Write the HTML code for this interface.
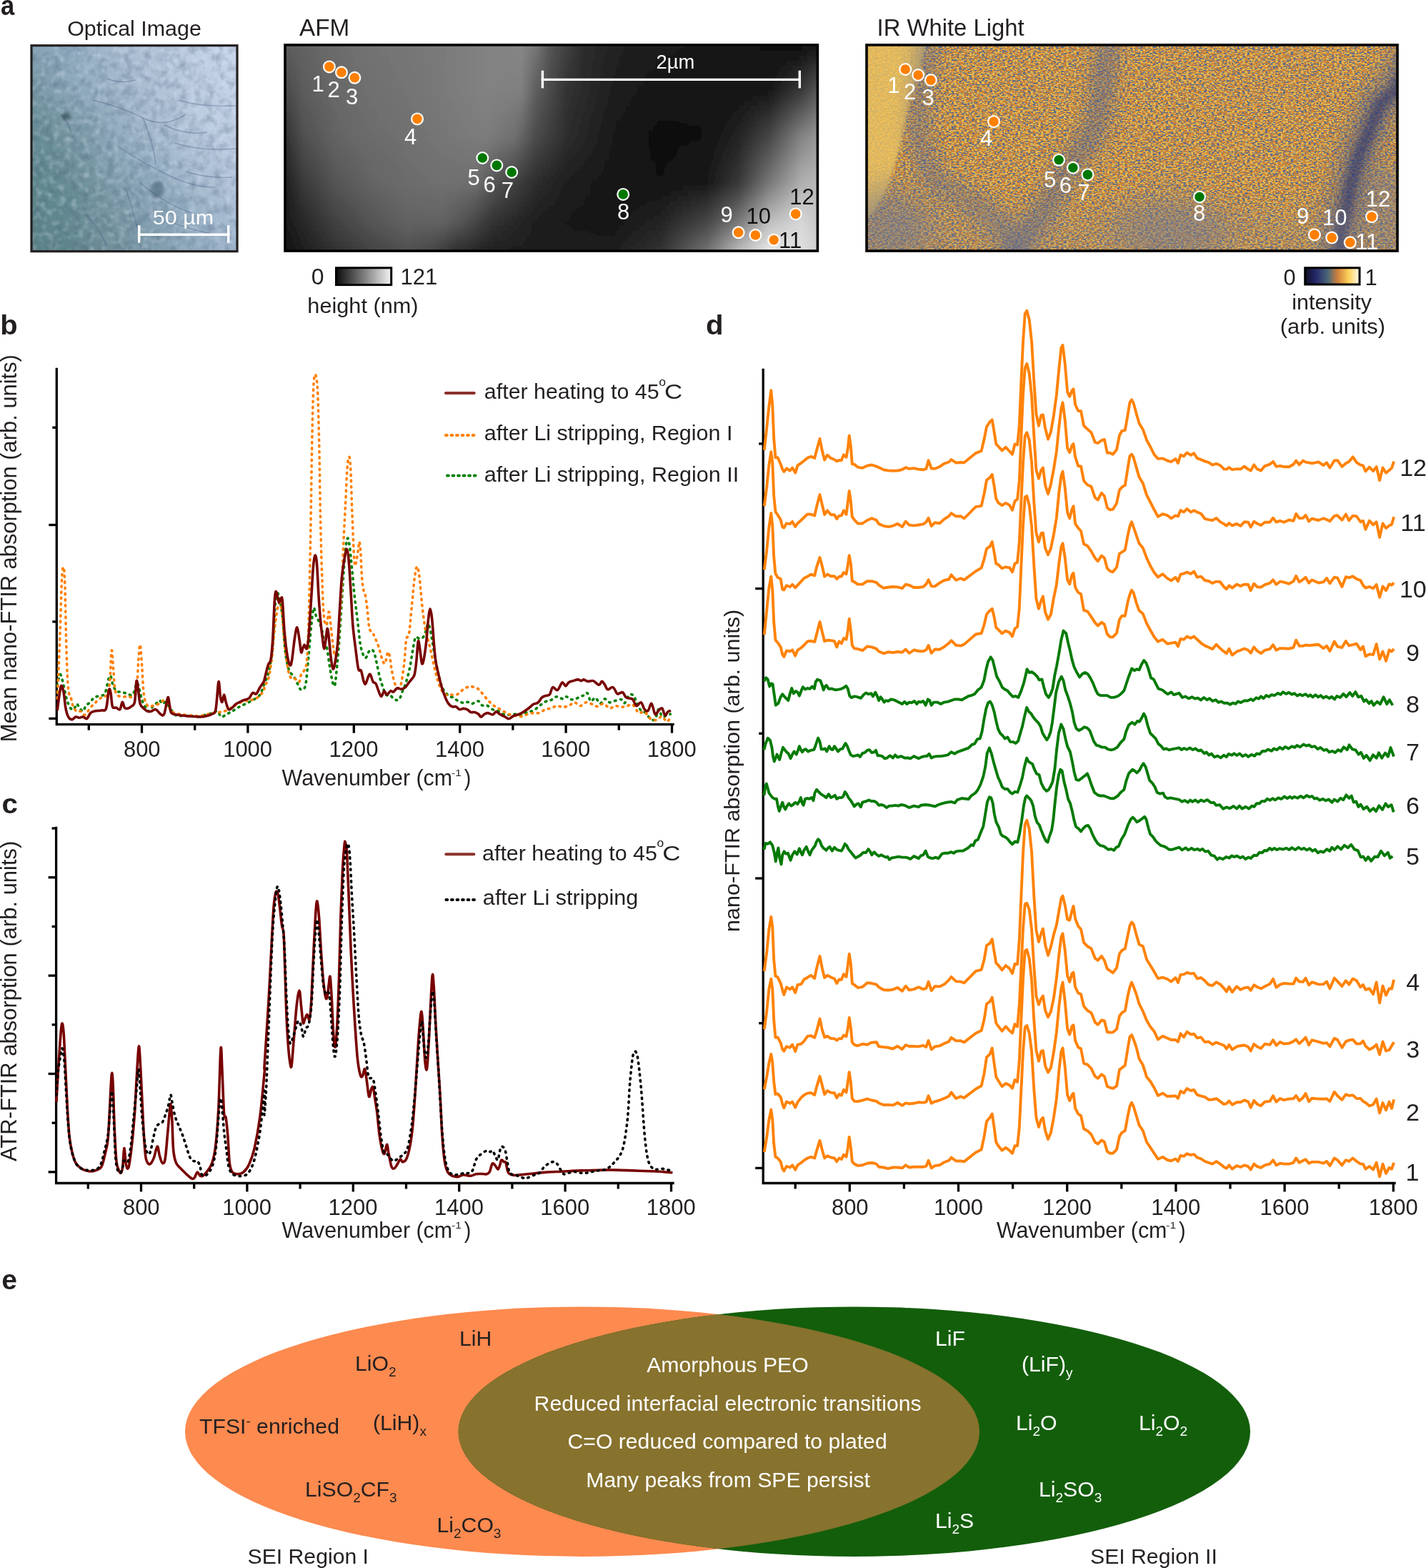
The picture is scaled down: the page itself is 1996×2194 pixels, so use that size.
<!DOCTYPE html>
<html><head><meta charset="utf-8"><title>Figure</title>
<style>html,body{margin:0;padding:0;background:#fff;} svg{display:block;} text{font-family:'Liberation Sans', Arial, Helvetica, sans-serif;}</style>
</head><body>
<svg xmlns="http://www.w3.org/2000/svg" width="1996" height="2194" viewBox="0 0 1996 2194">
<rect width="1996" height="2194" fill="#fff"/>
<text x="1.10" y="20.50" font-size="38" fill="#231f20" font-weight="bold" textLength="19.26" lengthAdjust="spacingAndGlyphs">a</text>
<text x="94.18" y="49.60" font-size="30" fill="#231f20" textLength="187.72" lengthAdjust="spacingAndGlyphs">Optical Image</text>
<text x="419.00" y="50.10" font-size="33" fill="#231f20" textLength="70.18" lengthAdjust="spacingAndGlyphs">AFM</text>
<text x="1227.62" y="50.00" font-size="33" fill="#231f20" textLength="205.93" lengthAdjust="spacingAndGlyphs">IR White Light</text>
<defs>
<linearGradient id="optg" x1="0" y1="1" x2="1" y2="0">
 <stop offset="0" stop-color="#5a8487"/>
 <stop offset="0.45" stop-color="#7f9fb0"/>
 <stop offset="0.75" stop-color="#a9bfd3"/>
 <stop offset="1" stop-color="#c9d6e8"/>
</linearGradient>
<filter id="blur20" x="-50%" y="-50%" width="200%" height="200%"><feGaussianBlur stdDeviation="20"/></filter>
<filter id="blur30" x="-50%" y="-50%" width="200%" height="200%"><feGaussianBlur stdDeviation="30"/></filter>
<filter id="blur12" x="-50%" y="-50%" width="200%" height="200%"><feGaussianBlur stdDeviation="12"/></filter>
<filter id="blur6" x="-50%" y="-50%" width="200%" height="200%"><feGaussianBlur stdDeviation="6"/></filter>
<filter id="blur3" x="-50%" y="-50%" width="200%" height="200%"><feGaussianBlur stdDeviation="2"/></filter>
<filter id="noisef" x="0" y="0" width="100%" height="100%" color-interpolation-filters="sRGB"><feTurbulence type="fractalNoise" baseFrequency="0.28 0.55" numOctaves="1" seed="3" result="t"/>
<feColorMatrix in="t" type="matrix" values="0 0 0 0 0.31  0 0 0 0 0.42  0 0 0 0 0.59  0 0 0 -22 10.7"/></filter>
<filter id="noisey" x="0" y="0" width="100%" height="100%" color-interpolation-filters="sRGB"><feTurbulence type="fractalNoise" baseFrequency="0.28 0.55" numOctaves="1" seed="11" result="t"/>
<feColorMatrix in="t" type="matrix" values="0 0 0 0 0.96  0 0 0 0 0.80  0 0 0 0 0.33  0 0 0 22 -11.3"/></filter>
<filter id="optnoise" x="0" y="0" width="100%" height="100%" color-interpolation-filters="sRGB"><feTurbulence type="fractalNoise" baseFrequency="0.08" numOctaves="3" seed="7" result="t"/>
<feColorMatrix in="t" type="matrix" values="0 0 0 0 0.25  0 0 0 0 0.35  0 0 0 0 0.45  0 0 0 2.2 -0.9"/></filter>
<filter id="optlight" x="0" y="0" width="100%" height="100%" color-interpolation-filters="sRGB"><feTurbulence type="fractalNoise" baseFrequency="0.12" numOctaves="2" seed="21" result="t"/>
<feColorMatrix in="t" type="matrix" values="0 0 0 0 0.86  0 0 0 0 0.9  0 0 0 0 0.96  0 0 0 3 -1.45"/><feGaussianBlur stdDeviation="0.8"/></filter>
<clipPath id="optclip"><rect x="44" y="64" width="288" height="288"/></clipPath>
<pattern id="irnoise" width="300" height="150" patternUnits="userSpaceOnUse"><rect width="300" height="150" filter="url(#noisef)"/></pattern>
<pattern id="irnoisey" width="300" height="150" patternUnits="userSpaceOnUse"><rect width="300" height="150" filter="url(#noisey)"/></pattern>
<clipPath id="afmclip"><rect x="400" y="64" width="744" height="287"/></clipPath>
<clipPath id="irclip"><rect x="1214" y="64" width="742" height="287"/></clipPath>
</defs>
<g clip-path="url(#optclip)">
<defs><linearGradient id="opt0" gradientUnits="userSpaceOnUse" x1="44" x2="332" y1="0" y2="0"><stop offset="0.0000" stop-color="#84a0b2"/><stop offset="0.1944" stop-color="#96afc4"/><stop offset="0.4028" stop-color="#a6bace"/><stop offset="0.6111" stop-color="#b5c5d9"/><stop offset="0.8194" stop-color="#c2d0e4"/><stop offset="1.0000" stop-color="#c8d5e9"/></linearGradient><linearGradient id="opt1" gradientUnits="userSpaceOnUse" x1="44" x2="332" y1="0" y2="0"><stop offset="0.0000" stop-color="#839fb1"/><stop offset="0.1944" stop-color="#95aec3"/><stop offset="0.4028" stop-color="#a6bace"/><stop offset="0.6111" stop-color="#b5c5d9"/><stop offset="0.8194" stop-color="#c2d0e4"/><stop offset="1.0000" stop-color="#c8d5e9"/></linearGradient><linearGradient id="opt2" gradientUnits="userSpaceOnUse" x1="44" x2="332" y1="0" y2="0"><stop offset="0.0000" stop-color="#819eaf"/><stop offset="0.1944" stop-color="#94aec2"/><stop offset="0.4028" stop-color="#a5b9cd"/><stop offset="0.6111" stop-color="#b4c4d8"/><stop offset="0.8194" stop-color="#c1cfe3"/><stop offset="1.0000" stop-color="#c8d5e9"/></linearGradient><linearGradient id="opt3" gradientUnits="userSpaceOnUse" x1="44" x2="332" y1="0" y2="0"><stop offset="0.0000" stop-color="#7f9cac"/><stop offset="0.1944" stop-color="#92acc0"/><stop offset="0.4028" stop-color="#a4b8cc"/><stop offset="0.6111" stop-color="#b3c4d8"/><stop offset="0.8194" stop-color="#c1cfe3"/><stop offset="1.0000" stop-color="#c7d4e8"/></linearGradient><linearGradient id="opt4" gradientUnits="userSpaceOnUse" x1="44" x2="332" y1="0" y2="0"><stop offset="0.0000" stop-color="#7d9baa"/><stop offset="0.1944" stop-color="#91acbf"/><stop offset="0.4028" stop-color="#a3b8cc"/><stop offset="0.6111" stop-color="#b2c3d7"/><stop offset="0.8194" stop-color="#c0cee2"/><stop offset="1.0000" stop-color="#c7d4e8"/></linearGradient><linearGradient id="opt5" gradientUnits="userSpaceOnUse" x1="44" x2="332" y1="0" y2="0"><stop offset="0.0000" stop-color="#7b9aa8"/><stop offset="0.1944" stop-color="#90aabe"/><stop offset="0.4028" stop-color="#a2b7cb"/><stop offset="0.6111" stop-color="#b2c2d6"/><stop offset="0.8194" stop-color="#c0cee2"/><stop offset="1.0000" stop-color="#c7d4e8"/></linearGradient><linearGradient id="opt6" gradientUnits="userSpaceOnUse" x1="44" x2="332" y1="0" y2="0"><stop offset="0.0000" stop-color="#7998a5"/><stop offset="0.1944" stop-color="#8eaabc"/><stop offset="0.4028" stop-color="#a1b6ca"/><stop offset="0.6111" stop-color="#b1c2d6"/><stop offset="0.8194" stop-color="#c0cee2"/><stop offset="1.0000" stop-color="#c6d3e7"/></linearGradient><linearGradient id="opt7" gradientUnits="userSpaceOnUse" x1="44" x2="332" y1="0" y2="0"><stop offset="0.0000" stop-color="#7797a3"/><stop offset="0.1944" stop-color="#8da8bb"/><stop offset="0.4028" stop-color="#a0b5c9"/><stop offset="0.6111" stop-color="#b0c1d5"/><stop offset="0.8194" stop-color="#bfcde1"/><stop offset="1.0000" stop-color="#c6d3e7"/></linearGradient><linearGradient id="opt8" gradientUnits="userSpaceOnUse" x1="44" x2="332" y1="0" y2="0"><stop offset="0.0000" stop-color="#7595a1"/><stop offset="0.1944" stop-color="#8ba7b9"/><stop offset="0.4028" stop-color="#9fb4c8"/><stop offset="0.6111" stop-color="#afc1d5"/><stop offset="0.8194" stop-color="#bfcde1"/><stop offset="1.0000" stop-color="#c6d3e7"/></linearGradient><linearGradient id="opt9" gradientUnits="userSpaceOnUse" x1="44" x2="332" y1="0" y2="0"><stop offset="0.0000" stop-color="#73949f"/><stop offset="0.1944" stop-color="#88a5b6"/><stop offset="0.4028" stop-color="#9db3c7"/><stop offset="0.6111" stop-color="#aec0d4"/><stop offset="0.8194" stop-color="#becce0"/><stop offset="1.0000" stop-color="#c5d2e6"/></linearGradient><linearGradient id="opt10" gradientUnits="userSpaceOnUse" x1="44" x2="332" y1="0" y2="0"><stop offset="0.0000" stop-color="#71939d"/><stop offset="0.1944" stop-color="#86a3b3"/><stop offset="0.4028" stop-color="#9bb2c5"/><stop offset="0.6111" stop-color="#adbfd3"/><stop offset="0.8194" stop-color="#bdcce0"/><stop offset="1.0000" stop-color="#c4d2e6"/></linearGradient><linearGradient id="opt11" gradientUnits="userSpaceOnUse" x1="44" x2="332" y1="0" y2="0"><stop offset="0.0000" stop-color="#6f919b"/><stop offset="0.1944" stop-color="#84a1b1"/><stop offset="0.4028" stop-color="#99b0c3"/><stop offset="0.6111" stop-color="#abbed2"/><stop offset="0.8194" stop-color="#bccbdf"/><stop offset="1.0000" stop-color="#c4d1e5"/></linearGradient><linearGradient id="opt12" gradientUnits="userSpaceOnUse" x1="44" x2="332" y1="0" y2="0"><stop offset="0.0000" stop-color="#6c909a"/><stop offset="0.1944" stop-color="#819fae"/><stop offset="0.4028" stop-color="#98afc2"/><stop offset="0.6111" stop-color="#aabdd1"/><stop offset="0.8194" stop-color="#bbcbdf"/><stop offset="1.0000" stop-color="#c3d1e5"/></linearGradient><linearGradient id="opt13" gradientUnits="userSpaceOnUse" x1="44" x2="332" y1="0" y2="0"><stop offset="0.0000" stop-color="#6a8f98"/><stop offset="0.1944" stop-color="#7f9dab"/><stop offset="0.4028" stop-color="#96aec0"/><stop offset="0.6111" stop-color="#a9bcd0"/><stop offset="0.8194" stop-color="#bbcade"/><stop offset="1.0000" stop-color="#c2d0e4"/></linearGradient><linearGradient id="opt14" gradientUnits="userSpaceOnUse" x1="44" x2="332" y1="0" y2="0"><stop offset="0.0000" stop-color="#688d96"/><stop offset="0.1944" stop-color="#7c9ba9"/><stop offset="0.4028" stop-color="#94acbf"/><stop offset="0.6111" stop-color="#a7bbcf"/><stop offset="0.8194" stop-color="#bacade"/><stop offset="1.0000" stop-color="#c2d0e4"/></linearGradient><linearGradient id="opt15" gradientUnits="userSpaceOnUse" x1="44" x2="332" y1="0" y2="0"><stop offset="0.0000" stop-color="#668c94"/><stop offset="0.1944" stop-color="#7a99a6"/><stop offset="0.4028" stop-color="#92abbd"/><stop offset="0.6111" stop-color="#a6bace"/><stop offset="0.8194" stop-color="#b9c9dd"/><stop offset="1.0000" stop-color="#c1cfe3"/></linearGradient><linearGradient id="opt16" gradientUnits="userSpaceOnUse" x1="44" x2="332" y1="0" y2="0"><stop offset="0.0000" stop-color="#658b93"/><stop offset="0.1944" stop-color="#7898a4"/><stop offset="0.4028" stop-color="#90aabb"/><stop offset="0.6111" stop-color="#a4b9cd"/><stop offset="0.8194" stop-color="#b7c8dc"/><stop offset="1.0000" stop-color="#c0cee2"/></linearGradient><linearGradient id="opt17" gradientUnits="userSpaceOnUse" x1="44" x2="332" y1="0" y2="0"><stop offset="0.0000" stop-color="#648b92"/><stop offset="0.1944" stop-color="#7696a2"/><stop offset="0.4028" stop-color="#8ea8ba"/><stop offset="0.6111" stop-color="#a2b7cb"/><stop offset="0.8194" stop-color="#b5c6da"/><stop offset="1.0000" stop-color="#bfcde2"/></linearGradient><linearGradient id="opt18" gradientUnits="userSpaceOnUse" x1="44" x2="332" y1="0" y2="0"><stop offset="0.0000" stop-color="#638a91"/><stop offset="0.1944" stop-color="#7495a0"/><stop offset="0.4028" stop-color="#8ca7b8"/><stop offset="0.6111" stop-color="#a0b6ca"/><stop offset="0.8194" stop-color="#b3c5d9"/><stop offset="1.0000" stop-color="#becde1"/></linearGradient><linearGradient id="opt19" gradientUnits="userSpaceOnUse" x1="44" x2="332" y1="0" y2="0"><stop offset="0.0000" stop-color="#628990"/><stop offset="0.1944" stop-color="#71939e"/><stop offset="0.4028" stop-color="#8aa6b6"/><stop offset="0.6111" stop-color="#9eb5c9"/><stop offset="0.8194" stop-color="#b2c4d8"/><stop offset="1.0000" stop-color="#bdcce1"/></linearGradient><linearGradient id="opt20" gradientUnits="userSpaceOnUse" x1="44" x2="332" y1="0" y2="0"><stop offset="0.0000" stop-color="#61898f"/><stop offset="0.1944" stop-color="#6f929c"/><stop offset="0.4028" stop-color="#88a4b4"/><stop offset="0.6111" stop-color="#9cb3c7"/><stop offset="0.8194" stop-color="#b0c2d6"/><stop offset="1.0000" stop-color="#bccbe0"/></linearGradient><linearGradient id="opt21" gradientUnits="userSpaceOnUse" x1="44" x2="332" y1="0" y2="0"><stop offset="0.0000" stop-color="#60888e"/><stop offset="0.1944" stop-color="#6d909a"/><stop offset="0.4028" stop-color="#86a3b3"/><stop offset="0.6111" stop-color="#9ab2c6"/><stop offset="0.8194" stop-color="#aec1d5"/><stop offset="1.0000" stop-color="#bbcae0"/></linearGradient><linearGradient id="opt22" gradientUnits="userSpaceOnUse" x1="44" x2="332" y1="0" y2="0"><stop offset="0.0000" stop-color="#5f878d"/><stop offset="0.1944" stop-color="#6b8f98"/><stop offset="0.4028" stop-color="#84a2b1"/><stop offset="0.6111" stop-color="#98b1c5"/><stop offset="0.8194" stop-color="#acc0d4"/><stop offset="1.0000" stop-color="#bac9df"/></linearGradient><linearGradient id="opt23" gradientUnits="userSpaceOnUse" x1="44" x2="332" y1="0" y2="0"><stop offset="0.0000" stop-color="#5f878c"/><stop offset="0.1944" stop-color="#6a8e97"/><stop offset="0.4028" stop-color="#82a0af"/><stop offset="0.6111" stop-color="#96afc3"/><stop offset="0.8194" stop-color="#aabed2"/><stop offset="1.0000" stop-color="#b9c8de"/></linearGradient><linearGradient id="opt24" gradientUnits="userSpaceOnUse" x1="44" x2="332" y1="0" y2="0"><stop offset="0.0000" stop-color="#5e868b"/><stop offset="0.1944" stop-color="#698d96"/><stop offset="0.4028" stop-color="#819fad"/><stop offset="0.6111" stop-color="#94adc1"/><stop offset="0.8194" stop-color="#a8bdd1"/><stop offset="1.0000" stop-color="#b7c7dd"/></linearGradient><linearGradient id="opt25" gradientUnits="userSpaceOnUse" x1="44" x2="332" y1="0" y2="0"><stop offset="0.0000" stop-color="#5e868b"/><stop offset="0.1944" stop-color="#688d95"/><stop offset="0.4028" stop-color="#7f9dab"/><stop offset="0.6111" stop-color="#92acbf"/><stop offset="0.8194" stop-color="#a6bbcf"/><stop offset="1.0000" stop-color="#b5c6dc"/></linearGradient><linearGradient id="opt26" gradientUnits="userSpaceOnUse" x1="44" x2="332" y1="0" y2="0"><stop offset="0.0000" stop-color="#5e868b"/><stop offset="0.1944" stop-color="#678c94"/><stop offset="0.4028" stop-color="#7e9ca9"/><stop offset="0.6111" stop-color="#90aabd"/><stop offset="0.8194" stop-color="#a4b9cd"/><stop offset="1.0000" stop-color="#b3c4da"/></linearGradient><linearGradient id="opt27" gradientUnits="userSpaceOnUse" x1="44" x2="332" y1="0" y2="0"><stop offset="0.0000" stop-color="#5d858a"/><stop offset="0.1944" stop-color="#668c93"/><stop offset="0.4028" stop-color="#7c9aa8"/><stop offset="0.6111" stop-color="#8ea8bb"/><stop offset="0.8194" stop-color="#a2b8cc"/><stop offset="1.0000" stop-color="#b1c3d9"/></linearGradient><linearGradient id="opt28" gradientUnits="userSpaceOnUse" x1="44" x2="332" y1="0" y2="0"><stop offset="0.0000" stop-color="#5d858a"/><stop offset="0.1944" stop-color="#668b93"/><stop offset="0.4028" stop-color="#7b99a6"/><stop offset="0.6111" stop-color="#8ca6b9"/><stop offset="0.8194" stop-color="#a0b6ca"/><stop offset="1.0000" stop-color="#afc2d8"/></linearGradient><linearGradient id="opt29" gradientUnits="userSpaceOnUse" x1="44" x2="332" y1="0" y2="0"><stop offset="0.0000" stop-color="#5c8489"/><stop offset="0.1944" stop-color="#658b92"/><stop offset="0.4028" stop-color="#7997a4"/><stop offset="0.6111" stop-color="#8aa5b7"/><stop offset="0.8194" stop-color="#9eb5c9"/><stop offset="1.0000" stop-color="#adc0d6"/></linearGradient><linearGradient id="opt30" gradientUnits="userSpaceOnUse" x1="44" x2="332" y1="0" y2="0"><stop offset="0.0000" stop-color="#5c8489"/><stop offset="0.1944" stop-color="#648a91"/><stop offset="0.4028" stop-color="#7896a2"/><stop offset="0.6111" stop-color="#88a3b5"/><stop offset="0.8194" stop-color="#9cb3c7"/><stop offset="1.0000" stop-color="#abbfd5"/></linearGradient><linearGradient id="opt31" gradientUnits="userSpaceOnUse" x1="44" x2="332" y1="0" y2="0"><stop offset="0.0000" stop-color="#5c8389"/><stop offset="0.1944" stop-color="#648990"/><stop offset="0.4028" stop-color="#7795a1"/><stop offset="0.6111" stop-color="#86a2b3"/><stop offset="0.8194" stop-color="#9ab2c6"/><stop offset="1.0000" stop-color="#a9bed4"/></linearGradient><linearGradient id="opt32" gradientUnits="userSpaceOnUse" x1="44" x2="332" y1="0" y2="0"><stop offset="0.0000" stop-color="#5b8388"/><stop offset="0.1944" stop-color="#638990"/><stop offset="0.4028" stop-color="#7694a0"/><stop offset="0.6111" stop-color="#85a1b2"/><stop offset="0.8194" stop-color="#99b1c5"/><stop offset="1.0000" stop-color="#a8bdd3"/></linearGradient><linearGradient id="opt33" gradientUnits="userSpaceOnUse" x1="44" x2="332" y1="0" y2="0"><stop offset="0.0000" stop-color="#5b8288"/><stop offset="0.1944" stop-color="#63888f"/><stop offset="0.4028" stop-color="#75949f"/><stop offset="0.6111" stop-color="#83a0b0"/><stop offset="0.8194" stop-color="#97afc3"/><stop offset="1.0000" stop-color="#a6bbd2"/></linearGradient><linearGradient id="opt34" gradientUnits="userSpaceOnUse" x1="44" x2="332" y1="0" y2="0"><stop offset="0.0000" stop-color="#5b8287"/><stop offset="0.1944" stop-color="#62888f"/><stop offset="0.4028" stop-color="#74939e"/><stop offset="0.6111" stop-color="#829faf"/><stop offset="0.8194" stop-color="#96aec2"/><stop offset="1.0000" stop-color="#a5bad1"/></linearGradient><linearGradient id="opt35" gradientUnits="userSpaceOnUse" x1="44" x2="332" y1="0" y2="0"><stop offset="0.0000" stop-color="#5a8187"/><stop offset="0.1944" stop-color="#62878e"/><stop offset="0.4028" stop-color="#73929d"/><stop offset="0.6111" stop-color="#809ead"/><stop offset="0.8194" stop-color="#94adc1"/><stop offset="1.0000" stop-color="#a3b9d0"/></linearGradient><linearGradient id="opt36" gradientUnits="userSpaceOnUse" x1="44" x2="332" y1="0" y2="0"><stop offset="0.0000" stop-color="#5a8086"/><stop offset="0.1944" stop-color="#61868d"/><stop offset="0.4028" stop-color="#72919c"/><stop offset="0.6111" stop-color="#7f9dac"/><stop offset="0.8194" stop-color="#93acc0"/><stop offset="1.0000" stop-color="#a2b8cf"/></linearGradient><linearGradient id="opt37" gradientUnits="userSpaceOnUse" x1="44" x2="332" y1="0" y2="0"><stop offset="0.0000" stop-color="#5a8086"/><stop offset="0.1944" stop-color="#61868d"/><stop offset="0.4028" stop-color="#72919b"/><stop offset="0.6111" stop-color="#7e9cab"/><stop offset="0.8194" stop-color="#92abbf"/><stop offset="1.0000" stop-color="#a1b7ce"/></linearGradient><linearGradient id="opt38" gradientUnits="userSpaceOnUse" x1="44" x2="332" y1="0" y2="0"><stop offset="0.0000" stop-color="#5a8086"/><stop offset="0.1944" stop-color="#61868d"/><stop offset="0.4028" stop-color="#72919b"/><stop offset="0.6111" stop-color="#7e9cab"/><stop offset="0.8194" stop-color="#92abbf"/><stop offset="1.0000" stop-color="#a1b7ce"/></linearGradient><filter id="optf" x="-5%" y="-5%" width="110%" height="110%"><feGaussianBlur stdDeviation="1.7 5"/></filter></defs><g filter="url(#optf)"><rect x="24" y="56.0" width="328" height="8.6" fill="url(#opt0)"/><rect x="24" y="64.0" width="328" height="8.6" fill="url(#opt1)"/><rect x="24" y="72.0" width="328" height="8.6" fill="url(#opt2)"/><rect x="24" y="80.0" width="328" height="8.6" fill="url(#opt3)"/><rect x="24" y="88.0" width="328" height="8.6" fill="url(#opt4)"/><rect x="24" y="96.0" width="328" height="8.6" fill="url(#opt5)"/><rect x="24" y="104.0" width="328" height="8.6" fill="url(#opt6)"/><rect x="24" y="112.0" width="328" height="8.6" fill="url(#opt7)"/><rect x="24" y="120.0" width="328" height="8.6" fill="url(#opt8)"/><rect x="24" y="128.0" width="328" height="8.6" fill="url(#opt9)"/><rect x="24" y="136.0" width="328" height="8.6" fill="url(#opt10)"/><rect x="24" y="144.0" width="328" height="8.6" fill="url(#opt11)"/><rect x="24" y="152.0" width="328" height="8.6" fill="url(#opt12)"/><rect x="24" y="160.0" width="328" height="8.6" fill="url(#opt13)"/><rect x="24" y="168.0" width="328" height="8.6" fill="url(#opt14)"/><rect x="24" y="176.0" width="328" height="8.6" fill="url(#opt15)"/><rect x="24" y="184.0" width="328" height="8.6" fill="url(#opt16)"/><rect x="24" y="192.0" width="328" height="8.6" fill="url(#opt17)"/><rect x="24" y="200.0" width="328" height="8.6" fill="url(#opt18)"/><rect x="24" y="208.0" width="328" height="8.6" fill="url(#opt19)"/><rect x="24" y="216.0" width="328" height="8.6" fill="url(#opt20)"/><rect x="24" y="224.0" width="328" height="8.6" fill="url(#opt21)"/><rect x="24" y="232.0" width="328" height="8.6" fill="url(#opt22)"/><rect x="24" y="240.0" width="328" height="8.6" fill="url(#opt23)"/><rect x="24" y="248.0" width="328" height="8.6" fill="url(#opt24)"/><rect x="24" y="256.0" width="328" height="8.6" fill="url(#opt25)"/><rect x="24" y="264.0" width="328" height="8.6" fill="url(#opt26)"/><rect x="24" y="272.0" width="328" height="8.6" fill="url(#opt27)"/><rect x="24" y="280.0" width="328" height="8.6" fill="url(#opt28)"/><rect x="24" y="288.0" width="328" height="8.6" fill="url(#opt29)"/><rect x="24" y="296.0" width="328" height="8.6" fill="url(#opt30)"/><rect x="24" y="304.0" width="328" height="8.6" fill="url(#opt31)"/><rect x="24" y="312.0" width="328" height="8.6" fill="url(#opt32)"/><rect x="24" y="320.0" width="328" height="8.6" fill="url(#opt33)"/><rect x="24" y="328.0" width="328" height="8.6" fill="url(#opt34)"/><rect x="24" y="336.0" width="328" height="8.6" fill="url(#opt35)"/><rect x="24" y="344.0" width="328" height="8.6" fill="url(#opt36)"/><rect x="24" y="352.0" width="328" height="8.6" fill="url(#opt37)"/><rect x="24" y="360.0" width="328" height="8.6" fill="url(#opt38)"/></g>
<rect x="44" y="64" width="288" height="288" filter="url(#optnoise)" opacity="0.3"/>
<rect x="44" y="64" width="288" height="288" filter="url(#optlight)" opacity="0.35"/>
<path d="M130 140 Q170 150 200 165 T260 160" fill="none" stroke="#4c5c88" stroke-width="1.4" opacity="0.4"/>
<path d="M200 165 Q215 200 218 230" fill="none" stroke="#4c5c88" stroke-width="1.4" opacity="0.4"/>
<path d="M165 205 Q200 228 235 245 T300 262" fill="none" stroke="#4c5c88" stroke-width="1.4" opacity="0.4"/>
<path d="M195 255 Q230 285 268 298" fill="none" stroke="#4c5c88" stroke-width="1.4" opacity="0.4"/>
<path d="M215 300 Q250 318 300 328" fill="none" stroke="#4c5c88" stroke-width="1.4" opacity="0.4"/>
<path d="M250 140 Q280 150 330 148" fill="none" stroke="#4c5c88" stroke-width="1.4" opacity="0.4"/>
<path d="M245 200 Q280 212 330 208" fill="none" stroke="#4c5c88" stroke-width="1.4" opacity="0.4"/>
<path d="M175 262 Q190 300 198 350" fill="none" stroke="#4c5c88" stroke-width="1.4" opacity="0.4"/>
<path d="M85 160 Q95 170 100 185" fill="none" stroke="#4c5c88" stroke-width="1.4" opacity="0.4"/>
<path d="M230 175 Q260 190 290 185" fill="none" stroke="#4c5c88" stroke-width="1.4" opacity="0.4"/>
<path d="M150 110 Q170 118 190 112" fill="none" stroke="#4c5c88" stroke-width="1.4" opacity="0.4"/>
<path d="M260 240 Q290 250 325 248" fill="none" stroke="#4c5c88" stroke-width="1.4" opacity="0.4"/>
<path d="M120 300 Q140 320 150 345" fill="none" stroke="#4c5c88" stroke-width="1.4" opacity="0.4"/>
<ellipse cx="220" cy="265" rx="10" ry="12" fill="#3e5a6a" opacity="0.5" filter="url(#blur3)"/>
<ellipse cx="92" cy="163" rx="7" ry="5" fill="#2e4a50" opacity="0.6" filter="url(#blur3)"/>
</g>
<rect x="44" y="63.7" width="288" height="288" fill="none" stroke="#231f20" stroke-width="3.2"/>
<g stroke="#fff" stroke-width="3.4" fill="none"><line x1="193" y1="328.3" x2="321.4" y2="328.3"/><line x1="194.7" y1="315.2" x2="194.7" y2="339.7"/><line x1="319.7" y1="315.2" x2="319.7" y2="339.7"/></g>
<text x="213.71" y="314.40" font-size="28.5" fill="#fff" textLength="85.50" lengthAdjust="spacingAndGlyphs">50 µm</text>
<g clip-path="url(#afmclip)">
<defs><linearGradient id="afm0" gradientUnits="userSpaceOnUse" x1="400" x2="1144" y1="0" y2="0"><stop offset="0.0000" stop-color="#5c5c5c"/><stop offset="0.0336" stop-color="#626262"/><stop offset="0.0941" stop-color="#6c6c6c"/><stop offset="0.1613" stop-color="#737373"/><stop offset="0.2285" stop-color="#767676"/><stop offset="0.2755" stop-color="#797979"/><stop offset="0.2957" stop-color="#7a7a7a"/><stop offset="0.3226" stop-color="#7d7d7d"/><stop offset="0.3360" stop-color="#7e7e7e"/><stop offset="0.3562" stop-color="#808080"/><stop offset="0.3763" stop-color="#828282"/><stop offset="0.3898" stop-color="#838383"/><stop offset="0.4032" stop-color="#838383"/><stop offset="0.4301" stop-color="#848484"/><stop offset="0.4435" stop-color="#858585"/><stop offset="0.4704" stop-color="#767676"/><stop offset="0.4973" stop-color="#555555"/><stop offset="0.5296" stop-color="#404040"/><stop offset="0.5578" stop-color="#2d2d2d"/><stop offset="0.6169" stop-color="#232323"/><stop offset="0.6452" stop-color="#1e1e1e"/><stop offset="0.7043" stop-color="#1c1c1c"/><stop offset="0.7661" stop-color="#191919"/><stop offset="0.7930" stop-color="#171717"/><stop offset="0.8508" stop-color="#141414"/><stop offset="0.8804" stop-color="#121212"/><stop offset="0.9099" stop-color="#111111"/><stop offset="0.9691" stop-color="#0f0f0f"/><stop offset="1.0000" stop-color="#141414"/></linearGradient><linearGradient id="afm1" gradientUnits="userSpaceOnUse" x1="400" x2="1144" y1="0" y2="0"><stop offset="0.0000" stop-color="#5b5b5b"/><stop offset="0.0336" stop-color="#626262"/><stop offset="0.0941" stop-color="#6c6c6c"/><stop offset="0.1613" stop-color="#737373"/><stop offset="0.2285" stop-color="#767676"/><stop offset="0.2755" stop-color="#797979"/><stop offset="0.2957" stop-color="#7a7a7a"/><stop offset="0.3226" stop-color="#7d7d7d"/><stop offset="0.3360" stop-color="#7e7e7e"/><stop offset="0.3562" stop-color="#808080"/><stop offset="0.3763" stop-color="#828282"/><stop offset="0.3898" stop-color="#838383"/><stop offset="0.4032" stop-color="#838383"/><stop offset="0.4301" stop-color="#848484"/><stop offset="0.4435" stop-color="#858585"/><stop offset="0.4704" stop-color="#757575"/><stop offset="0.4973" stop-color="#545454"/><stop offset="0.5296" stop-color="#3f3f3f"/><stop offset="0.5578" stop-color="#2d2d2d"/><stop offset="0.6169" stop-color="#232323"/><stop offset="0.6452" stop-color="#1e1e1e"/><stop offset="0.7043" stop-color="#1b1b1b"/><stop offset="0.7661" stop-color="#191919"/><stop offset="0.7930" stop-color="#171717"/><stop offset="0.8508" stop-color="#141414"/><stop offset="0.8804" stop-color="#121212"/><stop offset="0.9099" stop-color="#111111"/><stop offset="0.9691" stop-color="#111111"/><stop offset="1.0000" stop-color="#181818"/></linearGradient><linearGradient id="afm2" gradientUnits="userSpaceOnUse" x1="400" x2="1144" y1="0" y2="0"><stop offset="0.0000" stop-color="#595959"/><stop offset="0.0336" stop-color="#616161"/><stop offset="0.0941" stop-color="#6b6b6b"/><stop offset="0.1613" stop-color="#727272"/><stop offset="0.2285" stop-color="#767676"/><stop offset="0.2755" stop-color="#797979"/><stop offset="0.2957" stop-color="#7a7a7a"/><stop offset="0.3226" stop-color="#7d7d7d"/><stop offset="0.3360" stop-color="#7e7e7e"/><stop offset="0.3562" stop-color="#808080"/><stop offset="0.3763" stop-color="#828282"/><stop offset="0.3898" stop-color="#828282"/><stop offset="0.4032" stop-color="#838383"/><stop offset="0.4301" stop-color="#848484"/><stop offset="0.4435" stop-color="#848484"/><stop offset="0.4704" stop-color="#727272"/><stop offset="0.4973" stop-color="#535353"/><stop offset="0.5296" stop-color="#3d3d3d"/><stop offset="0.5578" stop-color="#2d2d2d"/><stop offset="0.6169" stop-color="#222222"/><stop offset="0.6452" stop-color="#1e1e1e"/><stop offset="0.7043" stop-color="#1b1b1b"/><stop offset="0.7661" stop-color="#181818"/><stop offset="0.7930" stop-color="#161616"/><stop offset="0.8508" stop-color="#131313"/><stop offset="0.8804" stop-color="#121212"/><stop offset="0.9099" stop-color="#121212"/><stop offset="0.9691" stop-color="#161616"/><stop offset="1.0000" stop-color="#1f1f1f"/></linearGradient><linearGradient id="afm3" gradientUnits="userSpaceOnUse" x1="400" x2="1144" y1="0" y2="0"><stop offset="0.0000" stop-color="#575757"/><stop offset="0.0336" stop-color="#606060"/><stop offset="0.0941" stop-color="#6b6b6b"/><stop offset="0.1613" stop-color="#727272"/><stop offset="0.2285" stop-color="#757575"/><stop offset="0.2755" stop-color="#797979"/><stop offset="0.2957" stop-color="#7a7a7a"/><stop offset="0.3226" stop-color="#7d7d7d"/><stop offset="0.3360" stop-color="#7e7e7e"/><stop offset="0.3562" stop-color="#808080"/><stop offset="0.3763" stop-color="#828282"/><stop offset="0.3898" stop-color="#828282"/><stop offset="0.4032" stop-color="#838383"/><stop offset="0.4301" stop-color="#838383"/><stop offset="0.4435" stop-color="#848484"/><stop offset="0.4704" stop-color="#6f6f6f"/><stop offset="0.4973" stop-color="#525252"/><stop offset="0.5296" stop-color="#3c3c3c"/><stop offset="0.5578" stop-color="#2d2d2d"/><stop offset="0.6169" stop-color="#212121"/><stop offset="0.6452" stop-color="#1d1d1d"/><stop offset="0.7043" stop-color="#1a1a1a"/><stop offset="0.7661" stop-color="#171717"/><stop offset="0.7930" stop-color="#161616"/><stop offset="0.8508" stop-color="#131313"/><stop offset="0.8804" stop-color="#131313"/><stop offset="0.9099" stop-color="#121212"/><stop offset="0.9691" stop-color="#1a1a1a"/><stop offset="1.0000" stop-color="#272727"/></linearGradient><linearGradient id="afm4" gradientUnits="userSpaceOnUse" x1="400" x2="1144" y1="0" y2="0"><stop offset="0.0000" stop-color="#555555"/><stop offset="0.0336" stop-color="#606060"/><stop offset="0.0941" stop-color="#6b6b6b"/><stop offset="0.1613" stop-color="#727272"/><stop offset="0.2285" stop-color="#757575"/><stop offset="0.2755" stop-color="#797979"/><stop offset="0.2957" stop-color="#7a7a7a"/><stop offset="0.3226" stop-color="#7d7d7d"/><stop offset="0.3360" stop-color="#7e7e7e"/><stop offset="0.3562" stop-color="#808080"/><stop offset="0.3763" stop-color="#828282"/><stop offset="0.3898" stop-color="#828282"/><stop offset="0.4032" stop-color="#828282"/><stop offset="0.4301" stop-color="#838383"/><stop offset="0.4435" stop-color="#838383"/><stop offset="0.4704" stop-color="#6d6d6d"/><stop offset="0.4973" stop-color="#515151"/><stop offset="0.5296" stop-color="#3a3a3a"/><stop offset="0.5578" stop-color="#2c2c2c"/><stop offset="0.6169" stop-color="#212121"/><stop offset="0.6452" stop-color="#1d1d1d"/><stop offset="0.7043" stop-color="#191919"/><stop offset="0.7661" stop-color="#171717"/><stop offset="0.7930" stop-color="#151515"/><stop offset="0.8508" stop-color="#131313"/><stop offset="0.8804" stop-color="#131313"/><stop offset="0.9099" stop-color="#131313"/><stop offset="0.9691" stop-color="#1f1f1f"/><stop offset="1.0000" stop-color="#2e2e2e"/></linearGradient><linearGradient id="afm5" gradientUnits="userSpaceOnUse" x1="400" x2="1144" y1="0" y2="0"><stop offset="0.0000" stop-color="#535353"/><stop offset="0.0336" stop-color="#5f5f5f"/><stop offset="0.0941" stop-color="#6a6a6a"/><stop offset="0.1613" stop-color="#717171"/><stop offset="0.2285" stop-color="#757575"/><stop offset="0.2755" stop-color="#787878"/><stop offset="0.2957" stop-color="#7a7a7a"/><stop offset="0.3226" stop-color="#7d7d7d"/><stop offset="0.3360" stop-color="#7e7e7e"/><stop offset="0.3562" stop-color="#808080"/><stop offset="0.3763" stop-color="#828282"/><stop offset="0.3898" stop-color="#828282"/><stop offset="0.4032" stop-color="#828282"/><stop offset="0.4301" stop-color="#828282"/><stop offset="0.4435" stop-color="#828282"/><stop offset="0.4704" stop-color="#6a6a6a"/><stop offset="0.4973" stop-color="#505050"/><stop offset="0.5296" stop-color="#393939"/><stop offset="0.5578" stop-color="#2c2c2c"/><stop offset="0.6169" stop-color="#202020"/><stop offset="0.6452" stop-color="#1d1d1d"/><stop offset="0.7043" stop-color="#191919"/><stop offset="0.7661" stop-color="#161616"/><stop offset="0.7930" stop-color="#151515"/><stop offset="0.8508" stop-color="#131313"/><stop offset="0.8804" stop-color="#131313"/><stop offset="0.9099" stop-color="#141414"/><stop offset="0.9691" stop-color="#242424"/><stop offset="1.0000" stop-color="#363636"/></linearGradient><linearGradient id="afm6" gradientUnits="userSpaceOnUse" x1="400" x2="1144" y1="0" y2="0"><stop offset="0.0000" stop-color="#515151"/><stop offset="0.0336" stop-color="#5e5e5e"/><stop offset="0.0941" stop-color="#6a6a6a"/><stop offset="0.1613" stop-color="#717171"/><stop offset="0.2285" stop-color="#757575"/><stop offset="0.2755" stop-color="#787878"/><stop offset="0.2957" stop-color="#7a7a7a"/><stop offset="0.3226" stop-color="#7d7d7d"/><stop offset="0.3360" stop-color="#7e7e7e"/><stop offset="0.3562" stop-color="#808080"/><stop offset="0.3763" stop-color="#828282"/><stop offset="0.3898" stop-color="#828282"/><stop offset="0.4032" stop-color="#828282"/><stop offset="0.4301" stop-color="#828282"/><stop offset="0.4435" stop-color="#828282"/><stop offset="0.4704" stop-color="#676767"/><stop offset="0.4973" stop-color="#4e4e4e"/><stop offset="0.5296" stop-color="#373737"/><stop offset="0.5578" stop-color="#2c2c2c"/><stop offset="0.6169" stop-color="#202020"/><stop offset="0.6452" stop-color="#1c1c1c"/><stop offset="0.7043" stop-color="#181818"/><stop offset="0.7661" stop-color="#151515"/><stop offset="0.7930" stop-color="#141414"/><stop offset="0.8508" stop-color="#131313"/><stop offset="0.8804" stop-color="#131313"/><stop offset="0.9099" stop-color="#141414"/><stop offset="0.9691" stop-color="#282828"/><stop offset="1.0000" stop-color="#3d3d3d"/></linearGradient><linearGradient id="afm7" gradientUnits="userSpaceOnUse" x1="400" x2="1144" y1="0" y2="0"><stop offset="0.0000" stop-color="#4f4f4f"/><stop offset="0.0336" stop-color="#5e5e5e"/><stop offset="0.0941" stop-color="#6a6a6a"/><stop offset="0.1613" stop-color="#717171"/><stop offset="0.2285" stop-color="#757575"/><stop offset="0.2755" stop-color="#787878"/><stop offset="0.2957" stop-color="#7a7a7a"/><stop offset="0.3226" stop-color="#7d7d7d"/><stop offset="0.3360" stop-color="#7e7e7e"/><stop offset="0.3562" stop-color="#808080"/><stop offset="0.3763" stop-color="#828282"/><stop offset="0.3898" stop-color="#828282"/><stop offset="0.4032" stop-color="#828282"/><stop offset="0.4301" stop-color="#818181"/><stop offset="0.4435" stop-color="#818181"/><stop offset="0.4704" stop-color="#656565"/><stop offset="0.4973" stop-color="#4d4d4d"/><stop offset="0.5296" stop-color="#353535"/><stop offset="0.5578" stop-color="#2c2c2c"/><stop offset="0.6169" stop-color="#1f1f1f"/><stop offset="0.6452" stop-color="#1c1c1c"/><stop offset="0.7043" stop-color="#171717"/><stop offset="0.7661" stop-color="#151515"/><stop offset="0.7930" stop-color="#131313"/><stop offset="0.8508" stop-color="#121212"/><stop offset="0.8804" stop-color="#131313"/><stop offset="0.9099" stop-color="#151515"/><stop offset="0.9691" stop-color="#2d2d2d"/><stop offset="1.0000" stop-color="#444444"/></linearGradient><linearGradient id="afm8" gradientUnits="userSpaceOnUse" x1="400" x2="1144" y1="0" y2="0"><stop offset="0.0000" stop-color="#4d4d4d"/><stop offset="0.0336" stop-color="#5d5d5d"/><stop offset="0.0941" stop-color="#696969"/><stop offset="0.1613" stop-color="#707070"/><stop offset="0.2285" stop-color="#747474"/><stop offset="0.2755" stop-color="#787878"/><stop offset="0.2957" stop-color="#7a7a7a"/><stop offset="0.3226" stop-color="#7d7d7d"/><stop offset="0.3360" stop-color="#7e7e7e"/><stop offset="0.3562" stop-color="#808080"/><stop offset="0.3763" stop-color="#828282"/><stop offset="0.3898" stop-color="#828282"/><stop offset="0.4032" stop-color="#818181"/><stop offset="0.4301" stop-color="#818181"/><stop offset="0.4435" stop-color="#818181"/><stop offset="0.4704" stop-color="#626262"/><stop offset="0.4973" stop-color="#4c4c4c"/><stop offset="0.5296" stop-color="#343434"/><stop offset="0.5578" stop-color="#2c2c2c"/><stop offset="0.6169" stop-color="#1f1f1f"/><stop offset="0.6452" stop-color="#1c1c1c"/><stop offset="0.7043" stop-color="#171717"/><stop offset="0.7661" stop-color="#141414"/><stop offset="0.7930" stop-color="#131313"/><stop offset="0.8508" stop-color="#121212"/><stop offset="0.8804" stop-color="#141414"/><stop offset="0.9099" stop-color="#151515"/><stop offset="0.9691" stop-color="#313131"/><stop offset="1.0000" stop-color="#4c4c4c"/></linearGradient><linearGradient id="afm9" gradientUnits="userSpaceOnUse" x1="400" x2="1144" y1="0" y2="0"><stop offset="0.0000" stop-color="#4b4b4b"/><stop offset="0.0336" stop-color="#5c5c5c"/><stop offset="0.0941" stop-color="#696969"/><stop offset="0.1613" stop-color="#707070"/><stop offset="0.2285" stop-color="#747474"/><stop offset="0.2755" stop-color="#787878"/><stop offset="0.2957" stop-color="#7a7a7a"/><stop offset="0.3226" stop-color="#7d7d7d"/><stop offset="0.3360" stop-color="#7e7e7e"/><stop offset="0.3562" stop-color="#808080"/><stop offset="0.3763" stop-color="#828282"/><stop offset="0.3898" stop-color="#828282"/><stop offset="0.4032" stop-color="#818181"/><stop offset="0.4301" stop-color="#808080"/><stop offset="0.4435" stop-color="#808080"/><stop offset="0.4704" stop-color="#606060"/><stop offset="0.4973" stop-color="#4b4b4b"/><stop offset="0.5296" stop-color="#323232"/><stop offset="0.5578" stop-color="#2c2c2c"/><stop offset="0.6169" stop-color="#1e1e1e"/><stop offset="0.6452" stop-color="#1b1b1b"/><stop offset="0.7043" stop-color="#161616"/><stop offset="0.7661" stop-color="#131313"/><stop offset="0.7930" stop-color="#121212"/><stop offset="0.8508" stop-color="#121212"/><stop offset="0.8804" stop-color="#141414"/><stop offset="0.9099" stop-color="#161616"/><stop offset="0.9691" stop-color="#363636"/><stop offset="1.0000" stop-color="#535353"/></linearGradient><linearGradient id="afm10" gradientUnits="userSpaceOnUse" x1="400" x2="1144" y1="0" y2="0"><stop offset="0.0000" stop-color="#494949"/><stop offset="0.0336" stop-color="#5b5b5b"/><stop offset="0.0941" stop-color="#696969"/><stop offset="0.1613" stop-color="#707070"/><stop offset="0.2285" stop-color="#747474"/><stop offset="0.2755" stop-color="#787878"/><stop offset="0.2957" stop-color="#7a7a7a"/><stop offset="0.3226" stop-color="#7c7c7c"/><stop offset="0.3360" stop-color="#7e7e7e"/><stop offset="0.3562" stop-color="#808080"/><stop offset="0.3763" stop-color="#828282"/><stop offset="0.3898" stop-color="#818181"/><stop offset="0.4032" stop-color="#808080"/><stop offset="0.4301" stop-color="#7f7f7f"/><stop offset="0.4435" stop-color="#7e7e7e"/><stop offset="0.4704" stop-color="#5d5d5d"/><stop offset="0.4973" stop-color="#494949"/><stop offset="0.5296" stop-color="#323232"/><stop offset="0.5578" stop-color="#2b2b2b"/><stop offset="0.6169" stop-color="#1e1e1e"/><stop offset="0.6452" stop-color="#1b1b1b"/><stop offset="0.7043" stop-color="#151515"/><stop offset="0.7661" stop-color="#131313"/><stop offset="0.7930" stop-color="#121212"/><stop offset="0.8508" stop-color="#131313"/><stop offset="0.8804" stop-color="#171717"/><stop offset="0.9099" stop-color="#1a1a1a"/><stop offset="0.9691" stop-color="#3d3d3d"/><stop offset="1.0000" stop-color="#5a5a5a"/></linearGradient><linearGradient id="afm11" gradientUnits="userSpaceOnUse" x1="400" x2="1144" y1="0" y2="0"><stop offset="0.0000" stop-color="#464646"/><stop offset="0.0336" stop-color="#5a5a5a"/><stop offset="0.0941" stop-color="#686868"/><stop offset="0.1613" stop-color="#6f6f6f"/><stop offset="0.2285" stop-color="#737373"/><stop offset="0.2755" stop-color="#777777"/><stop offset="0.2957" stop-color="#797979"/><stop offset="0.3226" stop-color="#7c7c7c"/><stop offset="0.3360" stop-color="#7d7d7d"/><stop offset="0.3562" stop-color="#7f7f7f"/><stop offset="0.3763" stop-color="#818181"/><stop offset="0.3898" stop-color="#808080"/><stop offset="0.4032" stop-color="#7f7f7f"/><stop offset="0.4301" stop-color="#7d7d7d"/><stop offset="0.4435" stop-color="#7b7b7b"/><stop offset="0.4704" stop-color="#5b5b5b"/><stop offset="0.4973" stop-color="#484848"/><stop offset="0.5296" stop-color="#313131"/><stop offset="0.5578" stop-color="#2b2b2b"/><stop offset="0.6169" stop-color="#1d1d1d"/><stop offset="0.6452" stop-color="#1a1a1a"/><stop offset="0.7043" stop-color="#151515"/><stop offset="0.7661" stop-color="#131313"/><stop offset="0.7930" stop-color="#121212"/><stop offset="0.8508" stop-color="#151515"/><stop offset="0.8804" stop-color="#1a1a1a"/><stop offset="0.9099" stop-color="#1f1f1f"/><stop offset="0.9691" stop-color="#454545"/><stop offset="1.0000" stop-color="#616161"/></linearGradient><linearGradient id="afm12" gradientUnits="userSpaceOnUse" x1="400" x2="1144" y1="0" y2="0"><stop offset="0.0000" stop-color="#444444"/><stop offset="0.0336" stop-color="#585858"/><stop offset="0.0941" stop-color="#686868"/><stop offset="0.1613" stop-color="#6f6f6f"/><stop offset="0.2285" stop-color="#737373"/><stop offset="0.2755" stop-color="#777777"/><stop offset="0.2957" stop-color="#797979"/><stop offset="0.3226" stop-color="#7b7b7b"/><stop offset="0.3360" stop-color="#7d7d7d"/><stop offset="0.3562" stop-color="#7f7f7f"/><stop offset="0.3763" stop-color="#818181"/><stop offset="0.3898" stop-color="#7f7f7f"/><stop offset="0.4032" stop-color="#7e7e7e"/><stop offset="0.4301" stop-color="#7c7c7c"/><stop offset="0.4435" stop-color="#787878"/><stop offset="0.4704" stop-color="#595959"/><stop offset="0.4973" stop-color="#474747"/><stop offset="0.5296" stop-color="#313131"/><stop offset="0.5578" stop-color="#2a2a2a"/><stop offset="0.6169" stop-color="#1d1d1d"/><stop offset="0.6452" stop-color="#1a1a1a"/><stop offset="0.7043" stop-color="#141414"/><stop offset="0.7661" stop-color="#131313"/><stop offset="0.7930" stop-color="#121212"/><stop offset="0.8508" stop-color="#171717"/><stop offset="0.8804" stop-color="#1e1e1e"/><stop offset="0.9099" stop-color="#242424"/><stop offset="0.9691" stop-color="#4d4d4d"/><stop offset="1.0000" stop-color="#686868"/></linearGradient><linearGradient id="afm13" gradientUnits="userSpaceOnUse" x1="400" x2="1144" y1="0" y2="0"><stop offset="0.0000" stop-color="#414141"/><stop offset="0.0336" stop-color="#575757"/><stop offset="0.0941" stop-color="#676767"/><stop offset="0.1613" stop-color="#6e6e6e"/><stop offset="0.2285" stop-color="#727272"/><stop offset="0.2755" stop-color="#777777"/><stop offset="0.2957" stop-color="#787878"/><stop offset="0.3226" stop-color="#7b7b7b"/><stop offset="0.3360" stop-color="#7c7c7c"/><stop offset="0.3562" stop-color="#7e7e7e"/><stop offset="0.3763" stop-color="#808080"/><stop offset="0.3898" stop-color="#7e7e7e"/><stop offset="0.4032" stop-color="#7d7d7d"/><stop offset="0.4301" stop-color="#7a7a7a"/><stop offset="0.4435" stop-color="#757575"/><stop offset="0.4704" stop-color="#575757"/><stop offset="0.4973" stop-color="#454545"/><stop offset="0.5296" stop-color="#303030"/><stop offset="0.5578" stop-color="#2a2a2a"/><stop offset="0.6169" stop-color="#1c1c1c"/><stop offset="0.6452" stop-color="#191919"/><stop offset="0.7043" stop-color="#131313"/><stop offset="0.7661" stop-color="#121212"/><stop offset="0.7930" stop-color="#121212"/><stop offset="0.8508" stop-color="#191919"/><stop offset="0.8804" stop-color="#212121"/><stop offset="0.9099" stop-color="#292929"/><stop offset="0.9691" stop-color="#555555"/><stop offset="1.0000" stop-color="#6f6f6f"/></linearGradient><linearGradient id="afm14" gradientUnits="userSpaceOnUse" x1="400" x2="1144" y1="0" y2="0"><stop offset="0.0000" stop-color="#3e3e3e"/><stop offset="0.0336" stop-color="#565656"/><stop offset="0.0941" stop-color="#666666"/><stop offset="0.1613" stop-color="#6e6e6e"/><stop offset="0.2285" stop-color="#727272"/><stop offset="0.2755" stop-color="#767676"/><stop offset="0.2957" stop-color="#787878"/><stop offset="0.3226" stop-color="#7a7a7a"/><stop offset="0.3360" stop-color="#7c7c7c"/><stop offset="0.3562" stop-color="#7e7e7e"/><stop offset="0.3763" stop-color="#7f7f7f"/><stop offset="0.3898" stop-color="#7e7e7e"/><stop offset="0.4032" stop-color="#7c7c7c"/><stop offset="0.4301" stop-color="#787878"/><stop offset="0.4435" stop-color="#727272"/><stop offset="0.4704" stop-color="#555555"/><stop offset="0.4973" stop-color="#444444"/><stop offset="0.5296" stop-color="#2f2f2f"/><stop offset="0.5578" stop-color="#292929"/><stop offset="0.6169" stop-color="#1b1b1b"/><stop offset="0.6452" stop-color="#191919"/><stop offset="0.7043" stop-color="#121212"/><stop offset="0.7661" stop-color="#121212"/><stop offset="0.7930" stop-color="#121212"/><stop offset="0.8508" stop-color="#1b1b1b"/><stop offset="0.8804" stop-color="#242424"/><stop offset="0.9099" stop-color="#2e2e2e"/><stop offset="0.9691" stop-color="#5d5d5d"/><stop offset="1.0000" stop-color="#767676"/></linearGradient><linearGradient id="afm15" gradientUnits="userSpaceOnUse" x1="400" x2="1144" y1="0" y2="0"><stop offset="0.0000" stop-color="#3c3c3c"/><stop offset="0.0336" stop-color="#555555"/><stop offset="0.0941" stop-color="#666666"/><stop offset="0.1613" stop-color="#6e6e6e"/><stop offset="0.2285" stop-color="#727272"/><stop offset="0.2755" stop-color="#767676"/><stop offset="0.2957" stop-color="#787878"/><stop offset="0.3226" stop-color="#7a7a7a"/><stop offset="0.3360" stop-color="#7b7b7b"/><stop offset="0.3562" stop-color="#7d7d7d"/><stop offset="0.3763" stop-color="#7f7f7f"/><stop offset="0.3898" stop-color="#7d7d7d"/><stop offset="0.4032" stop-color="#7b7b7b"/><stop offset="0.4301" stop-color="#767676"/><stop offset="0.4435" stop-color="#6f6f6f"/><stop offset="0.4704" stop-color="#535353"/><stop offset="0.4973" stop-color="#424242"/><stop offset="0.5296" stop-color="#2f2f2f"/><stop offset="0.5578" stop-color="#282828"/><stop offset="0.6169" stop-color="#1b1b1b"/><stop offset="0.6452" stop-color="#181818"/><stop offset="0.7043" stop-color="#121212"/><stop offset="0.7661" stop-color="#121212"/><stop offset="0.7930" stop-color="#121212"/><stop offset="0.8508" stop-color="#1c1c1c"/><stop offset="0.8804" stop-color="#282828"/><stop offset="0.9099" stop-color="#333333"/><stop offset="0.9691" stop-color="#656565"/><stop offset="1.0000" stop-color="#7d7d7d"/></linearGradient><linearGradient id="afm16" gradientUnits="userSpaceOnUse" x1="400" x2="1144" y1="0" y2="0"><stop offset="0.0000" stop-color="#393939"/><stop offset="0.0336" stop-color="#535353"/><stop offset="0.0941" stop-color="#656565"/><stop offset="0.1613" stop-color="#6d6d6d"/><stop offset="0.2285" stop-color="#717171"/><stop offset="0.2755" stop-color="#757575"/><stop offset="0.2957" stop-color="#777777"/><stop offset="0.3226" stop-color="#7a7a7a"/><stop offset="0.3360" stop-color="#7b7b7b"/><stop offset="0.3562" stop-color="#7d7d7d"/><stop offset="0.3763" stop-color="#7e7e7e"/><stop offset="0.3898" stop-color="#7c7c7c"/><stop offset="0.4032" stop-color="#797979"/><stop offset="0.4301" stop-color="#757575"/><stop offset="0.4435" stop-color="#6c6c6c"/><stop offset="0.4704" stop-color="#515151"/><stop offset="0.4973" stop-color="#414141"/><stop offset="0.5296" stop-color="#2e2e2e"/><stop offset="0.5578" stop-color="#282828"/><stop offset="0.6169" stop-color="#1a1a1a"/><stop offset="0.6452" stop-color="#171717"/><stop offset="0.7043" stop-color="#111111"/><stop offset="0.7661" stop-color="#121212"/><stop offset="0.7930" stop-color="#121212"/><stop offset="0.8508" stop-color="#1e1e1e"/><stop offset="0.8804" stop-color="#2b2b2b"/><stop offset="0.9099" stop-color="#393939"/><stop offset="0.9691" stop-color="#6d6d6d"/><stop offset="1.0000" stop-color="#848484"/></linearGradient><linearGradient id="afm17" gradientUnits="userSpaceOnUse" x1="400" x2="1144" y1="0" y2="0"><stop offset="0.0000" stop-color="#363636"/><stop offset="0.0336" stop-color="#525252"/><stop offset="0.0941" stop-color="#656565"/><stop offset="0.1613" stop-color="#6d6d6d"/><stop offset="0.2285" stop-color="#717171"/><stop offset="0.2755" stop-color="#757575"/><stop offset="0.2957" stop-color="#777777"/><stop offset="0.3226" stop-color="#797979"/><stop offset="0.3360" stop-color="#7a7a7a"/><stop offset="0.3562" stop-color="#7c7c7c"/><stop offset="0.3763" stop-color="#7e7e7e"/><stop offset="0.3898" stop-color="#7b7b7b"/><stop offset="0.4032" stop-color="#787878"/><stop offset="0.4301" stop-color="#737373"/><stop offset="0.4435" stop-color="#696969"/><stop offset="0.4704" stop-color="#4e4e4e"/><stop offset="0.4973" stop-color="#404040"/><stop offset="0.5296" stop-color="#2e2e2e"/><stop offset="0.5578" stop-color="#272727"/><stop offset="0.6169" stop-color="#1a1a1a"/><stop offset="0.6452" stop-color="#171717"/><stop offset="0.7043" stop-color="#101010"/><stop offset="0.7661" stop-color="#111111"/><stop offset="0.7930" stop-color="#121212"/><stop offset="0.8508" stop-color="#202020"/><stop offset="0.8804" stop-color="#2f2f2f"/><stop offset="0.9099" stop-color="#3e3e3e"/><stop offset="0.9691" stop-color="#757575"/><stop offset="1.0000" stop-color="#8b8b8b"/></linearGradient><linearGradient id="afm18" gradientUnits="userSpaceOnUse" x1="400" x2="1144" y1="0" y2="0"><stop offset="0.0000" stop-color="#343434"/><stop offset="0.0336" stop-color="#515151"/><stop offset="0.0941" stop-color="#646464"/><stop offset="0.1613" stop-color="#6c6c6c"/><stop offset="0.2285" stop-color="#707070"/><stop offset="0.2755" stop-color="#747474"/><stop offset="0.2957" stop-color="#767676"/><stop offset="0.3226" stop-color="#797979"/><stop offset="0.3360" stop-color="#7a7a7a"/><stop offset="0.3562" stop-color="#7c7c7c"/><stop offset="0.3763" stop-color="#7d7d7d"/><stop offset="0.3898" stop-color="#7a7a7a"/><stop offset="0.4032" stop-color="#777777"/><stop offset="0.4301" stop-color="#717171"/><stop offset="0.4435" stop-color="#666666"/><stop offset="0.4704" stop-color="#4c4c4c"/><stop offset="0.4973" stop-color="#3e3e3e"/><stop offset="0.5296" stop-color="#2d2d2d"/><stop offset="0.5578" stop-color="#272727"/><stop offset="0.6169" stop-color="#191919"/><stop offset="0.6452" stop-color="#161616"/><stop offset="0.7043" stop-color="#0f0f0f"/><stop offset="0.7661" stop-color="#111111"/><stop offset="0.7930" stop-color="#121212"/><stop offset="0.8508" stop-color="#222222"/><stop offset="0.8804" stop-color="#323232"/><stop offset="0.9099" stop-color="#434343"/><stop offset="0.9691" stop-color="#7d7d7d"/><stop offset="1.0000" stop-color="#929292"/></linearGradient><linearGradient id="afm19" gradientUnits="userSpaceOnUse" x1="400" x2="1144" y1="0" y2="0"><stop offset="0.0000" stop-color="#313131"/><stop offset="0.0336" stop-color="#4f4f4f"/><stop offset="0.0941" stop-color="#636363"/><stop offset="0.1613" stop-color="#6c6c6c"/><stop offset="0.2285" stop-color="#707070"/><stop offset="0.2755" stop-color="#747474"/><stop offset="0.2957" stop-color="#767676"/><stop offset="0.3226" stop-color="#787878"/><stop offset="0.3360" stop-color="#797979"/><stop offset="0.3562" stop-color="#7b7b7b"/><stop offset="0.3763" stop-color="#7c7c7c"/><stop offset="0.3898" stop-color="#787878"/><stop offset="0.4032" stop-color="#757575"/><stop offset="0.4301" stop-color="#6e6e6e"/><stop offset="0.4435" stop-color="#626262"/><stop offset="0.4704" stop-color="#4a4a4a"/><stop offset="0.4973" stop-color="#3c3c3c"/><stop offset="0.5296" stop-color="#2c2c2c"/><stop offset="0.5578" stop-color="#262626"/><stop offset="0.6169" stop-color="#191919"/><stop offset="0.6452" stop-color="#161616"/><stop offset="0.7043" stop-color="#0f0f0f"/><stop offset="0.7661" stop-color="#111111"/><stop offset="0.7930" stop-color="#121212"/><stop offset="0.8508" stop-color="#242424"/><stop offset="0.8804" stop-color="#363636"/><stop offset="0.9099" stop-color="#484848"/><stop offset="0.9691" stop-color="#848484"/><stop offset="1.0000" stop-color="#979797"/></linearGradient><linearGradient id="afm20" gradientUnits="userSpaceOnUse" x1="400" x2="1144" y1="0" y2="0"><stop offset="0.0000" stop-color="#2f2f2f"/><stop offset="0.0336" stop-color="#4d4d4d"/><stop offset="0.0941" stop-color="#626262"/><stop offset="0.1613" stop-color="#6b6b6b"/><stop offset="0.2285" stop-color="#6f6f6f"/><stop offset="0.2755" stop-color="#737373"/><stop offset="0.2957" stop-color="#757575"/><stop offset="0.3226" stop-color="#777777"/><stop offset="0.3360" stop-color="#787878"/><stop offset="0.3562" stop-color="#797979"/><stop offset="0.3763" stop-color="#797979"/><stop offset="0.3898" stop-color="#757575"/><stop offset="0.4032" stop-color="#717171"/><stop offset="0.4301" stop-color="#696969"/><stop offset="0.4435" stop-color="#5e5e5e"/><stop offset="0.4704" stop-color="#474747"/><stop offset="0.4973" stop-color="#3a3a3a"/><stop offset="0.5296" stop-color="#2b2b2b"/><stop offset="0.5578" stop-color="#252525"/><stop offset="0.6169" stop-color="#191919"/><stop offset="0.6452" stop-color="#161616"/><stop offset="0.7043" stop-color="#0f0f0f"/><stop offset="0.7661" stop-color="#121212"/><stop offset="0.7930" stop-color="#131313"/><stop offset="0.8508" stop-color="#262626"/><stop offset="0.8804" stop-color="#3a3a3a"/><stop offset="0.9099" stop-color="#4d4d4d"/><stop offset="0.9691" stop-color="#898989"/><stop offset="1.0000" stop-color="#9b9b9b"/></linearGradient><linearGradient id="afm21" gradientUnits="userSpaceOnUse" x1="400" x2="1144" y1="0" y2="0"><stop offset="0.0000" stop-color="#2d2d2d"/><stop offset="0.0336" stop-color="#4a4a4a"/><stop offset="0.0941" stop-color="#606060"/><stop offset="0.1613" stop-color="#6a6a6a"/><stop offset="0.2285" stop-color="#6f6f6f"/><stop offset="0.2755" stop-color="#737373"/><stop offset="0.2957" stop-color="#747474"/><stop offset="0.3226" stop-color="#767676"/><stop offset="0.3360" stop-color="#777777"/><stop offset="0.3562" stop-color="#787878"/><stop offset="0.3763" stop-color="#767676"/><stop offset="0.3898" stop-color="#717171"/><stop offset="0.4032" stop-color="#6c6c6c"/><stop offset="0.4301" stop-color="#646464"/><stop offset="0.4435" stop-color="#595959"/><stop offset="0.4704" stop-color="#434343"/><stop offset="0.4973" stop-color="#373737"/><stop offset="0.5296" stop-color="#292929"/><stop offset="0.5578" stop-color="#242424"/><stop offset="0.6169" stop-color="#181818"/><stop offset="0.6452" stop-color="#151515"/><stop offset="0.7043" stop-color="#101010"/><stop offset="0.7661" stop-color="#131313"/><stop offset="0.7930" stop-color="#141414"/><stop offset="0.8508" stop-color="#282828"/><stop offset="0.8804" stop-color="#3d3d3d"/><stop offset="0.9099" stop-color="#535353"/><stop offset="0.9691" stop-color="#8d8d8d"/><stop offset="1.0000" stop-color="#9f9f9f"/></linearGradient><linearGradient id="afm22" gradientUnits="userSpaceOnUse" x1="400" x2="1144" y1="0" y2="0"><stop offset="0.0000" stop-color="#2b2b2b"/><stop offset="0.0336" stop-color="#484848"/><stop offset="0.0941" stop-color="#5f5f5f"/><stop offset="0.1613" stop-color="#696969"/><stop offset="0.2285" stop-color="#6f6f6f"/><stop offset="0.2755" stop-color="#727272"/><stop offset="0.2957" stop-color="#747474"/><stop offset="0.3226" stop-color="#757575"/><stop offset="0.3360" stop-color="#767676"/><stop offset="0.3562" stop-color="#767676"/><stop offset="0.3763" stop-color="#737373"/><stop offset="0.3898" stop-color="#6d6d6d"/><stop offset="0.4032" stop-color="#686868"/><stop offset="0.4301" stop-color="#5f5f5f"/><stop offset="0.4435" stop-color="#555555"/><stop offset="0.4704" stop-color="#404040"/><stop offset="0.4973" stop-color="#353535"/><stop offset="0.5296" stop-color="#282828"/><stop offset="0.5578" stop-color="#232323"/><stop offset="0.6169" stop-color="#181818"/><stop offset="0.6452" stop-color="#151515"/><stop offset="0.7043" stop-color="#101010"/><stop offset="0.7661" stop-color="#131313"/><stop offset="0.7930" stop-color="#151515"/><stop offset="0.8508" stop-color="#2a2a2a"/><stop offset="0.8804" stop-color="#414141"/><stop offset="0.9099" stop-color="#585858"/><stop offset="0.9691" stop-color="#929292"/><stop offset="1.0000" stop-color="#a3a3a3"/></linearGradient><linearGradient id="afm23" gradientUnits="userSpaceOnUse" x1="400" x2="1144" y1="0" y2="0"><stop offset="0.0000" stop-color="#2a2a2a"/><stop offset="0.0336" stop-color="#464646"/><stop offset="0.0941" stop-color="#5d5d5d"/><stop offset="0.1613" stop-color="#686868"/><stop offset="0.2285" stop-color="#6e6e6e"/><stop offset="0.2755" stop-color="#727272"/><stop offset="0.2957" stop-color="#737373"/><stop offset="0.3226" stop-color="#747474"/><stop offset="0.3360" stop-color="#747474"/><stop offset="0.3562" stop-color="#757575"/><stop offset="0.3763" stop-color="#707070"/><stop offset="0.3898" stop-color="#6a6a6a"/><stop offset="0.4032" stop-color="#636363"/><stop offset="0.4301" stop-color="#5a5a5a"/><stop offset="0.4435" stop-color="#505050"/><stop offset="0.4704" stop-color="#3d3d3d"/><stop offset="0.4973" stop-color="#323232"/><stop offset="0.5296" stop-color="#262626"/><stop offset="0.5578" stop-color="#212121"/><stop offset="0.6169" stop-color="#181818"/><stop offset="0.6452" stop-color="#151515"/><stop offset="0.7043" stop-color="#101010"/><stop offset="0.7661" stop-color="#141414"/><stop offset="0.7930" stop-color="#151515"/><stop offset="0.8508" stop-color="#2c2c2c"/><stop offset="0.8804" stop-color="#454545"/><stop offset="0.9099" stop-color="#5d5d5d"/><stop offset="0.9691" stop-color="#979797"/><stop offset="1.0000" stop-color="#a6a6a6"/></linearGradient><linearGradient id="afm24" gradientUnits="userSpaceOnUse" x1="400" x2="1144" y1="0" y2="0"><stop offset="0.0000" stop-color="#282828"/><stop offset="0.0336" stop-color="#434343"/><stop offset="0.0941" stop-color="#5b5b5b"/><stop offset="0.1613" stop-color="#676767"/><stop offset="0.2285" stop-color="#6e6e6e"/><stop offset="0.2755" stop-color="#717171"/><stop offset="0.2957" stop-color="#737373"/><stop offset="0.3226" stop-color="#737373"/><stop offset="0.3360" stop-color="#737373"/><stop offset="0.3562" stop-color="#747474"/><stop offset="0.3763" stop-color="#6c6c6c"/><stop offset="0.3898" stop-color="#666666"/><stop offset="0.4032" stop-color="#5f5f5f"/><stop offset="0.4301" stop-color="#555555"/><stop offset="0.4435" stop-color="#4c4c4c"/><stop offset="0.4704" stop-color="#3a3a3a"/><stop offset="0.4973" stop-color="#303030"/><stop offset="0.5296" stop-color="#242424"/><stop offset="0.5578" stop-color="#202020"/><stop offset="0.6169" stop-color="#171717"/><stop offset="0.6452" stop-color="#151515"/><stop offset="0.7043" stop-color="#111111"/><stop offset="0.7661" stop-color="#141414"/><stop offset="0.7930" stop-color="#161616"/><stop offset="0.8508" stop-color="#2f2f2f"/><stop offset="0.8804" stop-color="#494949"/><stop offset="0.9099" stop-color="#636363"/><stop offset="0.9691" stop-color="#9c9c9c"/><stop offset="1.0000" stop-color="#aaaaaa"/></linearGradient><linearGradient id="afm25" gradientUnits="userSpaceOnUse" x1="400" x2="1144" y1="0" y2="0"><stop offset="0.0000" stop-color="#262626"/><stop offset="0.0336" stop-color="#414141"/><stop offset="0.0941" stop-color="#5a5a5a"/><stop offset="0.1613" stop-color="#676767"/><stop offset="0.2285" stop-color="#6d6d6d"/><stop offset="0.2755" stop-color="#717171"/><stop offset="0.2957" stop-color="#727272"/><stop offset="0.3226" stop-color="#727272"/><stop offset="0.3360" stop-color="#727272"/><stop offset="0.3562" stop-color="#727272"/><stop offset="0.3763" stop-color="#696969"/><stop offset="0.3898" stop-color="#626262"/><stop offset="0.4032" stop-color="#5b5b5b"/><stop offset="0.4301" stop-color="#505050"/><stop offset="0.4435" stop-color="#474747"/><stop offset="0.4704" stop-color="#363636"/><stop offset="0.4973" stop-color="#2d2d2d"/><stop offset="0.5296" stop-color="#232323"/><stop offset="0.5578" stop-color="#1f1f1f"/><stop offset="0.6169" stop-color="#171717"/><stop offset="0.6452" stop-color="#151515"/><stop offset="0.7043" stop-color="#111111"/><stop offset="0.7661" stop-color="#151515"/><stop offset="0.7930" stop-color="#171717"/><stop offset="0.8508" stop-color="#313131"/><stop offset="0.8804" stop-color="#4c4c4c"/><stop offset="0.9099" stop-color="#686868"/><stop offset="0.9691" stop-color="#a1a1a1"/><stop offset="1.0000" stop-color="#aeaeae"/></linearGradient><linearGradient id="afm26" gradientUnits="userSpaceOnUse" x1="400" x2="1144" y1="0" y2="0"><stop offset="0.0000" stop-color="#242424"/><stop offset="0.0336" stop-color="#3f3f3f"/><stop offset="0.0941" stop-color="#585858"/><stop offset="0.1613" stop-color="#666666"/><stop offset="0.2285" stop-color="#6d6d6d"/><stop offset="0.2755" stop-color="#707070"/><stop offset="0.2957" stop-color="#717171"/><stop offset="0.3226" stop-color="#717171"/><stop offset="0.3360" stop-color="#717171"/><stop offset="0.3562" stop-color="#717171"/><stop offset="0.3763" stop-color="#666666"/><stop offset="0.3898" stop-color="#5e5e5e"/><stop offset="0.4032" stop-color="#565656"/><stop offset="0.4301" stop-color="#4b4b4b"/><stop offset="0.4435" stop-color="#434343"/><stop offset="0.4704" stop-color="#333333"/><stop offset="0.4973" stop-color="#2b2b2b"/><stop offset="0.5296" stop-color="#212121"/><stop offset="0.5578" stop-color="#1e1e1e"/><stop offset="0.6169" stop-color="#171717"/><stop offset="0.6452" stop-color="#151515"/><stop offset="0.7043" stop-color="#111111"/><stop offset="0.7661" stop-color="#161616"/><stop offset="0.7930" stop-color="#181818"/><stop offset="0.8508" stop-color="#333333"/><stop offset="0.8804" stop-color="#505050"/><stop offset="0.9099" stop-color="#6e6e6e"/><stop offset="0.9691" stop-color="#a6a6a6"/><stop offset="1.0000" stop-color="#b2b2b2"/></linearGradient><linearGradient id="afm27" gradientUnits="userSpaceOnUse" x1="400" x2="1144" y1="0" y2="0"><stop offset="0.0000" stop-color="#222222"/><stop offset="0.0336" stop-color="#3c3c3c"/><stop offset="0.0941" stop-color="#565656"/><stop offset="0.1613" stop-color="#656565"/><stop offset="0.2285" stop-color="#6c6c6c"/><stop offset="0.2755" stop-color="#6f6f6f"/><stop offset="0.2957" stop-color="#717171"/><stop offset="0.3226" stop-color="#707070"/><stop offset="0.3360" stop-color="#707070"/><stop offset="0.3562" stop-color="#6f6f6f"/><stop offset="0.3763" stop-color="#636363"/><stop offset="0.3898" stop-color="#5b5b5b"/><stop offset="0.4032" stop-color="#525252"/><stop offset="0.4301" stop-color="#464646"/><stop offset="0.4435" stop-color="#3e3e3e"/><stop offset="0.4704" stop-color="#303030"/><stop offset="0.4973" stop-color="#282828"/><stop offset="0.5296" stop-color="#202020"/><stop offset="0.5578" stop-color="#1d1d1d"/><stop offset="0.6169" stop-color="#161616"/><stop offset="0.6452" stop-color="#151515"/><stop offset="0.7043" stop-color="#121212"/><stop offset="0.7661" stop-color="#161616"/><stop offset="0.7930" stop-color="#181818"/><stop offset="0.8508" stop-color="#353535"/><stop offset="0.8804" stop-color="#545454"/><stop offset="0.9099" stop-color="#737373"/><stop offset="0.9691" stop-color="#aaaaaa"/><stop offset="1.0000" stop-color="#b6b6b6"/></linearGradient><linearGradient id="afm28" gradientUnits="userSpaceOnUse" x1="400" x2="1144" y1="0" y2="0"><stop offset="0.0000" stop-color="#202020"/><stop offset="0.0336" stop-color="#3a3a3a"/><stop offset="0.0941" stop-color="#555555"/><stop offset="0.1613" stop-color="#646464"/><stop offset="0.2285" stop-color="#6c6c6c"/><stop offset="0.2755" stop-color="#6f6f6f"/><stop offset="0.2957" stop-color="#707070"/><stop offset="0.3226" stop-color="#6f6f6f"/><stop offset="0.3360" stop-color="#6e6e6e"/><stop offset="0.3562" stop-color="#6e6e6e"/><stop offset="0.3763" stop-color="#606060"/><stop offset="0.3898" stop-color="#575757"/><stop offset="0.4032" stop-color="#4e4e4e"/><stop offset="0.4301" stop-color="#414141"/><stop offset="0.4435" stop-color="#3a3a3a"/><stop offset="0.4704" stop-color="#2d2d2d"/><stop offset="0.4973" stop-color="#262626"/><stop offset="0.5296" stop-color="#1e1e1e"/><stop offset="0.5578" stop-color="#1b1b1b"/><stop offset="0.6169" stop-color="#161616"/><stop offset="0.6452" stop-color="#151515"/><stop offset="0.7043" stop-color="#121212"/><stop offset="0.7661" stop-color="#171717"/><stop offset="0.7930" stop-color="#191919"/><stop offset="0.8508" stop-color="#383838"/><stop offset="0.8804" stop-color="#585858"/><stop offset="0.9099" stop-color="#797979"/><stop offset="0.9691" stop-color="#afafaf"/><stop offset="1.0000" stop-color="#b9b9b9"/></linearGradient><linearGradient id="afm29" gradientUnits="userSpaceOnUse" x1="400" x2="1144" y1="0" y2="0"><stop offset="0.0000" stop-color="#1f1f1f"/><stop offset="0.0336" stop-color="#383838"/><stop offset="0.0941" stop-color="#525252"/><stop offset="0.1613" stop-color="#626262"/><stop offset="0.2285" stop-color="#6b6b6b"/><stop offset="0.2755" stop-color="#6d6d6d"/><stop offset="0.2957" stop-color="#6e6e6e"/><stop offset="0.3226" stop-color="#6c6c6c"/><stop offset="0.3360" stop-color="#6b6b6b"/><stop offset="0.3562" stop-color="#696969"/><stop offset="0.3763" stop-color="#5b5b5b"/><stop offset="0.3898" stop-color="#525252"/><stop offset="0.4032" stop-color="#4a4a4a"/><stop offset="0.4301" stop-color="#3d3d3d"/><stop offset="0.4435" stop-color="#373737"/><stop offset="0.4704" stop-color="#2b2b2b"/><stop offset="0.4973" stop-color="#252525"/><stop offset="0.5296" stop-color="#1d1d1d"/><stop offset="0.5578" stop-color="#1b1b1b"/><stop offset="0.6169" stop-color="#161616"/><stop offset="0.6452" stop-color="#151515"/><stop offset="0.7043" stop-color="#141414"/><stop offset="0.7661" stop-color="#1c1c1c"/><stop offset="0.7930" stop-color="#1f1f1f"/><stop offset="0.8508" stop-color="#404040"/><stop offset="0.8804" stop-color="#616161"/><stop offset="0.9099" stop-color="#828282"/><stop offset="0.9691" stop-color="#b4b4b4"/><stop offset="1.0000" stop-color="#bbbbbb"/></linearGradient><linearGradient id="afm30" gradientUnits="userSpaceOnUse" x1="400" x2="1144" y1="0" y2="0"><stop offset="0.0000" stop-color="#1e1e1e"/><stop offset="0.0336" stop-color="#353535"/><stop offset="0.0941" stop-color="#505050"/><stop offset="0.1613" stop-color="#606060"/><stop offset="0.2285" stop-color="#696969"/><stop offset="0.2755" stop-color="#6b6b6b"/><stop offset="0.2957" stop-color="#6c6c6c"/><stop offset="0.3226" stop-color="#696969"/><stop offset="0.3360" stop-color="#676767"/><stop offset="0.3562" stop-color="#636363"/><stop offset="0.3763" stop-color="#565656"/><stop offset="0.3898" stop-color="#4d4d4d"/><stop offset="0.4032" stop-color="#464646"/><stop offset="0.4301" stop-color="#3a3a3a"/><stop offset="0.4435" stop-color="#353535"/><stop offset="0.4704" stop-color="#292929"/><stop offset="0.4973" stop-color="#232323"/><stop offset="0.5296" stop-color="#1d1d1d"/><stop offset="0.5578" stop-color="#1b1b1b"/><stop offset="0.6169" stop-color="#161616"/><stop offset="0.6452" stop-color="#161616"/><stop offset="0.7043" stop-color="#161616"/><stop offset="0.7661" stop-color="#212121"/><stop offset="0.7930" stop-color="#252525"/><stop offset="0.8508" stop-color="#484848"/><stop offset="0.8804" stop-color="#696969"/><stop offset="0.9099" stop-color="#8a8a8a"/><stop offset="0.9691" stop-color="#bababa"/><stop offset="1.0000" stop-color="#bdbdbd"/></linearGradient><linearGradient id="afm31" gradientUnits="userSpaceOnUse" x1="400" x2="1144" y1="0" y2="0"><stop offset="0.0000" stop-color="#1d1d1d"/><stop offset="0.0336" stop-color="#333333"/><stop offset="0.0941" stop-color="#4d4d4d"/><stop offset="0.1613" stop-color="#5e5e5e"/><stop offset="0.2285" stop-color="#686868"/><stop offset="0.2755" stop-color="#6a6a6a"/><stop offset="0.2957" stop-color="#6b6b6b"/><stop offset="0.3226" stop-color="#666666"/><stop offset="0.3360" stop-color="#636363"/><stop offset="0.3562" stop-color="#5e5e5e"/><stop offset="0.3763" stop-color="#515151"/><stop offset="0.3898" stop-color="#494949"/><stop offset="0.4032" stop-color="#424242"/><stop offset="0.4301" stop-color="#373737"/><stop offset="0.4435" stop-color="#323232"/><stop offset="0.4704" stop-color="#272727"/><stop offset="0.4973" stop-color="#222222"/><stop offset="0.5296" stop-color="#1c1c1c"/><stop offset="0.5578" stop-color="#1a1a1a"/><stop offset="0.6169" stop-color="#161616"/><stop offset="0.6452" stop-color="#171717"/><stop offset="0.7043" stop-color="#191919"/><stop offset="0.7661" stop-color="#252525"/><stop offset="0.7930" stop-color="#2b2b2b"/><stop offset="0.8508" stop-color="#505050"/><stop offset="0.8804" stop-color="#727272"/><stop offset="0.9099" stop-color="#939393"/><stop offset="0.9691" stop-color="#bfbfbf"/><stop offset="1.0000" stop-color="#bfbfbf"/></linearGradient><linearGradient id="afm32" gradientUnits="userSpaceOnUse" x1="400" x2="1144" y1="0" y2="0"><stop offset="0.0000" stop-color="#1c1c1c"/><stop offset="0.0336" stop-color="#313131"/><stop offset="0.0941" stop-color="#4b4b4b"/><stop offset="0.1613" stop-color="#5c5c5c"/><stop offset="0.2285" stop-color="#676767"/><stop offset="0.2755" stop-color="#686868"/><stop offset="0.2957" stop-color="#696969"/><stop offset="0.3226" stop-color="#636363"/><stop offset="0.3360" stop-color="#606060"/><stop offset="0.3562" stop-color="#595959"/><stop offset="0.3763" stop-color="#4c4c4c"/><stop offset="0.3898" stop-color="#444444"/><stop offset="0.4032" stop-color="#3e3e3e"/><stop offset="0.4301" stop-color="#343434"/><stop offset="0.4435" stop-color="#2f2f2f"/><stop offset="0.4704" stop-color="#252525"/><stop offset="0.4973" stop-color="#212121"/><stop offset="0.5296" stop-color="#1b1b1b"/><stop offset="0.5578" stop-color="#1a1a1a"/><stop offset="0.6169" stop-color="#161616"/><stop offset="0.6452" stop-color="#181818"/><stop offset="0.7043" stop-color="#1b1b1b"/><stop offset="0.7661" stop-color="#2a2a2a"/><stop offset="0.7930" stop-color="#303030"/><stop offset="0.8508" stop-color="#595959"/><stop offset="0.8804" stop-color="#7a7a7a"/><stop offset="0.9099" stop-color="#9c9c9c"/><stop offset="0.9691" stop-color="#c4c4c4"/><stop offset="1.0000" stop-color="#c1c1c1"/></linearGradient><linearGradient id="afm33" gradientUnits="userSpaceOnUse" x1="400" x2="1144" y1="0" y2="0"><stop offset="0.0000" stop-color="#1b1b1b"/><stop offset="0.0336" stop-color="#2e2e2e"/><stop offset="0.0941" stop-color="#484848"/><stop offset="0.1613" stop-color="#5a5a5a"/><stop offset="0.2285" stop-color="#666666"/><stop offset="0.2755" stop-color="#676767"/><stop offset="0.2957" stop-color="#676767"/><stop offset="0.3226" stop-color="#606060"/><stop offset="0.3360" stop-color="#5c5c5c"/><stop offset="0.3562" stop-color="#545454"/><stop offset="0.3763" stop-color="#484848"/><stop offset="0.3898" stop-color="#3f3f3f"/><stop offset="0.4032" stop-color="#3a3a3a"/><stop offset="0.4301" stop-color="#313131"/><stop offset="0.4435" stop-color="#2c2c2c"/><stop offset="0.4704" stop-color="#232323"/><stop offset="0.4973" stop-color="#1f1f1f"/><stop offset="0.5296" stop-color="#1b1b1b"/><stop offset="0.5578" stop-color="#191919"/><stop offset="0.6169" stop-color="#161616"/><stop offset="0.6452" stop-color="#181818"/><stop offset="0.7043" stop-color="#1d1d1d"/><stop offset="0.7661" stop-color="#2e2e2e"/><stop offset="0.7930" stop-color="#363636"/><stop offset="0.8508" stop-color="#616161"/><stop offset="0.8804" stop-color="#838383"/><stop offset="0.9099" stop-color="#a5a5a5"/><stop offset="0.9691" stop-color="#c9c9c9"/><stop offset="1.0000" stop-color="#c3c3c3"/></linearGradient><linearGradient id="afm34" gradientUnits="userSpaceOnUse" x1="400" x2="1144" y1="0" y2="0"><stop offset="0.0000" stop-color="#1b1b1b"/><stop offset="0.0336" stop-color="#2c2c2c"/><stop offset="0.0941" stop-color="#464646"/><stop offset="0.1613" stop-color="#585858"/><stop offset="0.2285" stop-color="#646464"/><stop offset="0.2755" stop-color="#656565"/><stop offset="0.2957" stop-color="#656565"/><stop offset="0.3226" stop-color="#5d5d5d"/><stop offset="0.3360" stop-color="#595959"/><stop offset="0.3562" stop-color="#4f4f4f"/><stop offset="0.3763" stop-color="#434343"/><stop offset="0.3898" stop-color="#3a3a3a"/><stop offset="0.4032" stop-color="#363636"/><stop offset="0.4301" stop-color="#2e2e2e"/><stop offset="0.4435" stop-color="#2a2a2a"/><stop offset="0.4704" stop-color="#212121"/><stop offset="0.4973" stop-color="#1e1e1e"/><stop offset="0.5296" stop-color="#1a1a1a"/><stop offset="0.5578" stop-color="#191919"/><stop offset="0.6169" stop-color="#161616"/><stop offset="0.6452" stop-color="#191919"/><stop offset="0.7043" stop-color="#1f1f1f"/><stop offset="0.7661" stop-color="#333333"/><stop offset="0.7930" stop-color="#3c3c3c"/><stop offset="0.8508" stop-color="#696969"/><stop offset="0.8804" stop-color="#8c8c8c"/><stop offset="0.9099" stop-color="#aeaeae"/><stop offset="0.9691" stop-color="#cecece"/><stop offset="1.0000" stop-color="#c5c5c5"/></linearGradient><linearGradient id="afm35" gradientUnits="userSpaceOnUse" x1="400" x2="1144" y1="0" y2="0"><stop offset="0.0000" stop-color="#1a1a1a"/><stop offset="0.0336" stop-color="#2a2a2a"/><stop offset="0.0941" stop-color="#434343"/><stop offset="0.1613" stop-color="#565656"/><stop offset="0.2285" stop-color="#636363"/><stop offset="0.2755" stop-color="#636363"/><stop offset="0.2957" stop-color="#636363"/><stop offset="0.3226" stop-color="#5a5a5a"/><stop offset="0.3360" stop-color="#555555"/><stop offset="0.3562" stop-color="#4a4a4a"/><stop offset="0.3763" stop-color="#3e3e3e"/><stop offset="0.3898" stop-color="#363636"/><stop offset="0.4032" stop-color="#323232"/><stop offset="0.4301" stop-color="#2a2a2a"/><stop offset="0.4435" stop-color="#272727"/><stop offset="0.4704" stop-color="#202020"/><stop offset="0.4973" stop-color="#1d1d1d"/><stop offset="0.5296" stop-color="#1a1a1a"/><stop offset="0.5578" stop-color="#181818"/><stop offset="0.6169" stop-color="#161616"/><stop offset="0.6452" stop-color="#1a1a1a"/><stop offset="0.7043" stop-color="#212121"/><stop offset="0.7661" stop-color="#383838"/><stop offset="0.7930" stop-color="#424242"/><stop offset="0.8508" stop-color="#727272"/><stop offset="0.8804" stop-color="#949494"/><stop offset="0.9099" stop-color="#b7b7b7"/><stop offset="0.9691" stop-color="#d3d3d3"/><stop offset="1.0000" stop-color="#c6c6c6"/></linearGradient><linearGradient id="afm36" gradientUnits="userSpaceOnUse" x1="400" x2="1144" y1="0" y2="0"><stop offset="0.0000" stop-color="#191919"/><stop offset="0.0336" stop-color="#282828"/><stop offset="0.0941" stop-color="#404040"/><stop offset="0.1613" stop-color="#545454"/><stop offset="0.2285" stop-color="#616161"/><stop offset="0.2755" stop-color="#616161"/><stop offset="0.2957" stop-color="#616161"/><stop offset="0.3226" stop-color="#565656"/><stop offset="0.3360" stop-color="#515151"/><stop offset="0.3562" stop-color="#454545"/><stop offset="0.3763" stop-color="#393939"/><stop offset="0.3898" stop-color="#313131"/><stop offset="0.4032" stop-color="#2e2e2e"/><stop offset="0.4301" stop-color="#282828"/><stop offset="0.4435" stop-color="#242424"/><stop offset="0.4704" stop-color="#1e1e1e"/><stop offset="0.4973" stop-color="#1c1c1c"/><stop offset="0.5296" stop-color="#191919"/><stop offset="0.5578" stop-color="#181818"/><stop offset="0.6169" stop-color="#161616"/><stop offset="0.6452" stop-color="#1b1b1b"/><stop offset="0.7043" stop-color="#242424"/><stop offset="0.7661" stop-color="#3d3d3d"/><stop offset="0.7930" stop-color="#484848"/><stop offset="0.8508" stop-color="#7a7a7a"/><stop offset="0.8804" stop-color="#9d9d9d"/><stop offset="0.9099" stop-color="#c0c0c0"/><stop offset="0.9691" stop-color="#d7d7d7"/><stop offset="1.0000" stop-color="#c8c8c8"/></linearGradient><linearGradient id="afm37" gradientUnits="userSpaceOnUse" x1="400" x2="1144" y1="0" y2="0"><stop offset="0.0000" stop-color="#181818"/><stop offset="0.0336" stop-color="#262626"/><stop offset="0.0941" stop-color="#3e3e3e"/><stop offset="0.1613" stop-color="#515151"/><stop offset="0.2285" stop-color="#5e5e5e"/><stop offset="0.2755" stop-color="#5c5c5c"/><stop offset="0.2957" stop-color="#5a5a5a"/><stop offset="0.3226" stop-color="#4f4f4f"/><stop offset="0.3360" stop-color="#4a4a4a"/><stop offset="0.3562" stop-color="#404040"/><stop offset="0.3763" stop-color="#353535"/><stop offset="0.3898" stop-color="#2e2e2e"/><stop offset="0.4032" stop-color="#2b2b2b"/><stop offset="0.4301" stop-color="#262626"/><stop offset="0.4435" stop-color="#232323"/><stop offset="0.4704" stop-color="#1e1e1e"/><stop offset="0.4973" stop-color="#1c1c1c"/><stop offset="0.5296" stop-color="#1a1a1a"/><stop offset="0.5578" stop-color="#191919"/><stop offset="0.6169" stop-color="#181818"/><stop offset="0.6452" stop-color="#1c1c1c"/><stop offset="0.7043" stop-color="#262626"/><stop offset="0.7661" stop-color="#434343"/><stop offset="0.7930" stop-color="#505050"/><stop offset="0.8508" stop-color="#868686"/><stop offset="0.8804" stop-color="#a7a7a7"/><stop offset="0.9099" stop-color="#c8c8c8"/><stop offset="0.9691" stop-color="#d9d9d9"/><stop offset="1.0000" stop-color="#cacaca"/></linearGradient><linearGradient id="afm38" gradientUnits="userSpaceOnUse" x1="400" x2="1144" y1="0" y2="0"><stop offset="0.0000" stop-color="#161616"/><stop offset="0.0336" stop-color="#242424"/><stop offset="0.0941" stop-color="#3b3b3b"/><stop offset="0.1613" stop-color="#4e4e4e"/><stop offset="0.2285" stop-color="#5b5b5b"/><stop offset="0.2755" stop-color="#585858"/><stop offset="0.2957" stop-color="#545454"/><stop offset="0.3226" stop-color="#484848"/><stop offset="0.3360" stop-color="#444444"/><stop offset="0.3562" stop-color="#3a3a3a"/><stop offset="0.3763" stop-color="#313131"/><stop offset="0.3898" stop-color="#2b2b2b"/><stop offset="0.4032" stop-color="#292929"/><stop offset="0.4301" stop-color="#242424"/><stop offset="0.4435" stop-color="#222222"/><stop offset="0.4704" stop-color="#1e1e1e"/><stop offset="0.4973" stop-color="#1c1c1c"/><stop offset="0.5296" stop-color="#1a1a1a"/><stop offset="0.5578" stop-color="#1a1a1a"/><stop offset="0.6169" stop-color="#191919"/><stop offset="0.6452" stop-color="#1e1e1e"/><stop offset="0.7043" stop-color="#292929"/><stop offset="0.7661" stop-color="#494949"/><stop offset="0.7930" stop-color="#575757"/><stop offset="0.8508" stop-color="#919191"/><stop offset="0.8804" stop-color="#b0b0b0"/><stop offset="0.9099" stop-color="#cfcfcf"/><stop offset="0.9691" stop-color="#dbdbdb"/><stop offset="1.0000" stop-color="#cccccc"/></linearGradient><linearGradient id="afm39" gradientUnits="userSpaceOnUse" x1="400" x2="1144" y1="0" y2="0"><stop offset="0.0000" stop-color="#151515"/><stop offset="0.0336" stop-color="#222222"/><stop offset="0.0941" stop-color="#393939"/><stop offset="0.1613" stop-color="#4b4b4b"/><stop offset="0.2285" stop-color="#585858"/><stop offset="0.2755" stop-color="#535353"/><stop offset="0.2957" stop-color="#4e4e4e"/><stop offset="0.3226" stop-color="#414141"/><stop offset="0.3360" stop-color="#3d3d3d"/><stop offset="0.3562" stop-color="#353535"/><stop offset="0.3763" stop-color="#2d2d2d"/><stop offset="0.3898" stop-color="#282828"/><stop offset="0.4032" stop-color="#262626"/><stop offset="0.4301" stop-color="#232323"/><stop offset="0.4435" stop-color="#212121"/><stop offset="0.4704" stop-color="#1d1d1d"/><stop offset="0.4973" stop-color="#1c1c1c"/><stop offset="0.5296" stop-color="#1b1b1b"/><stop offset="0.5578" stop-color="#1b1b1b"/><stop offset="0.6169" stop-color="#1a1a1a"/><stop offset="0.6452" stop-color="#202020"/><stop offset="0.7043" stop-color="#2b2b2b"/><stop offset="0.7661" stop-color="#505050"/><stop offset="0.7930" stop-color="#5f5f5f"/><stop offset="0.8508" stop-color="#9d9d9d"/><stop offset="0.8804" stop-color="#bababa"/><stop offset="0.9099" stop-color="#d7d7d7"/><stop offset="0.9691" stop-color="#dddddd"/><stop offset="1.0000" stop-color="#cecece"/></linearGradient><linearGradient id="afm40" gradientUnits="userSpaceOnUse" x1="400" x2="1144" y1="0" y2="0"><stop offset="0.0000" stop-color="#141414"/><stop offset="0.0336" stop-color="#212121"/><stop offset="0.0941" stop-color="#363636"/><stop offset="0.1613" stop-color="#484848"/><stop offset="0.2285" stop-color="#555555"/><stop offset="0.2755" stop-color="#4f4f4f"/><stop offset="0.2957" stop-color="#474747"/><stop offset="0.3226" stop-color="#3a3a3a"/><stop offset="0.3360" stop-color="#373737"/><stop offset="0.3562" stop-color="#303030"/><stop offset="0.3763" stop-color="#292929"/><stop offset="0.3898" stop-color="#252525"/><stop offset="0.4032" stop-color="#232323"/><stop offset="0.4301" stop-color="#212121"/><stop offset="0.4435" stop-color="#202020"/><stop offset="0.4704" stop-color="#1d1d1d"/><stop offset="0.4973" stop-color="#1c1c1c"/><stop offset="0.5296" stop-color="#1c1c1c"/><stop offset="0.5578" stop-color="#1c1c1c"/><stop offset="0.6169" stop-color="#1c1c1c"/><stop offset="0.6452" stop-color="#222222"/><stop offset="0.7043" stop-color="#2e2e2e"/><stop offset="0.7661" stop-color="#565656"/><stop offset="0.7930" stop-color="#676767"/><stop offset="0.8508" stop-color="#a8a8a8"/><stop offset="0.8804" stop-color="#c4c4c4"/><stop offset="0.9099" stop-color="#dfdfdf"/><stop offset="0.9691" stop-color="#dedede"/><stop offset="1.0000" stop-color="#cfcfcf"/></linearGradient><linearGradient id="afm41" gradientUnits="userSpaceOnUse" x1="400" x2="1144" y1="0" y2="0"><stop offset="0.0000" stop-color="#131313"/><stop offset="0.0336" stop-color="#1f1f1f"/><stop offset="0.0941" stop-color="#333333"/><stop offset="0.1613" stop-color="#454545"/><stop offset="0.2285" stop-color="#525252"/><stop offset="0.2755" stop-color="#4a4a4a"/><stop offset="0.2957" stop-color="#414141"/><stop offset="0.3226" stop-color="#333333"/><stop offset="0.3360" stop-color="#303030"/><stop offset="0.3562" stop-color="#2b2b2b"/><stop offset="0.3763" stop-color="#252525"/><stop offset="0.3898" stop-color="#222222"/><stop offset="0.4032" stop-color="#212121"/><stop offset="0.4301" stop-color="#1f1f1f"/><stop offset="0.4435" stop-color="#1f1f1f"/><stop offset="0.4704" stop-color="#1d1d1d"/><stop offset="0.4973" stop-color="#1c1c1c"/><stop offset="0.5296" stop-color="#1c1c1c"/><stop offset="0.5578" stop-color="#1d1d1d"/><stop offset="0.6169" stop-color="#1d1d1d"/><stop offset="0.6452" stop-color="#242424"/><stop offset="0.7043" stop-color="#313131"/><stop offset="0.7661" stop-color="#5c5c5c"/><stop offset="0.7930" stop-color="#6f6f6f"/><stop offset="0.8508" stop-color="#b3b3b3"/><stop offset="0.8804" stop-color="#cdcdcd"/><stop offset="0.9099" stop-color="#e7e7e7"/><stop offset="0.9691" stop-color="#e0e0e0"/><stop offset="1.0000" stop-color="#d1d1d1"/></linearGradient><linearGradient id="afm42" gradientUnits="userSpaceOnUse" x1="400" x2="1144" y1="0" y2="0"><stop offset="0.0000" stop-color="#121212"/><stop offset="0.0336" stop-color="#1e1e1e"/><stop offset="0.0941" stop-color="#323232"/><stop offset="0.1613" stop-color="#444444"/><stop offset="0.2285" stop-color="#505050"/><stop offset="0.2755" stop-color="#484848"/><stop offset="0.2957" stop-color="#3e3e3e"/><stop offset="0.3226" stop-color="#303030"/><stop offset="0.3360" stop-color="#2d2d2d"/><stop offset="0.3562" stop-color="#282828"/><stop offset="0.3763" stop-color="#232323"/><stop offset="0.3898" stop-color="#202020"/><stop offset="0.4032" stop-color="#202020"/><stop offset="0.4301" stop-color="#1e1e1e"/><stop offset="0.4435" stop-color="#1e1e1e"/><stop offset="0.4704" stop-color="#1d1d1d"/><stop offset="0.4973" stop-color="#1c1c1c"/><stop offset="0.5296" stop-color="#1d1d1d"/><stop offset="0.5578" stop-color="#1d1d1d"/><stop offset="0.6169" stop-color="#1e1e1e"/><stop offset="0.6452" stop-color="#242424"/><stop offset="0.7043" stop-color="#323232"/><stop offset="0.7661" stop-color="#5f5f5f"/><stop offset="0.7930" stop-color="#737373"/><stop offset="0.8508" stop-color="#b9b9b9"/><stop offset="0.8804" stop-color="#d2d2d2"/><stop offset="0.9099" stop-color="#ebebeb"/><stop offset="0.9691" stop-color="#e1e1e1"/><stop offset="1.0000" stop-color="#d2d2d2"/></linearGradient><linearGradient id="afm43" gradientUnits="userSpaceOnUse" x1="400" x2="1144" y1="0" y2="0"><stop offset="0.0000" stop-color="#121212"/><stop offset="0.0336" stop-color="#1e1e1e"/><stop offset="0.0941" stop-color="#323232"/><stop offset="0.1613" stop-color="#444444"/><stop offset="0.2285" stop-color="#505050"/><stop offset="0.2755" stop-color="#484848"/><stop offset="0.2957" stop-color="#3e3e3e"/><stop offset="0.3226" stop-color="#303030"/><stop offset="0.3360" stop-color="#2d2d2d"/><stop offset="0.3562" stop-color="#282828"/><stop offset="0.3763" stop-color="#232323"/><stop offset="0.3898" stop-color="#202020"/><stop offset="0.4032" stop-color="#202020"/><stop offset="0.4301" stop-color="#1e1e1e"/><stop offset="0.4435" stop-color="#1e1e1e"/><stop offset="0.4704" stop-color="#1d1d1d"/><stop offset="0.4973" stop-color="#1c1c1c"/><stop offset="0.5296" stop-color="#1d1d1d"/><stop offset="0.5578" stop-color="#1d1d1d"/><stop offset="0.6169" stop-color="#1e1e1e"/><stop offset="0.6452" stop-color="#242424"/><stop offset="0.7043" stop-color="#323232"/><stop offset="0.7661" stop-color="#5f5f5f"/><stop offset="0.7930" stop-color="#737373"/><stop offset="0.8508" stop-color="#b9b9b9"/><stop offset="0.8804" stop-color="#d2d2d2"/><stop offset="0.9099" stop-color="#ebebeb"/><stop offset="0.9691" stop-color="#e1e1e1"/><stop offset="1.0000" stop-color="#d2d2d2"/></linearGradient><filter id="afmf" x="-5%" y="-5%" width="110%" height="110%"><feGaussianBlur stdDeviation="1.3 4"/></filter></defs><g filter="url(#afmf)"><rect x="380" y="57.0" width="784" height="7.6" fill="url(#afm0)"/><rect x="380" y="64.0" width="784" height="7.6" fill="url(#afm1)"/><rect x="380" y="71.0" width="784" height="7.6" fill="url(#afm2)"/><rect x="380" y="78.0" width="784" height="7.6" fill="url(#afm3)"/><rect x="380" y="85.0" width="784" height="7.6" fill="url(#afm4)"/><rect x="380" y="92.0" width="784" height="7.6" fill="url(#afm5)"/><rect x="380" y="99.0" width="784" height="7.6" fill="url(#afm6)"/><rect x="380" y="106.0" width="784" height="7.6" fill="url(#afm7)"/><rect x="380" y="113.0" width="784" height="7.6" fill="url(#afm8)"/><rect x="380" y="120.0" width="784" height="7.6" fill="url(#afm9)"/><rect x="380" y="127.0" width="784" height="7.6" fill="url(#afm10)"/><rect x="380" y="134.0" width="784" height="7.6" fill="url(#afm11)"/><rect x="380" y="141.0" width="784" height="7.6" fill="url(#afm12)"/><rect x="380" y="148.0" width="784" height="7.6" fill="url(#afm13)"/><rect x="380" y="155.0" width="784" height="7.6" fill="url(#afm14)"/><rect x="380" y="162.0" width="784" height="7.6" fill="url(#afm15)"/><rect x="380" y="169.0" width="784" height="7.6" fill="url(#afm16)"/><rect x="380" y="176.0" width="784" height="7.6" fill="url(#afm17)"/><rect x="380" y="183.0" width="784" height="7.6" fill="url(#afm18)"/><rect x="380" y="190.0" width="784" height="7.6" fill="url(#afm19)"/><rect x="380" y="197.0" width="784" height="7.6" fill="url(#afm20)"/><rect x="380" y="204.0" width="784" height="7.6" fill="url(#afm21)"/><rect x="380" y="211.0" width="784" height="7.6" fill="url(#afm22)"/><rect x="380" y="218.0" width="784" height="7.6" fill="url(#afm23)"/><rect x="380" y="225.0" width="784" height="7.6" fill="url(#afm24)"/><rect x="380" y="232.0" width="784" height="7.6" fill="url(#afm25)"/><rect x="380" y="239.0" width="784" height="7.6" fill="url(#afm26)"/><rect x="380" y="246.0" width="784" height="7.6" fill="url(#afm27)"/><rect x="380" y="253.0" width="784" height="7.6" fill="url(#afm28)"/><rect x="380" y="260.0" width="784" height="7.6" fill="url(#afm29)"/><rect x="380" y="267.0" width="784" height="7.6" fill="url(#afm30)"/><rect x="380" y="274.0" width="784" height="7.6" fill="url(#afm31)"/><rect x="380" y="281.0" width="784" height="7.6" fill="url(#afm32)"/><rect x="380" y="288.0" width="784" height="7.6" fill="url(#afm33)"/><rect x="380" y="295.0" width="784" height="7.6" fill="url(#afm34)"/><rect x="380" y="302.0" width="784" height="7.6" fill="url(#afm35)"/><rect x="380" y="309.0" width="784" height="7.6" fill="url(#afm36)"/><rect x="380" y="316.0" width="784" height="7.6" fill="url(#afm37)"/><rect x="380" y="323.0" width="784" height="7.6" fill="url(#afm38)"/><rect x="380" y="330.0" width="784" height="7.6" fill="url(#afm39)"/><rect x="380" y="337.0" width="784" height="7.6" fill="url(#afm40)"/><rect x="380" y="344.0" width="784" height="7.6" fill="url(#afm41)"/><rect x="380" y="351.0" width="784" height="7.6" fill="url(#afm42)"/><rect x="380" y="358.0" width="784" height="7.6" fill="url(#afm43)"/></g>
</g>
<rect x="399.0" y="62.9" width="745.4" height="288.2" fill="none" stroke="#000" stroke-width="3.6"/>
<g stroke="#fff" stroke-width="3.4" fill="none"><line x1="757.7" y1="111.4" x2="1121" y2="111.4"/><line x1="759.4" y1="98.7" x2="759.4" y2="123.4"/><line x1="1119.3" y1="98.7" x2="1119.3" y2="123.4"/></g>
<text x="918.58" y="95.60" font-size="27" fill="#fff" textLength="53.81" lengthAdjust="spacingAndGlyphs">2µm</text>
<g clip-path="url(#irclip)">
<rect x="1214" y="64" width="742" height="287" fill="#cc8238"/>
<rect x="1214" y="64" width="742" height="287" fill="url(#irnoise)" opacity="0.9"/>
<rect x="1214" y="64" width="742" height="287" fill="url(#irnoisey)" opacity="0.75"/>
<polygon points="1200,50 1298,50 1288,101 1273,143 1265,184 1257,215 1248,245 1238,272 1222,298 1200,310" fill="#ecc462" opacity="0.8" filter="url(#blur3)"/>
<polyline points="1298,58 1290,120 1285,190 1300,245 1335,270 1376,292 1410,325 1428,360" stroke="#5a6890" stroke-width="30" opacity="0.45" fill="none" stroke-linecap="round" stroke-linejoin="round" filter="url(#blur12)"/>
<polyline points="1552,55 1545,110 1541,143 1531,184 1510,215 1490,246 1479,267 1459,298 1438,329 1417,360" stroke="#4f6090" stroke-width="30" opacity="0.5" fill="none" stroke-linecap="round" stroke-linejoin="round" filter="url(#blur12)"/>
<polyline points="1968,95 1955,125 1932,143 1916,184 1903,215 1891,257 1885,288 1876,329 1874,360" stroke="#4a5a8a" stroke-width="56" opacity="0.45" fill="none" stroke-linecap="round" stroke-linejoin="round" filter="url(#blur12)"/>
<polyline points="1968,100 1955,125 1932,145 1916,184 1903,215 1891,257 1885,288 1876,329 1874,360" stroke="#26306e" stroke-width="18" opacity="0.6" fill="none" stroke-linecap="round" stroke-linejoin="round" filter="url(#blur6)"/>
<ellipse cx="1245" cy="315" rx="60" ry="55" fill="#6c7590" opacity="0.5" filter="url(#blur20)"/>
<ellipse cx="1640" cy="320" rx="80" ry="45" fill="#6f7690" opacity="0.45" filter="url(#blur20)"/>
<ellipse cx="1940" cy="300" rx="30" ry="70" fill="#6f7690" opacity="0.45" filter="url(#blur12)"/>
<rect x="1214" y="300" width="700" height="60" fill="#7d7f8c" opacity="0.25" filter="url(#blur20)"/>
</g>
<rect x="1213.0" y="62.9" width="743.0" height="288.2" fill="none" stroke="#000" stroke-width="3.6"/>
<defs><linearGradient id="gray" x1="0" x2="1" y1="0" y2="0"><stop offset="0" stop-color="#0c0c0c"/><stop offset="0.5" stop-color="#7c7c7c"/><stop offset="1" stop-color="#f4f4f4"/></linearGradient>
<linearGradient id="ircb" x1="0" x2="1" y1="0" y2="0"><stop offset="0" stop-color="#0e0e22"/><stop offset="0.2" stop-color="#26286c"/><stop offset="0.42" stop-color="#4a6878"/><stop offset="0.6" stop-color="#d2803c"/><stop offset="0.8" stop-color="#fcd25a"/><stop offset="1" stop-color="#fff9ea"/></linearGradient></defs>
<rect x="470.5" y="374.8" width="77.2" height="23.8" fill="url(#gray)" stroke="#000" stroke-width="3"/>
<text x="435.66" y="398.40" font-size="31" fill="#231f20" textLength="17.82" lengthAdjust="spacingAndGlyphs">0</text>
<text x="560.55" y="398.40" font-size="31" fill="#231f20">121</text>
<text x="430.37" y="438.00" font-size="30.3" fill="#231f20" textLength="155.10" lengthAdjust="spacingAndGlyphs">height (nm)</text>
<rect x="1826.7" y="374.8" width="76.3" height="23.2" fill="url(#ircb)" stroke="#000" stroke-width="3"/>
<text x="1796.51" y="398.50" font-size="31" fill="#231f20" textLength="17.12" lengthAdjust="spacingAndGlyphs">0</text>
<text x="1910.55" y="398.60" font-size="31" fill="#231f20">1</text>
<text x="1808.37" y="433.10" font-size="30" fill="#231f20" textLength="111.48" lengthAdjust="spacingAndGlyphs">intensity</text>
<text x="1791.75" y="467.00" font-size="30" fill="#231f20" textLength="147.18" lengthAdjust="spacingAndGlyphs">(arb. units)</text>
<circle cx="460.9" cy="93.4" r="7.9" fill="#ff8000" stroke="#fff" stroke-width="2.2"/>
<circle cx="478" cy="101.3" r="7.9" fill="#ff8000" stroke="#fff" stroke-width="2.2"/>
<circle cx="496.4" cy="108.8" r="7.9" fill="#ff8000" stroke="#fff" stroke-width="2.2"/>
<circle cx="584" cy="166.4" r="7.9" fill="#ff8000" stroke="#fff" stroke-width="2.2"/>
<circle cx="675.3" cy="221" r="7.9" fill="#007800" stroke="#fff" stroke-width="2.2"/>
<circle cx="695.3" cy="231.4" r="7.9" fill="#007800" stroke="#fff" stroke-width="2.2"/>
<circle cx="716.2" cy="241" r="7.9" fill="#007800" stroke="#fff" stroke-width="2.2"/>
<circle cx="872.2" cy="271.9" r="7.9" fill="#007800" stroke="#fff" stroke-width="2.2"/>
<circle cx="1033.6" cy="325.3" r="7.9" fill="#ff8000" stroke="#fff" stroke-width="2.2"/>
<circle cx="1057.4" cy="329" r="7.9" fill="#ff8000" stroke="#fff" stroke-width="2.2"/>
<circle cx="1083.2" cy="335.7" r="7.9" fill="#ff8000" stroke="#fff" stroke-width="2.2"/>
<circle cx="1113.7" cy="299.4" r="7.9" fill="#ff8000" stroke="#fff" stroke-width="2.2"/>
<circle cx="1267.2" cy="97" r="7.9" fill="#ff8000" stroke="#fff" stroke-width="2.2"/>
<circle cx="1285.2" cy="105" r="7.9" fill="#ff8000" stroke="#fff" stroke-width="2.2"/>
<circle cx="1302.9" cy="112.1" r="7.9" fill="#ff8000" stroke="#fff" stroke-width="2.2"/>
<circle cx="1391" cy="170.1" r="7.9" fill="#ff8000" stroke="#fff" stroke-width="2.2"/>
<circle cx="1482.1" cy="223.8" r="7.9" fill="#007800" stroke="#fff" stroke-width="2.2"/>
<circle cx="1501.9" cy="234.7" r="7.9" fill="#007800" stroke="#fff" stroke-width="2.2"/>
<circle cx="1522.4" cy="244.4" r="7.9" fill="#007800" stroke="#fff" stroke-width="2.2"/>
<circle cx="1679" cy="275.5" r="7.9" fill="#007800" stroke="#fff" stroke-width="2.2"/>
<circle cx="1839.9" cy="328.4" r="7.9" fill="#ff8000" stroke="#fff" stroke-width="2.2"/>
<circle cx="1864.2" cy="332.6" r="7.9" fill="#ff8000" stroke="#fff" stroke-width="2.2"/>
<circle cx="1889.8" cy="339.3" r="7.9" fill="#ff8000" stroke="#fff" stroke-width="2.2"/>
<circle cx="1920" cy="303.2" r="7.9" fill="#ff8000" stroke="#fff" stroke-width="2.2"/>
<text x="436.45" y="128.00" font-size="31" fill="#fff">1</text>
<text x="458.60" y="136.30" font-size="31" fill="#fff">2</text>
<text x="484.05" y="146.00" font-size="31" fill="#fff">3</text>
<text x="565.90" y="201.80" font-size="31" fill="#fff">4</text>
<text x="654.60" y="259.40" font-size="31" fill="#fff">5</text>
<text x="676.55" y="268.60" font-size="31" fill="#fff">6</text>
<text x="701.65" y="277.30" font-size="31" fill="#fff">7</text>
<text x="864.00" y="306.50" font-size="31" fill="#fff">8</text>
<text x="1008.40" y="310.70" font-size="31" fill="#fff">9</text>
<text x="1044.60" y="312.80" font-size="31" fill="#111">10</text>
<text x="1090.10" y="347.00" font-size="31" fill="#111">11</text>
<text x="1105.25" y="285.70" font-size="31" fill="#111">12</text>
<text x="1242.15" y="129.80" font-size="31" fill="#fff">1</text>
<text x="1264.90" y="139.00" font-size="31" fill="#fff">2</text>
<text x="1290.55" y="147.40" font-size="31" fill="#fff">3</text>
<text x="1372.00" y="203.70" font-size="31" fill="#fff">4</text>
<text x="1460.90" y="262.00" font-size="31" fill="#fff">5</text>
<text x="1482.65" y="270.40" font-size="31" fill="#fff">6</text>
<text x="1508.35" y="280.10" font-size="31" fill="#fff">7</text>
<text x="1670.00" y="309.10" font-size="31" fill="#fff">8</text>
<text x="1814.90" y="313.30" font-size="31" fill="#fff">9</text>
<text x="1851.00" y="315.40" font-size="31" fill="#fff">10</text>
<text x="1897.30" y="349.00" font-size="31" fill="#fff">11</text>
<text x="1911.65" y="288.50" font-size="31" fill="#fff">12</text>
<text x="0.37" y="468.00" font-size="38" fill="#231f20" font-weight="bold" textLength="24.42" lengthAdjust="spacingAndGlyphs">b</text>
<path d="M79.3 516.4 V1013.7 H942.0" fill="none" stroke="#000" stroke-width="3.3" stroke-linecap="square"/>
<line x1="124.3" y1="1013.7" x2="124.3" y2="1021.7" stroke="#000" stroke-width="3.3"/>
<line x1="198.5" y1="1013.7" x2="198.5" y2="1025.7" stroke="#000" stroke-width="3.3"/>
<line x1="272.7" y1="1013.7" x2="272.7" y2="1021.7" stroke="#000" stroke-width="3.3"/>
<line x1="346.9" y1="1013.7" x2="346.9" y2="1025.7" stroke="#000" stroke-width="3.3"/>
<line x1="421.1" y1="1013.7" x2="421.1" y2="1021.7" stroke="#000" stroke-width="3.3"/>
<line x1="495.3" y1="1013.7" x2="495.3" y2="1025.7" stroke="#000" stroke-width="3.3"/>
<line x1="569.5" y1="1013.7" x2="569.5" y2="1021.7" stroke="#000" stroke-width="3.3"/>
<line x1="643.7" y1="1013.7" x2="643.7" y2="1025.7" stroke="#000" stroke-width="3.3"/>
<line x1="717.9" y1="1013.7" x2="717.9" y2="1021.7" stroke="#000" stroke-width="3.3"/>
<line x1="792.1" y1="1013.7" x2="792.1" y2="1025.7" stroke="#000" stroke-width="3.3"/>
<line x1="866.3" y1="1013.7" x2="866.3" y2="1021.7" stroke="#000" stroke-width="3.3"/>
<line x1="940.5" y1="1013.7" x2="940.5" y2="1025.7" stroke="#000" stroke-width="3.3"/>
<line x1="79.3" y1="1005.4" x2="68.3" y2="1005.4" stroke="#000" stroke-width="3.3"/>
<line x1="79.3" y1="869.9" x2="73.3" y2="869.9" stroke="#000" stroke-width="3.3"/>
<line x1="79.3" y1="734.5" x2="68.3" y2="734.5" stroke="#000" stroke-width="3.3"/>
<line x1="79.3" y1="598.2" x2="73.3" y2="598.2" stroke="#000" stroke-width="3.3"/>
<text x="172.90" y="1058.50" font-size="31" fill="#231f20">800</text>
<text x="312.15" y="1058.50" font-size="31" fill="#231f20">1000</text>
<text x="460.55" y="1058.50" font-size="31" fill="#231f20">1200</text>
<text x="608.95" y="1058.50" font-size="31" fill="#231f20">1400</text>
<text x="757.35" y="1058.50" font-size="31" fill="#231f20">1600</text>
<text x="905.75" y="1058.50" font-size="31" fill="#231f20">1800</text>
<text x="394.60" y="1099.30" font-size="30.5" fill="#231f20" textLength="238.52" lengthAdjust="spacingAndGlyphs">Wavenumber (cm</text>
<text x="631.98" y="1086.20" font-size="13" fill="#231f20" textLength="13.80" lengthAdjust="spacingAndGlyphs">-1</text>
<text x="649.81" y="1099.30" font-size="30.5" fill="#231f20" textLength="9.53" lengthAdjust="spacingAndGlyphs">)</text>
<text transform="translate(22.50 1035.80) rotate(-90)" x="-2.52" y="0" font-size="30.6" fill="#231f20" textLength="542.19" lengthAdjust="spacingAndGlyphs">Mean nano-FTIR absorption (arb. units)</text>
<path d="M80.2 959.2 C80.8 956.6 82.7 944.5 84.0 943.7 C85.3 942.8 86.4 948.4 87.9 954.0 C89.4 959.6 91.3 971.2 93.1 977.2 C94.8 983.2 96.5 987.5 98.2 990.1 C99.9 992.7 101.9 993.5 103.4 992.7 C104.9 991.8 106.0 985.4 107.2 984.9 C108.5 984.5 109.6 988.4 111.1 990.1 C112.6 991.8 114.8 995.7 116.3 995.3 C117.8 994.8 118.4 989.7 120.1 987.5 C121.9 985.4 124.9 984.1 126.6 982.4 C128.3 980.6 129.0 978.5 130.5 977.2 C132.0 975.9 133.7 975.3 135.6 974.6 C137.6 974.0 140.1 974.2 142.1 973.3 C144.0 972.5 145.5 973.6 147.2 969.5 C148.9 965.4 151.1 952.7 152.4 948.8 C153.7 945.0 154.1 945.0 155.0 946.3 C155.8 947.5 156.3 953.1 157.5 956.6 C158.8 960.0 160.6 965.0 162.7 966.9 C164.9 968.8 167.9 967.5 170.4 968.2 C173.0 968.8 175.6 970.1 178.2 970.8 C180.8 971.4 183.8 974.4 185.9 972.1 C188.1 969.7 189.8 958.7 191.1 956.6 C192.4 954.4 192.4 955.3 193.7 959.2 C194.9 963.0 197.1 974.6 198.8 979.8 C200.5 984.9 202.3 987.5 204.0 990.1 C205.7 992.7 207.4 995.7 209.1 995.3 C210.9 994.8 212.6 989.5 214.3 987.5 C216.0 985.6 217.9 984.9 219.5 983.7 C221.0 982.4 222.0 979.6 223.3 979.8 C224.6 980.0 225.7 984.5 227.2 984.9 C228.7 985.4 230.6 981.5 232.4 982.4 C234.1 983.2 235.4 987.1 237.5 990.1 C239.7 993.1 242.2 998.5 245.2 1000.4 C248.3 1002.4 252.1 1001.5 255.6 1001.7 C259.0 1001.9 262.4 1001.5 265.9 1001.7 C269.3 1001.9 272.8 1003.2 276.2 1003.0 C279.6 1002.8 283.1 1001.3 286.5 1000.4 C290.0 999.6 293.8 998.7 296.8 997.8 C299.8 997.0 302.4 994.4 304.6 995.3 C306.7 996.1 307.6 1002.4 309.7 1003.0 C311.9 1003.7 314.9 1000.4 317.5 999.1 C320.1 997.8 322.6 996.8 325.2 995.3 C327.8 993.8 329.9 991.8 333.0 990.1 C336.0 988.4 339.8 986.7 343.3 984.9 C346.7 983.2 350.1 981.9 353.6 979.8 C357.0 977.6 361.2 975.9 363.9 972.1 C366.6 968.2 368.1 961.3 370.0 956.6 C371.9 951.8 373.4 950.1 375.2 943.7 C376.9 937.2 379.0 927.3 380.3 917.9 C381.6 908.4 382.0 899.4 382.9 886.9 C383.8 874.5 384.5 852.5 385.5 843.1 C386.4 833.6 387.5 830.6 388.6 830.2 C389.6 829.7 390.7 834.5 391.9 840.5 C393.1 846.5 394.7 856.0 395.8 866.3 C396.9 876.6 397.5 892.9 398.4 902.4 C399.2 911.9 399.9 917.0 401.0 923.0 C402.0 929.1 403.5 935.1 404.8 938.5 C406.1 942.0 407.4 942.0 408.7 943.7 C410.0 945.4 411.3 946.7 412.6 948.8 C413.9 951.0 415.1 954.0 416.4 956.6 C417.7 959.2 419.0 963.0 420.3 964.3 C421.6 965.6 422.9 965.6 424.2 964.3 C425.5 963.0 426.7 964.3 428.0 956.6 C429.3 948.8 430.6 931.6 431.9 917.9 C433.2 904.1 434.6 885.2 435.8 874.0 C437.0 862.9 438.1 853.0 439.1 850.8 C440.2 848.7 441.1 858.1 442.2 861.1 C443.4 864.1 444.8 865.9 446.1 868.9 C447.4 871.9 448.7 874.5 450.0 879.2 C451.3 883.9 452.5 892.5 453.8 897.2 C455.1 902.0 456.4 901.5 457.7 907.6 C459.0 913.6 460.3 925.6 461.6 933.4 C462.9 941.1 464.3 949.7 465.4 954.0 C466.6 958.3 467.6 961.7 468.5 959.2 C469.5 956.6 470.1 948.4 471.1 938.5 C472.1 928.6 473.3 915.7 474.5 899.8 C475.7 883.9 477.0 862.4 478.3 843.1 C479.6 823.7 480.9 798.6 482.2 783.7 C483.5 768.9 484.9 757.5 486.1 754.1 C487.2 750.6 488.1 756.4 489.2 763.1 C490.2 769.8 491.3 782.0 492.5 794.1 C493.7 806.1 495.1 823.3 496.4 835.3 C497.7 847.4 499.0 855.5 500.3 866.3 C501.6 877.0 502.8 891.7 504.1 899.8 C505.4 908.0 506.7 911.9 508.0 915.3 C509.3 918.7 510.6 920.9 511.9 920.5 C513.2 920.0 514.5 914.7 515.7 912.7 C517.0 910.8 518.3 908.9 519.6 908.9 C520.9 908.9 522.2 909.5 523.5 912.7 C524.8 915.9 526.1 922.6 527.4 928.2 C528.6 933.8 529.9 941.1 531.2 946.3 C532.5 951.4 533.6 954.9 535.1 959.2 C536.6 963.5 538.5 969.9 540.2 972.1 C542.0 974.2 543.7 971.2 545.4 972.1 C547.1 972.9 548.8 975.9 550.6 977.2 C552.3 978.5 554.2 979.8 555.7 979.8 C557.2 979.8 558.3 979.4 559.6 977.2 C560.9 975.1 562.0 970.8 563.5 966.9 C565.0 963.0 566.9 959.6 568.6 954.0 C570.3 948.4 572.3 940.7 573.8 933.4 C575.3 926.0 576.4 917.0 577.7 910.1 C578.9 903.3 580.0 894.9 581.5 892.1 C583.0 889.3 585.0 893.4 586.7 893.4 C588.4 893.4 590.3 893.6 591.8 892.1 C593.3 890.6 594.5 887.6 595.7 884.3 C596.9 881.1 598.0 873.2 599.1 872.7 C600.1 872.3 601.0 876.8 602.2 881.8 C603.3 886.7 604.7 895.1 606.0 902.4 C607.3 909.7 608.6 918.7 609.9 925.6 C611.2 932.5 612.3 937.7 613.8 943.7 C615.3 949.7 617.2 957.4 618.9 961.7 C620.6 966.0 622.4 967.3 624.1 969.5 C625.8 971.6 627.5 973.6 629.2 974.6 C631.0 975.7 632.7 975.1 634.4 975.9 C636.1 976.8 637.8 978.7 639.6 979.8 C641.3 980.9 643.0 981.7 644.7 982.4 C646.4 983.0 648.2 983.7 649.9 983.7 C651.6 983.7 653.3 982.2 655.0 982.4 C656.8 982.6 658.5 984.9 660.2 984.9 C661.9 984.9 663.7 983.0 665.4 982.4 C667.0 981.7 668.3 980.4 669.9 981.2 C671.5 982.0 672.9 986.0 674.8 986.9 C676.7 987.9 678.9 986.0 681.4 986.9 C683.8 987.9 686.8 991.3 689.5 992.7 C692.3 994.0 695.0 993.9 697.7 995.1 C700.4 996.3 703.2 999.2 705.9 1000.0 C708.6 1000.8 711.3 1000.1 714.1 1000.0 C716.8 999.9 719.5 999.1 722.3 999.2 C725.0 999.3 727.7 1001.4 730.4 1000.8 C733.2 1000.3 735.9 997.0 738.6 995.9 C741.3 994.8 744.1 995.7 746.8 994.3 C749.5 992.9 752.2 989.8 755.0 987.7 C757.7 985.7 760.4 983.4 763.1 982.0 C765.9 980.7 768.6 980.8 771.3 979.6 C774.1 978.3 776.8 974.9 779.5 974.7 C782.2 974.4 785.5 977.9 787.7 977.9 C789.9 977.9 790.7 974.5 792.6 974.7 C794.5 974.8 797.0 978.2 799.1 978.7 C801.3 979.3 803.5 978.6 805.7 977.9 C807.9 977.2 810.3 975.5 812.2 974.7 C814.1 973.8 815.5 973.8 817.1 973.0 C818.8 972.2 820.4 968.4 822.0 969.8 C823.7 971.1 825.0 980.1 826.9 981.2 C828.9 982.3 831.3 975.7 833.5 976.3 C835.7 976.8 837.8 984.2 840.0 984.5 C842.2 984.7 844.4 978.2 846.6 977.9 C848.8 977.7 850.7 982.4 853.1 982.8 C855.6 983.2 858.6 981.1 861.3 980.4 C864.0 979.7 867.3 978.2 869.5 978.7 C871.7 979.3 872.5 984.7 874.4 983.7 C876.3 982.6 878.7 973.8 880.9 972.2 C883.1 970.6 885.8 972.1 887.5 973.8 C889.1 975.6 889.1 979.4 890.7 982.8 C892.4 986.2 895.1 991.8 897.3 994.3 C899.5 996.7 901.6 995.7 903.8 997.6 C906.0 999.5 908.2 1004.2 910.4 1005.7 C912.5 1007.2 915.0 1008.7 916.9 1006.6 C918.8 1004.4 920.2 993.3 921.8 992.7 C923.5 992.0 924.8 1001.1 926.7 1002.5 C928.6 1003.8 931.4 1001.4 933.3 1000.8 C935.2 1000.3 937.4 999.5 938.2 999.2" fill="none" stroke="#008000" stroke-width="3.6" stroke-linejoin="round" stroke-dasharray="1.6 6.6" stroke-linecap="round"/>
<path d="M80.2 977.2 C80.8 962.2 83.0 914.9 84.0 886.9 C85.1 859.0 85.7 825.0 86.6 809.5 C87.5 794.1 88.5 791.9 89.2 794.1 C89.9 796.2 90.3 802.7 91.0 822.4 C91.6 842.2 92.3 889.1 93.1 912.7 C93.8 936.4 94.6 953.6 95.6 964.3 C96.7 975.1 98.4 973.3 99.5 977.2 C100.6 981.1 100.8 984.5 102.1 987.5 C103.4 990.5 105.3 994.0 107.2 995.3 C109.2 996.6 111.8 994.4 113.7 995.3 C115.6 996.1 116.7 1001.3 118.9 1000.4 C121.0 999.6 124.0 993.1 126.6 990.1 C129.2 987.1 131.7 984.7 134.3 982.4 C136.9 980.0 139.5 977.6 142.1 975.9 C144.6 974.2 147.9 975.7 149.8 972.1 C151.7 968.4 152.6 964.3 153.7 954.0 C154.7 943.7 155.4 912.7 156.3 910.1 C157.1 907.6 158.0 929.1 158.8 938.5 C159.7 948.0 159.9 960.9 161.4 966.9 C162.9 972.9 165.1 973.3 167.9 974.6 C170.7 975.9 175.2 974.6 178.2 974.6 C181.2 974.6 183.8 976.4 185.9 974.6 C188.1 972.9 189.7 973.8 191.1 964.3 C192.5 954.9 193.3 928.2 194.2 917.9 C195.0 907.6 195.5 899.8 196.2 902.4 C197.0 905.0 198.0 921.8 198.8 933.4 C199.7 945.0 200.1 963.0 201.4 972.1 C202.7 981.1 204.4 984.9 206.6 987.5 C208.7 990.1 211.7 988.0 214.3 987.5 C216.9 987.1 219.5 986.2 222.0 984.9 C224.6 983.7 227.6 979.8 229.8 979.8 C231.9 979.8 233.2 982.4 234.9 984.9 C236.6 987.5 237.5 992.9 240.1 995.3 C242.7 997.6 247.0 998.3 250.4 999.1 C253.8 1000.0 256.4 1000.0 260.7 1000.4 C265.0 1000.9 271.9 1001.7 276.2 1001.7 C280.5 1001.7 283.1 1001.1 286.5 1000.4 C290.0 999.8 293.4 998.5 296.8 997.8 C300.3 997.2 303.7 997.2 307.2 996.6 C310.6 995.9 314.0 995.5 317.5 994.0 C320.9 992.5 324.4 989.5 327.8 987.5 C331.2 985.6 334.7 983.7 338.1 982.4 C341.5 981.1 345.0 980.6 348.4 979.8 C351.9 978.9 355.3 979.4 358.7 977.2 C362.2 975.1 367.2 969.9 369.1 966.9 C370.9 963.9 369.0 961.7 370.0 959.2 C371.0 956.6 373.4 957.4 375.2 951.4 C376.9 945.4 378.8 934.6 380.3 923.0 C381.8 911.4 382.9 893.4 384.2 881.8 C385.5 870.2 386.8 859.8 388.1 853.4 C389.3 846.9 390.9 842.6 391.9 843.1 C393.0 843.5 393.6 848.7 394.5 856.0 C395.4 863.3 396.2 877.5 397.1 886.9 C397.9 896.4 398.6 904.1 399.7 912.7 C400.7 921.3 402.2 932.5 403.5 938.5 C404.8 944.5 406.1 947.1 407.4 948.8 C408.7 950.6 410.0 948.4 411.3 948.8 C412.6 949.3 413.9 950.6 415.1 951.4 C416.4 952.3 417.9 955.3 419.0 954.0 C420.1 952.7 420.5 946.3 421.6 943.7 C422.7 941.1 424.2 941.5 425.5 938.5 C426.7 935.5 428.3 936.4 429.3 925.6 C430.4 914.9 431.0 902.0 431.9 874.0 C432.8 846.1 433.7 798.8 434.5 758.0 C435.3 717.1 435.9 663.4 436.6 629.0 C437.2 594.6 437.8 568.8 438.4 551.6 C439.0 534.4 439.4 529.7 440.2 525.8 C440.9 521.9 442.0 524.1 442.7 528.4 C443.5 532.7 444.1 534.8 444.8 551.6 C445.5 568.4 446.2 598.9 446.9 629.0 C447.5 659.1 447.9 699.9 448.7 732.2 C449.4 764.4 450.4 800.1 451.3 822.4 C452.1 844.8 452.8 857.7 453.8 866.3 C454.8 874.9 456.1 875.7 457.2 874.0 C458.3 872.3 459.3 856.0 460.3 856.0 C461.2 856.0 461.8 865.4 462.9 874.0 C463.9 882.6 465.7 900.3 466.7 907.6 C467.8 914.9 468.3 918.7 469.3 917.9 C470.3 917.0 471.6 911.9 472.7 902.4 C473.7 892.9 474.8 874.5 475.8 861.1 C476.7 847.8 477.5 839.6 478.3 822.4 C479.2 805.2 480.1 777.3 480.9 758.0 C481.8 738.6 482.6 723.6 483.5 706.4 C484.4 689.2 485.2 665.9 486.1 654.8 C486.9 643.6 487.9 639.3 488.7 639.3 C489.4 639.3 490.1 643.6 490.7 654.8 C491.4 665.9 491.8 687.0 492.5 706.4 C493.3 725.7 494.4 756.7 495.1 770.8 C495.8 785.0 496.3 789.3 496.9 791.5 C497.6 793.6 498.2 787.6 499.0 783.7 C499.7 779.9 500.9 772.6 501.6 768.3 C502.2 764.0 502.3 757.5 502.8 758.0 C503.4 758.4 504.0 762.3 504.7 770.8 C505.3 779.4 505.9 800.1 506.7 809.5 C507.5 819.0 508.4 823.3 509.3 827.6 C510.2 831.9 511.0 830.6 511.9 835.3 C512.7 840.1 513.6 848.7 514.5 856.0 C515.3 863.3 516.0 874.5 517.0 879.2 C518.1 883.9 519.6 882.2 520.9 884.3 C522.2 886.5 523.3 888.6 524.8 892.1 C526.3 895.5 528.2 899.8 529.9 905.0 C531.6 910.1 533.6 919.2 535.1 923.0 C536.6 926.9 537.7 929.9 539.0 928.2 C540.2 926.5 541.8 914.4 542.8 912.7 C543.9 911.0 544.5 914.0 545.4 917.9 C546.3 921.8 546.9 929.9 548.0 935.9 C549.1 942.0 550.6 949.7 551.9 954.0 C553.1 958.3 554.2 960.9 555.7 961.7 C557.2 962.6 559.2 965.2 560.9 959.2 C562.6 953.1 564.8 936.4 566.0 925.6 C567.3 914.9 567.5 901.1 568.6 894.7 C569.7 888.2 571.2 894.7 572.5 886.9 C573.8 879.2 575.1 861.1 576.4 848.2 C577.7 835.3 579.0 818.8 580.2 809.5 C581.4 800.3 582.5 793.6 583.6 792.8 C584.7 791.9 585.7 798.1 586.7 804.4 C587.6 810.6 588.4 821.6 589.3 830.2 C590.1 838.8 590.8 847.4 591.8 856.0 C592.9 864.6 594.4 874.9 595.7 881.8 C597.0 888.6 598.3 892.1 599.6 897.2 C600.9 902.4 602.2 907.1 603.4 912.7 C604.7 918.3 606.0 925.2 607.3 930.8 C608.6 936.4 609.9 941.5 611.2 946.3 C612.5 951.0 613.8 955.7 615.1 959.2 C616.3 962.6 617.4 964.7 618.9 966.9 C620.4 969.0 622.1 971.2 624.1 972.1 C626.0 972.9 628.2 972.1 630.5 972.1 C632.9 972.1 636.1 972.5 638.3 972.1 C640.4 971.6 641.7 970.8 643.4 969.5 C645.1 968.2 646.9 965.6 648.6 964.3 C650.3 963.0 652.0 962.4 653.7 961.7 C655.5 961.1 657.2 960.4 658.9 960.4 C660.6 960.4 662.5 961.3 664.1 961.7 C665.6 962.2 666.8 962.1 668.3 963.2 C669.8 964.3 671.0 965.7 673.2 968.1 C675.4 970.6 678.6 974.9 681.4 977.9 C684.1 980.9 686.8 983.9 689.5 986.1 C692.3 988.3 695.0 989.4 697.7 991.0 C700.4 992.7 703.2 994.4 705.9 995.9 C708.6 997.4 711.3 999.1 714.1 1000.0 C716.8 1001.0 719.5 1001.2 722.3 1001.6 C725.0 1002.1 727.7 1002.9 730.4 1002.5 C733.2 1002.1 735.9 1000.0 738.6 999.2 C741.3 998.4 744.1 997.8 746.8 997.6 C749.5 997.3 752.2 998.4 755.0 997.6 C757.7 996.7 760.4 993.7 763.1 992.7 C765.9 991.6 768.6 991.8 771.3 991.0 C774.1 990.2 776.8 988.0 779.5 987.7 C782.2 987.5 785.0 989.4 787.7 989.4 C790.4 989.4 793.1 988.8 795.9 987.7 C798.6 986.7 801.3 982.8 804.0 982.8 C806.8 982.8 809.5 987.7 812.2 987.7 C814.9 987.7 817.7 983.2 820.4 982.8 C823.1 982.4 825.9 984.3 828.6 985.3 C831.3 986.2 834.0 988.7 836.8 988.6 C839.5 988.4 842.2 984.1 844.9 984.5 C847.7 984.9 850.4 990.5 853.1 991.0 C855.8 991.6 858.6 988.0 861.3 987.7 C864.0 987.5 866.7 989.4 869.5 989.4 C872.2 989.4 874.9 988.3 877.7 987.7 C880.4 987.2 883.1 984.5 885.8 986.1 C888.6 987.7 891.3 995.9 894.0 997.6 C896.7 999.2 899.5 994.6 902.2 995.9 C904.9 997.3 907.6 1003.8 910.4 1005.7 C913.1 1007.6 915.8 1007.9 918.5 1007.4 C921.3 1006.8 924.3 1002.1 926.7 1002.5 C929.2 1002.9 931.4 1009.6 933.3 1009.8 C935.2 1010.1 937.4 1005.1 938.2 1004.1" fill="none" stroke="#ff8000" stroke-width="3.6" stroke-linejoin="round" stroke-dasharray="1.6 6.6" stroke-linecap="round"/>
<path d="M80.2 994.0 C81.0 988.4 83.8 964.5 85.3 960.4 C86.8 956.4 88.1 964.5 89.2 969.5 C90.3 974.4 90.7 984.5 91.8 990.1 C92.8 995.7 94.1 1000.2 95.6 1003.0 C97.1 1005.8 99.1 1006.9 100.8 1006.9 C102.5 1006.9 104.2 1003.4 106.0 1003.0 C107.7 1002.6 109.4 1004.3 111.1 1004.3 C112.8 1004.3 114.6 1002.8 116.3 1003.0 C118.0 1003.2 119.7 1006.4 121.4 1005.6 C123.2 1004.7 124.9 999.6 126.6 997.8 C128.3 996.1 129.2 995.9 131.7 995.3 C134.3 994.6 139.3 994.6 142.1 994.0 C144.9 993.3 146.8 996.1 148.5 991.4 C150.2 986.7 151.3 969.3 152.4 965.6 C153.5 961.9 154.1 965.6 155.0 969.5 C155.8 973.3 156.3 985.4 157.5 988.8 C158.8 992.3 161.0 989.5 162.7 990.1 C164.4 990.8 166.4 994.0 167.9 992.7 C169.3 991.4 170.1 982.8 171.2 982.4 C172.3 981.9 173.2 988.6 174.3 990.1 C175.5 991.6 176.7 991.6 178.2 991.4 C179.7 991.2 181.6 990.3 183.3 988.8 C185.1 987.3 187.2 988.4 188.5 982.4 C189.8 976.4 190.2 955.3 191.1 952.7 C191.9 950.1 192.8 961.5 193.7 966.9 C194.5 972.3 194.9 980.9 196.2 984.9 C197.5 989.0 199.7 989.7 201.4 991.4 C203.1 993.1 204.8 994.6 206.6 995.3 C208.3 995.9 209.8 995.7 211.7 995.3 C213.6 994.8 216.0 992.0 218.2 992.7 C220.3 993.3 222.7 998.1 224.6 999.1 C226.5 1000.2 228.1 1003.0 229.8 999.1 C231.5 995.3 233.6 977.9 234.9 975.9 C236.2 974.0 236.6 983.9 237.5 987.5 C238.4 991.2 237.9 995.7 240.1 997.8 C242.2 1000.0 247.0 999.8 250.4 1000.4 C253.8 1001.1 257.3 1001.4 260.7 1001.7 C264.2 1002.1 267.6 1002.3 271.0 1002.5 C274.5 1002.7 278.4 1003.1 281.4 1003.0 C284.4 1002.9 286.5 1002.4 289.1 1001.7 C291.7 1001.1 294.7 1000.6 296.8 999.1 C299.0 997.6 300.5 1000.2 302.0 992.7 C303.5 985.2 304.8 957.0 305.9 954.0 C306.9 951.0 307.6 969.9 308.4 974.6 C309.3 979.4 310.2 982.8 311.0 982.4 C311.9 981.9 312.7 972.1 313.6 972.1 C314.5 972.1 315.1 978.9 316.2 982.4 C317.3 985.8 318.5 991.4 320.1 992.7 C321.6 994.0 323.5 991.4 325.2 990.1 C326.9 988.8 328.7 986.2 330.4 984.9 C332.1 983.7 333.8 983.2 335.5 982.4 C337.3 981.5 338.5 980.6 340.7 979.8 C342.8 978.9 346.3 978.9 348.4 977.2 C350.6 975.5 351.9 970.5 353.6 969.5 C355.3 968.4 357.0 972.1 358.7 970.8 C360.5 969.5 362.2 964.5 363.9 961.7 C365.6 958.9 368.0 955.7 369.1 954.0 C370.1 952.3 369.0 955.3 370.0 951.4 C371.0 947.5 373.7 935.5 375.2 930.8 C376.7 926.0 378.0 928.6 379.0 923.0 C380.1 917.5 380.7 910.6 381.6 897.2 C382.5 883.9 383.5 854.7 384.2 843.1 C384.9 831.5 385.3 828.9 386.0 827.6 C386.7 826.3 387.8 832.8 388.6 835.3 C389.3 837.9 389.9 842.6 390.6 843.1 C391.4 843.5 392.4 838.3 393.2 837.9 C394.0 837.5 394.4 832.3 395.3 840.5 C396.1 848.7 397.2 874.0 398.4 886.9 C399.5 899.8 401.0 910.6 402.2 917.9 C403.5 925.2 405.0 929.9 406.1 930.8 C407.2 931.6 407.6 929.5 408.7 923.0 C409.8 916.6 411.4 899.6 412.6 892.1 C413.8 884.6 414.8 877.5 415.9 877.9 C417.0 878.3 418.1 888.9 419.0 894.7 C420.0 900.5 420.8 910.6 421.6 912.7 C422.4 914.9 422.9 909.3 423.7 907.6 C424.4 905.8 425.3 902.4 426.2 902.4 C427.2 902.4 428.4 909.3 429.3 907.6 C430.3 905.8 430.8 904.1 431.9 892.1 C433.0 880.0 434.7 851.7 435.8 835.3 C436.9 819.0 437.5 803.7 438.4 794.1 C439.2 784.4 440.1 778.2 440.9 777.3 C441.8 776.4 442.7 779.2 443.5 788.9 C444.4 798.6 445.2 822.0 446.1 835.3 C447.0 848.7 447.8 859.4 448.7 868.9 C449.5 878.3 450.4 885.6 451.3 892.1 C452.1 898.5 453.0 907.6 453.8 907.6 C454.7 907.6 455.7 896.8 456.4 892.1 C457.1 887.4 457.6 879.2 458.2 879.2 C458.9 879.2 459.5 885.6 460.3 892.1 C461.1 898.5 461.9 910.6 462.9 917.9 C463.8 925.2 464.9 934.6 466.0 935.9 C467.0 937.2 468.2 931.6 469.3 925.6 C470.4 919.6 471.6 912.7 472.7 899.8 C473.7 886.9 474.8 863.3 475.8 848.2 C476.7 833.2 477.3 820.7 478.3 809.5 C479.4 798.4 481.0 788.0 482.2 781.2 C483.4 774.3 484.6 767.8 485.6 768.3 C486.6 768.7 487.3 774.7 488.1 783.7 C489.0 792.8 489.8 807.4 490.7 822.4 C491.7 837.5 492.7 859.8 493.8 874.0 C495.0 888.2 496.4 897.2 497.7 907.6 C499.0 917.9 500.3 930.8 501.6 935.9 C502.8 941.1 504.1 935.5 505.4 938.5 C506.7 941.5 508.2 951.0 509.3 954.0 C510.4 957.0 510.8 957.9 511.9 956.6 C512.9 955.3 514.7 948.4 515.7 946.3 C516.8 944.1 517.2 942.4 518.3 943.7 C519.4 945.0 520.9 951.8 522.2 954.0 C523.5 956.1 524.8 954.4 526.1 956.6 C527.4 958.7 528.6 963.9 529.9 966.9 C531.2 969.9 532.5 974.6 533.8 974.6 C535.1 974.6 536.4 967.3 537.7 966.9 C539.0 966.5 540.0 972.1 541.5 972.1 C543.0 972.1 545.2 967.5 546.7 966.9 C548.2 966.2 549.1 968.8 550.6 968.2 C552.1 967.5 553.8 963.7 555.7 963.0 C557.7 962.4 560.2 964.5 562.2 964.3 C564.1 964.1 565.8 963.0 567.3 961.7 C568.8 960.4 569.7 958.5 571.2 956.6 C572.7 954.6 574.9 952.3 576.4 950.1 C577.9 948.0 579.2 947.8 580.2 943.7 C581.3 939.6 582.0 933.4 582.8 925.6 C583.7 917.9 584.5 899.8 585.4 897.2 C586.2 894.7 587.1 905.0 588.0 910.1 C588.8 915.3 589.7 926.0 590.5 928.2 C591.4 930.3 592.1 927.8 593.1 923.0 C594.1 918.3 595.4 909.3 596.5 899.8 C597.6 890.4 598.6 874.2 599.6 866.3 C600.5 858.3 601.3 852.1 602.2 852.1 C603.0 852.1 603.9 858.3 604.7 866.3 C605.6 874.2 606.5 889.9 607.3 899.8 C608.2 909.7 608.8 918.3 609.9 925.6 C611.0 932.9 612.5 938.1 613.8 943.7 C615.1 949.3 616.1 954.0 617.6 959.2 C619.1 964.3 621.1 970.3 622.8 974.6 C624.5 978.9 626.2 982.6 628.0 984.9 C629.7 987.3 631.4 988.2 633.1 988.8 C634.8 989.5 636.5 988.2 638.3 988.8 C640.0 989.5 641.7 992.3 643.4 992.7 C645.1 993.1 646.9 991.4 648.6 991.4 C650.3 991.4 652.0 991.8 653.7 992.7 C655.5 993.5 657.2 995.9 658.9 996.6 C660.6 997.2 662.2 996.1 664.1 996.6 C665.9 997.0 668.4 998.1 669.9 999.2 C671.4 1000.3 671.8 1003.3 673.2 1003.3 C674.5 1003.3 676.5 1000.1 678.1 999.2 C679.7 998.2 681.1 997.4 683.0 997.6 C684.9 997.7 687.6 1000.3 689.5 1000.0 C691.4 999.7 692.8 996.1 694.4 995.9 C696.1 995.8 697.4 998.1 699.4 999.2 C701.3 1000.3 703.7 1001.4 705.9 1002.5 C708.1 1003.6 710.3 1005.9 712.4 1005.7 C714.6 1005.6 716.5 1002.7 719.0 1001.6 C721.4 1000.6 724.4 1000.4 727.2 999.2 C729.9 998.0 732.9 995.9 735.3 994.3 C737.8 992.7 740.0 990.9 741.9 989.4 C743.8 987.9 744.9 986.4 746.8 985.3 C748.7 984.2 751.3 984.5 753.3 982.8 C755.4 981.2 756.9 977.1 759.1 975.5 C761.2 973.8 764.6 973.7 766.4 973.0 C768.2 972.3 768.5 973.3 769.7 971.4 C770.9 969.5 772.0 962.5 773.8 961.6 C775.6 960.6 778.1 966.8 780.3 965.7 C782.5 964.6 785.0 956.0 786.9 955.0 C788.8 954.1 790.3 959.9 791.8 959.9 C793.3 959.9 794.1 956.3 795.9 955.0 C797.6 953.8 800.2 953.3 802.4 952.6 C804.6 951.9 807.0 950.9 808.9 950.9 C810.9 950.9 812.5 952.6 813.9 952.6 C815.2 952.6 815.6 950.8 817.1 950.9 C818.6 951.1 820.7 953.1 822.9 953.4 C825.0 953.7 827.6 951.8 830.2 952.6 C832.8 953.4 836.3 958.2 838.4 958.3 C840.4 958.4 841.1 953.4 842.5 953.4 C843.8 953.4 845.2 956.4 846.6 958.3 C847.9 960.2 848.8 964.3 850.7 964.8 C852.6 965.4 855.8 960.6 858.0 961.6 C860.2 962.5 862.1 969.2 863.7 970.6 C865.4 971.9 866.5 970.0 867.8 969.8 C869.2 969.5 870.6 968.0 871.9 968.9 C873.3 969.9 874.5 974.1 876.0 975.5 C877.5 976.8 879.3 976.6 880.9 977.1 C882.6 977.7 884.2 977.0 885.8 978.7 C887.5 980.5 888.8 987.1 890.7 987.7 C892.6 988.4 895.4 982.0 897.3 982.8 C899.2 983.7 900.6 990.7 902.2 992.7 C903.8 994.6 905.5 995.7 907.1 994.3 C908.7 992.9 910.4 983.7 912.0 984.5 C913.6 985.3 915.3 997.6 916.9 999.2 C918.5 1000.8 920.2 995.7 921.8 994.3 C923.5 992.9 925.2 989.9 926.7 991.0 C928.2 992.1 929.5 1000.0 930.8 1000.8 C932.2 1001.6 933.5 997.0 934.9 995.9 C936.3 994.8 938.3 994.6 939.0 994.3" fill="none" stroke="#780000" stroke-width="3.6" stroke-linejoin="round"/>
<line x1="623.9" y1="550.1" x2="663.8" y2="550.1" stroke="#8b302c" stroke-width="4" stroke-linecap="round"/>
<line x1="623.9" y1="609" x2="663.5" y2="609" stroke="#ff8000" stroke-width="4" stroke-linecap="round" stroke-dasharray="1.8 5.75"/>
<line x1="626" y1="665.6" x2="665.6" y2="665.6" stroke="#008000" stroke-width="4" stroke-linecap="round" stroke-dasharray="1.8 5.75"/>
<text x="677.88" y="558.20" font-size="30" fill="#231f20" textLength="244.77" lengthAdjust="spacingAndGlyphs">after heating to 45</text>
<text x="922.23" y="540.00" font-size="16" fill="#231f20" textLength="9.73" lengthAdjust="spacingAndGlyphs">o</text>
<text x="929.96" y="558.20" font-size="30" fill="#231f20" textLength="25.20" lengthAdjust="spacingAndGlyphs">C</text>
<text x="677.88" y="616.40" font-size="30" fill="#231f20" textLength="347.62" lengthAdjust="spacingAndGlyphs">after Li stripping, Region I</text>
<text x="677.88" y="674.10" font-size="30" fill="#231f20" textLength="356.25" lengthAdjust="spacingAndGlyphs">after Li stripping, Region II</text>
<text x="2.41" y="1137.70" font-size="38" fill="#231f20" font-weight="bold" textLength="22.39" lengthAdjust="spacingAndGlyphs">c</text>
<path d="M78.6 1158.3 V1655.5 H942.0" fill="none" stroke="#000" stroke-width="3.3" stroke-linecap="square"/>
<line x1="123.3" y1="1655.5" x2="123.3" y2="1663.5" stroke="#000" stroke-width="3.3"/>
<line x1="197.5" y1="1655.5" x2="197.5" y2="1667.5" stroke="#000" stroke-width="3.3"/>
<line x1="271.7" y1="1655.5" x2="271.7" y2="1663.5" stroke="#000" stroke-width="3.3"/>
<line x1="345.9" y1="1655.5" x2="345.9" y2="1667.5" stroke="#000" stroke-width="3.3"/>
<line x1="420.1" y1="1655.5" x2="420.1" y2="1663.5" stroke="#000" stroke-width="3.3"/>
<line x1="494.3" y1="1655.5" x2="494.3" y2="1667.5" stroke="#000" stroke-width="3.3"/>
<line x1="568.5" y1="1655.5" x2="568.5" y2="1663.5" stroke="#000" stroke-width="3.3"/>
<line x1="642.7" y1="1655.5" x2="642.7" y2="1667.5" stroke="#000" stroke-width="3.3"/>
<line x1="716.9" y1="1655.5" x2="716.9" y2="1663.5" stroke="#000" stroke-width="3.3"/>
<line x1="791.1" y1="1655.5" x2="791.1" y2="1667.5" stroke="#000" stroke-width="3.3"/>
<line x1="865.3" y1="1655.5" x2="865.3" y2="1663.5" stroke="#000" stroke-width="3.3"/>
<line x1="939.5" y1="1655.5" x2="939.5" y2="1667.5" stroke="#000" stroke-width="3.3"/>
<line x1="78.6" y1="1159.0" x2="72.6" y2="1159.0" stroke="#000" stroke-width="3.3"/>
<line x1="78.6" y1="1227.7" x2="67.6" y2="1227.7" stroke="#000" stroke-width="3.3"/>
<line x1="78.6" y1="1296.4" x2="72.6" y2="1296.4" stroke="#000" stroke-width="3.3"/>
<line x1="78.6" y1="1365.1" x2="67.6" y2="1365.1" stroke="#000" stroke-width="3.3"/>
<line x1="78.6" y1="1433.8" x2="72.6" y2="1433.8" stroke="#000" stroke-width="3.3"/>
<line x1="78.6" y1="1502.5" x2="67.6" y2="1502.5" stroke="#000" stroke-width="3.3"/>
<line x1="78.6" y1="1571.2" x2="72.6" y2="1571.2" stroke="#000" stroke-width="3.3"/>
<line x1="78.6" y1="1639.9" x2="67.6" y2="1639.9" stroke="#000" stroke-width="3.3"/>
<text x="171.90" y="1699.60" font-size="31" fill="#231f20">800</text>
<text x="311.15" y="1699.60" font-size="31" fill="#231f20">1000</text>
<text x="459.55" y="1699.60" font-size="31" fill="#231f20">1200</text>
<text x="607.95" y="1699.60" font-size="31" fill="#231f20">1400</text>
<text x="756.35" y="1699.60" font-size="31" fill="#231f20">1600</text>
<text x="904.75" y="1699.60" font-size="31" fill="#231f20">1800</text>
<text x="394.60" y="1732.20" font-size="30.5" fill="#231f20" textLength="238.52" lengthAdjust="spacingAndGlyphs">Wavenumber (cm</text>
<text x="631.98" y="1719.10" font-size="13" fill="#231f20" textLength="13.80" lengthAdjust="spacingAndGlyphs">-1</text>
<text x="649.81" y="1732.20" font-size="30.5" fill="#231f20" textLength="9.53" lengthAdjust="spacingAndGlyphs">)</text>
<text transform="translate(23.40 1624.90) rotate(-90)" x="-0.10" y="0" font-size="31" fill="#231f20" textLength="448.34" lengthAdjust="spacingAndGlyphs">ATR-FTIR absorption (arb. units)</text>
<path d="M78.9 1542.1 C79.3 1534.8 80.6 1512.0 81.4 1498.2 C82.3 1484.5 83.2 1470.5 84.0 1459.5 C84.9 1448.6 85.7 1434.6 86.6 1432.5 C87.5 1430.3 88.3 1435.7 89.2 1446.6 C90.0 1457.6 90.9 1481.0 91.8 1498.2 C92.6 1515.4 93.5 1534.8 94.3 1549.8 C95.2 1564.9 95.9 1578.2 96.9 1588.5 C98.0 1598.8 99.3 1605.3 100.8 1611.7 C102.3 1618.2 103.8 1623.3 106.0 1627.2 C108.1 1631.1 110.7 1633.0 113.7 1634.9 C116.7 1636.9 120.6 1638.4 124.0 1638.8 C127.5 1639.2 131.3 1638.6 134.3 1637.5 C137.3 1636.5 139.9 1636.2 142.1 1632.4 C144.2 1628.5 145.7 1620.8 147.2 1614.3 C148.7 1607.9 150.0 1604.4 151.1 1593.7 C152.2 1582.9 152.8 1564.9 153.7 1549.8 C154.5 1534.8 155.5 1509.0 156.3 1503.4 C157.0 1497.8 157.4 1504.3 158.1 1516.3 C158.7 1528.3 159.4 1558.0 160.1 1575.6 C160.9 1593.2 161.8 1612.2 162.7 1622.1 C163.6 1631.9 164.2 1631.7 165.3 1634.9 C166.4 1638.2 168.1 1641.8 169.2 1641.4 C170.2 1641.0 171.0 1638.2 171.7 1632.4 C172.5 1626.6 173.1 1607.4 173.8 1606.6 C174.5 1605.7 175.4 1622.5 176.1 1627.2 C176.8 1631.9 177.4 1634.5 178.2 1634.9 C179.0 1635.4 179.7 1635.4 180.8 1629.8 C181.8 1624.2 183.3 1613.5 184.6 1601.4 C185.9 1589.4 187.4 1572.6 188.5 1557.6 C189.6 1542.5 190.1 1526.6 191.1 1511.1 C192.0 1495.7 193.3 1469.0 194.2 1464.7 C195.0 1460.4 195.5 1473.3 196.2 1485.3 C197.0 1497.4 198.0 1519.7 198.8 1536.9 C199.7 1554.1 200.5 1574.8 201.4 1588.5 C202.3 1602.3 202.9 1612.8 204.0 1619.5 C205.1 1626.1 206.6 1627.2 207.8 1628.5 C209.1 1629.8 210.4 1628.7 211.7 1627.2 C213.0 1625.7 214.2 1623.3 215.6 1619.5 C217.0 1615.6 218.9 1604.4 220.2 1604.0 C221.5 1603.6 222.2 1613.0 223.3 1616.9 C224.5 1620.8 225.9 1626.4 227.2 1627.2 C228.5 1628.1 229.9 1628.5 231.1 1622.1 C232.3 1615.6 233.5 1598.4 234.4 1588.5 C235.4 1578.6 236.0 1570.0 236.7 1562.7 C237.5 1555.4 238.1 1543.8 238.8 1544.7 C239.5 1545.5 240.2 1557.1 240.9 1567.9 C241.5 1578.6 241.7 1599.3 242.7 1609.2 C243.6 1619.0 244.8 1622.9 246.5 1627.2 C248.3 1631.5 250.6 1632.4 253.0 1634.9 C255.4 1637.5 258.1 1640.3 260.7 1642.7 C263.3 1645.1 266.5 1648.3 268.5 1649.1 C270.4 1650.0 271.0 1649.4 272.3 1647.8 C273.6 1646.3 274.9 1640.5 276.2 1640.1 C277.5 1639.7 278.8 1644.4 280.1 1645.3 C281.4 1646.1 282.4 1646.1 283.9 1645.3 C285.4 1644.4 287.0 1643.1 289.1 1640.1 C291.2 1637.1 294.7 1633.7 296.8 1627.2 C299.0 1620.8 300.5 1614.3 302.0 1601.4 C303.5 1588.5 304.7 1572.2 305.9 1549.8 C307.0 1527.5 308.1 1475.9 309.0 1467.3 C309.8 1458.7 310.3 1483.2 311.0 1498.2 C311.8 1513.3 312.7 1546.6 313.6 1557.6 C314.5 1568.5 315.3 1558.9 316.2 1564.0 C317.0 1569.2 317.9 1578.0 318.8 1588.5 C319.6 1599.1 320.3 1618.6 321.3 1627.2 C322.4 1635.8 323.3 1637.5 325.2 1640.1 C327.1 1642.7 330.4 1642.7 333.0 1642.7 C335.5 1642.7 338.1 1642.3 340.7 1640.1 C343.3 1638.0 345.8 1635.4 348.4 1629.8 C351.0 1624.2 353.6 1617.8 356.2 1606.6 C358.7 1595.4 361.5 1580.8 363.9 1562.7 C366.3 1544.7 369.3 1509.8 370.4 1498.2 C371.4 1486.6 369.4 1503.8 370.0 1493.1 C370.6 1482.3 372.6 1454.4 373.9 1433.7 C375.2 1413.1 376.7 1388.6 377.7 1369.3 C378.8 1349.9 379.5 1334.0 380.3 1317.7 C381.2 1301.3 382.0 1282.4 382.9 1271.2 C383.8 1260.1 384.6 1254.5 385.5 1250.6 C386.3 1246.7 387.2 1246.3 388.1 1248.0 C388.9 1249.7 389.6 1253.2 390.6 1260.9 C391.7 1268.7 393.4 1286.7 394.5 1294.5 C395.6 1302.2 396.4 1297.0 397.1 1307.4 C397.8 1317.7 398.2 1337.4 398.9 1356.4 C399.5 1375.3 400.2 1402.8 401.0 1420.8 C401.7 1438.9 402.7 1453.5 403.5 1464.7 C404.4 1475.9 405.3 1483.6 406.1 1487.9 C406.9 1492.2 407.3 1496.1 408.2 1490.5 C409.0 1484.9 410.1 1468.1 411.3 1454.4 C412.4 1440.6 413.9 1419.3 415.1 1408.0 C416.4 1396.6 417.9 1386.0 419.0 1386.0 C420.1 1386.0 420.7 1400.4 421.6 1408.0 C422.5 1415.5 423.3 1428.2 424.2 1431.2 C425.0 1434.2 425.8 1427.9 426.7 1426.0 C427.7 1424.1 428.8 1419.6 429.8 1419.6 C430.9 1419.6 432.2 1429.2 433.2 1426.0 C434.2 1422.8 434.9 1414.0 435.8 1400.2 C436.6 1386.5 437.4 1363.7 438.4 1343.5 C439.3 1323.3 440.8 1292.7 441.7 1279.0 C442.7 1265.2 443.2 1260.1 444.0 1260.9 C444.8 1261.8 445.7 1272.5 446.6 1284.1 C447.5 1295.7 448.5 1316.8 449.4 1330.6 C450.4 1344.3 451.1 1356.4 452.0 1366.7 C453.0 1377.0 454.2 1387.5 455.1 1392.5 C456.1 1397.4 456.8 1398.9 457.7 1396.3 C458.6 1393.8 459.6 1381.9 460.3 1377.0 C461.0 1372.1 461.4 1363.7 462.1 1366.7 C462.7 1369.7 463.4 1381.7 464.2 1395.1 C464.9 1408.4 465.9 1435.0 466.7 1446.6 C467.6 1458.3 468.5 1466.9 469.3 1464.7 C470.2 1462.6 471.0 1449.7 471.9 1433.7 C472.8 1417.8 473.6 1395.1 474.5 1369.3 C475.3 1343.5 476.2 1304.8 477.0 1279.0 C477.9 1253.2 478.8 1230.8 479.6 1214.5 C480.5 1198.2 481.6 1186.8 482.2 1181.0 C482.9 1175.2 482.9 1177.5 483.5 1179.7 C484.1 1181.8 484.8 1181.6 485.6 1193.9 C486.3 1206.1 487.2 1230.4 488.1 1253.2 C489.1 1276.0 490.3 1309.1 491.2 1330.6 C492.2 1352.1 492.9 1365.0 493.8 1382.2 C494.8 1399.4 495.8 1417.4 496.9 1433.7 C498.0 1450.1 499.1 1468.6 500.3 1480.2 C501.5 1491.8 503.0 1499.1 504.1 1503.4 C505.3 1507.7 506.2 1507.3 507.2 1506.0 C508.3 1504.7 509.6 1494.8 510.6 1495.7 C511.6 1496.5 512.2 1504.7 513.2 1511.1 C514.2 1517.6 515.4 1532.2 516.5 1534.3 C517.6 1536.5 518.7 1526.2 519.6 1524.0 C520.6 1521.9 521.3 1519.3 522.2 1521.4 C523.1 1523.6 523.8 1530.9 524.8 1536.9 C525.7 1542.9 526.8 1549.0 527.9 1557.6 C528.9 1566.2 530.0 1579.9 531.2 1588.5 C532.4 1597.1 533.9 1604.9 535.1 1609.2 C536.2 1613.5 537.1 1615.6 538.2 1614.3 C539.3 1613.0 540.5 1601.4 541.5 1601.4 C542.5 1601.4 543.0 1609.2 544.1 1614.3 C545.2 1619.5 546.7 1628.9 548.0 1632.4 C549.3 1635.8 550.6 1635.4 551.9 1634.9 C553.1 1634.5 554.3 1631.9 555.7 1629.8 C557.1 1627.6 559.1 1622.7 560.4 1622.1 C561.7 1621.4 562.1 1625.9 563.5 1625.9 C564.8 1625.9 566.9 1625.7 568.6 1622.1 C570.3 1618.4 572.3 1611.7 573.8 1604.0 C575.3 1596.3 576.4 1588.9 577.7 1575.6 C578.9 1562.3 580.2 1543.4 581.5 1524.0 C582.8 1504.7 584.2 1476.7 585.4 1459.5 C586.6 1442.3 587.9 1427.7 588.7 1420.8 C589.6 1414.0 589.9 1414.0 590.5 1418.3 C591.2 1422.6 591.9 1435.5 592.6 1446.6 C593.3 1457.8 594.1 1477.2 594.9 1485.3 C595.8 1493.5 596.7 1500.0 597.5 1495.7 C598.4 1491.4 599.2 1475.0 600.1 1459.5 C601.0 1444.1 602.1 1418.7 602.9 1402.8 C603.8 1386.9 604.5 1367.5 605.3 1364.1 C606.0 1360.7 606.5 1370.5 607.3 1382.2 C608.1 1393.8 608.9 1416.5 609.9 1433.7 C610.8 1450.9 611.9 1468.1 613.0 1485.3 C614.1 1502.5 615.4 1519.7 616.3 1536.9 C617.3 1554.1 617.9 1573.9 618.9 1588.5 C619.9 1603.1 621.0 1616.0 622.3 1624.6 C623.6 1633.2 624.9 1636.7 626.7 1640.1 C628.5 1643.5 630.7 1644.2 633.1 1645.3 C635.5 1646.3 638.3 1646.8 640.8 1646.6 C643.4 1646.3 645.6 1644.2 648.6 1644.0 C651.6 1643.8 655.9 1645.5 658.9 1645.3 C661.9 1645.1 664.0 1643.2 666.6 1642.7 C669.3 1642.2 672.4 1642.5 674.8 1642.5 C677.3 1642.5 679.6 1643.3 681.4 1642.8 C683.1 1642.3 684.1 1642.0 685.4 1639.5 C686.8 1637.1 687.8 1629.4 689.2 1628.1 C690.6 1626.7 692.3 1630.0 693.6 1631.4 C694.9 1632.7 695.9 1636.3 696.9 1636.3 C697.9 1636.3 698.5 1633.5 699.4 1631.4 C700.2 1629.2 700.9 1624.1 701.8 1623.2 C702.8 1622.2 704.1 1625.1 705.1 1625.6 C706.1 1626.2 707.0 1624.7 707.9 1626.4 C708.7 1628.2 709.2 1633.7 710.0 1636.3 C710.7 1638.9 710.9 1640.6 712.4 1642.0 C713.9 1643.3 716.0 1644.2 719.0 1644.4 C722.0 1644.7 725.8 1644.0 730.4 1643.6 C735.1 1643.2 741.3 1642.5 746.8 1642.0 C752.2 1641.4 757.7 1640.8 763.1 1640.4 C768.6 1639.9 774.1 1639.8 779.5 1639.5 C785.0 1639.3 790.4 1639.0 795.9 1638.7 C801.3 1638.4 806.8 1638.1 812.2 1637.9 C817.7 1637.7 823.1 1637.7 828.6 1637.6 C834.0 1637.4 839.5 1637.2 844.9 1637.1 C850.4 1637.0 855.8 1637.0 861.3 1637.1 C866.7 1637.2 872.2 1637.4 877.7 1637.6 C883.1 1637.8 888.6 1638.0 894.0 1638.2 C899.5 1638.4 904.9 1638.5 910.4 1638.7 C915.8 1638.9 921.5 1639.2 926.7 1639.5 C931.9 1639.9 939.0 1640.6 941.4 1640.8" fill="none" stroke="#780000" stroke-width="3.6" stroke-linejoin="round"/>
<path d="M78.9 1531.8 C79.3 1526.2 80.4 1507.7 81.4 1498.2 C82.5 1488.8 84.3 1480.2 85.3 1475.0 C86.3 1469.9 86.6 1465.6 87.4 1467.3 C88.2 1469.0 89.0 1473.7 90.0 1485.3 C90.9 1496.9 92.1 1521.9 93.1 1536.9 C94.0 1552.0 94.6 1564.0 95.6 1575.6 C96.7 1587.2 97.8 1598.0 99.5 1606.6 C101.2 1615.2 103.6 1622.5 106.0 1627.2 C108.3 1631.9 110.7 1633.2 113.7 1634.9 C116.7 1636.7 120.6 1637.3 124.0 1637.5 C127.5 1637.7 131.5 1637.5 134.3 1636.2 C137.1 1634.9 138.8 1633.9 140.8 1629.8 C142.7 1625.7 144.2 1618.6 145.9 1611.7 C147.7 1604.9 149.8 1597.5 151.1 1588.5 C152.4 1579.5 152.8 1567.9 153.7 1557.6 C154.5 1547.2 155.4 1526.6 156.3 1526.6 C157.1 1526.6 158.0 1542.9 158.8 1557.6 C159.7 1572.2 160.6 1601.4 161.4 1614.3 C162.3 1627.2 162.9 1630.4 164.0 1634.9 C165.1 1639.5 166.7 1641.4 167.9 1641.4 C169.1 1641.4 170.4 1637.7 171.2 1634.9 C172.1 1632.2 172.2 1626.4 173.0 1624.6 C173.8 1622.9 175.0 1624.6 176.1 1624.6 C177.2 1624.6 178.3 1628.5 179.5 1624.6 C180.7 1620.8 182.0 1611.7 183.3 1601.4 C184.6 1591.1 185.9 1575.6 187.2 1562.7 C188.5 1549.8 190.0 1535.2 191.1 1524.0 C192.2 1512.9 192.8 1495.7 193.7 1495.7 C194.5 1495.7 195.4 1512.9 196.2 1524.0 C197.1 1535.2 197.7 1550.3 198.8 1562.7 C199.9 1575.2 201.4 1590.2 202.7 1598.8 C204.0 1607.4 205.3 1612.2 206.6 1614.3 C207.8 1616.5 209.1 1615.2 210.4 1611.7 C211.7 1608.3 213.0 1599.3 214.3 1593.7 C215.6 1588.1 216.9 1581.6 218.2 1578.2 C219.5 1574.8 220.5 1574.3 222.0 1573.0 C223.5 1571.8 225.5 1573.0 227.2 1570.5 C228.9 1567.9 230.8 1561.9 232.4 1557.6 C233.9 1553.3 235.1 1549.0 236.2 1544.7 C237.3 1540.4 237.9 1531.8 238.8 1531.8 C239.7 1531.8 240.3 1539.5 241.4 1544.7 C242.5 1549.8 243.7 1557.6 245.2 1562.7 C246.8 1567.9 248.7 1571.3 250.4 1575.6 C252.1 1579.9 253.8 1583.8 255.6 1588.5 C257.3 1593.2 259.0 1598.8 260.7 1604.0 C262.4 1609.2 264.2 1616.0 265.9 1619.5 C267.6 1622.9 269.3 1623.8 271.0 1624.6 C272.8 1625.5 274.7 1623.3 276.2 1624.6 C277.7 1625.9 279.0 1629.1 280.1 1632.4 C281.1 1635.6 281.1 1642.0 282.7 1644.0 C284.2 1645.9 286.7 1645.9 289.1 1644.0 C291.5 1642.0 294.7 1638.2 296.8 1632.4 C299.0 1626.6 300.5 1620.8 302.0 1609.2 C303.5 1597.5 304.8 1574.8 305.9 1562.7 C306.9 1550.7 307.6 1538.6 308.4 1536.9 C309.3 1535.2 310.2 1544.7 311.0 1552.4 C311.9 1560.1 312.6 1573.9 313.6 1583.4 C314.6 1592.8 315.9 1601.0 317.0 1609.2 C318.0 1617.3 318.7 1626.8 320.1 1632.4 C321.4 1638.0 323.1 1640.5 325.2 1642.7 C327.4 1644.8 330.4 1644.8 333.0 1645.3 C335.5 1645.7 338.1 1646.1 340.7 1645.3 C343.3 1644.4 345.8 1644.0 348.4 1640.1 C351.0 1636.2 353.6 1631.5 356.2 1622.1 C358.7 1612.6 361.5 1599.3 363.9 1583.4 C366.3 1567.5 369.3 1530.5 370.4 1526.6 C371.4 1522.7 369.6 1560.6 370.0 1560.1 C370.4 1559.7 371.7 1540.8 372.6 1524.0 C373.4 1507.3 374.3 1481.0 375.2 1459.5 C376.0 1438.0 376.7 1420.8 377.7 1395.1 C378.8 1369.3 380.3 1327.6 381.6 1304.8 C382.9 1282.0 384.3 1269.1 385.5 1258.3 C386.6 1247.6 387.5 1240.7 388.6 1240.3 C389.6 1239.9 390.7 1246.7 391.9 1255.8 C393.1 1264.8 394.7 1282.0 395.8 1294.5 C396.9 1306.9 397.6 1315.9 398.4 1330.6 C399.1 1345.2 399.7 1365.0 400.4 1382.2 C401.2 1399.4 402.1 1420.8 403.0 1433.7 C404.0 1446.6 405.0 1456.5 406.1 1459.5 C407.3 1462.6 408.7 1455.2 410.0 1451.8 C411.3 1448.4 412.6 1442.8 413.9 1438.9 C415.1 1435.0 416.4 1429.0 417.7 1428.6 C419.0 1428.2 420.4 1432.7 421.6 1436.3 C422.8 1440.0 423.6 1450.1 424.7 1450.5 C425.8 1450.9 426.8 1441.7 428.0 1438.9 C429.2 1436.1 430.6 1438.9 431.9 1433.7 C433.2 1428.6 434.6 1423.0 435.8 1408.0 C437.0 1392.9 438.1 1360.7 439.1 1343.5 C440.1 1326.3 440.9 1314.2 441.7 1304.8 C442.5 1295.3 443.2 1285.9 444.0 1286.7 C444.8 1287.6 445.6 1299.2 446.6 1309.9 C447.6 1320.7 449.0 1340.0 450.0 1351.2 C451.0 1362.4 451.6 1370.5 452.5 1377.0 C453.5 1383.4 454.6 1388.2 455.6 1389.9 C456.7 1391.6 458.0 1386.0 459.0 1387.3 C460.0 1388.6 460.7 1389.9 461.6 1397.6 C462.4 1405.4 463.3 1422.1 464.2 1433.7 C465.0 1445.4 465.9 1460.0 466.7 1467.3 C467.6 1474.6 468.3 1481.0 469.3 1477.6 C470.3 1474.2 471.6 1462.6 472.7 1446.6 C473.7 1430.7 474.8 1408.0 475.8 1382.2 C476.7 1356.4 477.4 1319.8 478.3 1291.9 C479.3 1263.9 480.4 1231.7 481.4 1214.5 C482.5 1197.3 483.8 1194.3 484.8 1188.7 C485.8 1183.1 486.5 1178.8 487.4 1181.0 C488.2 1183.1 489.1 1189.6 489.9 1201.6 C490.8 1213.6 491.6 1236.0 492.5 1253.2 C493.5 1270.4 494.5 1285.4 495.6 1304.8 C496.7 1324.1 497.9 1349.9 499.0 1369.3 C500.1 1388.6 501.0 1408.0 502.1 1420.8 C503.1 1433.7 504.2 1440.2 505.4 1446.6 C506.6 1453.1 508.1 1454.0 509.3 1459.5 C510.5 1465.1 511.3 1472.4 512.4 1480.2 C513.5 1487.9 514.5 1501.2 515.7 1506.0 C516.9 1510.7 518.5 1507.7 519.6 1508.6 C520.8 1509.4 521.6 1507.3 522.7 1511.1 C523.8 1515.0 524.9 1524.0 526.1 1531.8 C527.2 1539.5 528.3 1548.1 529.4 1557.6 C530.6 1567.0 531.7 1579.5 533.0 1588.5 C534.3 1597.5 535.7 1607.4 537.2 1611.7 C538.6 1616.0 540.2 1613.0 541.5 1614.3 C542.9 1615.6 543.9 1617.8 545.4 1619.5 C546.9 1621.2 548.8 1624.2 550.6 1624.6 C552.3 1625.1 554.0 1623.1 555.7 1622.1 C557.4 1621.0 559.2 1619.5 560.9 1618.2 C562.6 1616.9 564.3 1616.7 566.0 1614.3 C567.8 1611.9 569.5 1610.9 571.2 1604.0 C572.9 1597.1 574.9 1584.2 576.4 1573.0 C577.9 1561.9 578.9 1550.7 580.2 1536.9 C581.5 1523.2 582.9 1504.3 584.1 1490.5 C585.3 1476.7 586.1 1464.7 587.2 1454.4 C588.3 1444.1 589.6 1427.7 590.5 1428.6 C591.5 1429.4 592.1 1450.9 593.1 1459.5 C594.1 1468.1 595.4 1480.2 596.5 1480.2 C597.6 1480.2 598.6 1469.4 599.6 1459.5 C600.5 1449.7 601.2 1432.9 602.2 1420.8 C603.1 1408.8 604.3 1390.3 605.3 1387.3 C606.2 1384.3 607.0 1392.9 607.8 1402.8 C608.7 1412.7 609.4 1430.7 610.4 1446.6 C611.4 1462.6 612.7 1480.6 613.8 1498.2 C614.8 1515.9 615.8 1535.6 616.9 1552.4 C617.9 1569.2 619.0 1586.4 620.2 1598.8 C621.4 1611.3 622.6 1620.3 624.1 1627.2 C625.6 1634.1 627.3 1637.3 629.2 1640.1 C631.2 1642.9 633.3 1643.5 635.7 1644.0 C638.1 1644.4 640.8 1643.1 643.4 1642.7 C646.0 1642.3 649.0 1641.6 651.2 1641.4 C653.3 1641.2 654.6 1642.0 656.3 1641.4 C658.0 1640.8 659.8 1640.8 661.5 1637.5 C663.2 1634.3 664.7 1625.8 666.6 1622.1 C668.6 1618.3 670.7 1617.0 673.2 1615.0 C675.6 1613.0 679.2 1610.6 681.4 1610.1 C683.5 1609.5 684.9 1611.7 686.3 1611.7 C687.6 1611.7 688.3 1609.0 689.5 1610.1 C690.8 1611.2 692.4 1616.1 693.6 1618.3 C694.9 1620.4 695.9 1624.3 696.9 1623.2 C697.9 1622.1 698.5 1614.9 699.4 1611.7 C700.2 1608.6 700.6 1604.9 701.8 1604.4 C703.0 1603.8 705.3 1605.0 706.7 1608.5 C708.1 1611.9 709.0 1619.9 710.0 1624.8 C710.9 1629.7 711.5 1634.9 712.4 1637.9 C713.4 1640.9 714.1 1641.7 715.7 1642.8 C717.3 1643.9 719.8 1643.6 722.3 1644.4 C724.7 1645.3 728.0 1647.0 730.4 1647.7 C732.9 1648.4 734.2 1649.1 737.0 1648.5 C739.7 1648.0 743.8 1645.7 746.8 1644.4 C749.8 1643.2 752.5 1643.1 755.0 1641.2 C757.4 1639.3 759.3 1635.2 761.5 1633.0 C763.7 1630.8 765.9 1629.3 768.1 1628.1 C770.2 1626.9 772.7 1625.6 774.6 1625.6 C776.5 1625.6 777.9 1626.3 779.5 1628.1 C781.1 1629.9 782.8 1633.8 784.4 1636.3 C786.0 1638.7 787.4 1642.0 789.3 1642.8 C791.2 1643.6 793.4 1641.7 795.9 1641.2 C798.3 1640.6 801.3 1639.5 804.0 1639.5 C806.8 1639.5 809.5 1640.9 812.2 1641.2 C814.9 1641.4 817.7 1641.4 820.4 1641.2 C823.1 1640.9 825.9 1640.1 828.6 1639.5 C831.3 1639.0 834.0 1638.3 836.8 1637.9 C839.5 1637.5 842.2 1637.9 844.9 1637.1 C847.7 1636.3 850.4 1635.0 853.1 1633.0 C855.8 1630.9 858.8 1627.5 861.3 1624.8 C863.7 1622.1 865.9 1620.2 867.8 1616.6 C869.7 1613.1 871.2 1609.8 872.7 1603.5 C874.2 1597.3 875.7 1587.2 876.8 1579.0 C877.9 1570.8 878.6 1564.0 879.3 1554.5 C880.0 1544.9 880.6 1531.3 881.2 1521.8 C881.9 1512.2 882.6 1504.6 883.4 1497.2 C884.1 1489.9 884.9 1482.0 885.8 1477.6 C886.8 1473.2 888.0 1470.8 889.1 1471.0 C890.2 1471.3 891.4 1474.9 892.4 1479.2 C893.3 1483.6 894.0 1490.1 894.8 1497.2 C895.6 1504.3 896.5 1513.6 897.3 1521.8 C898.0 1529.9 898.6 1538.1 899.2 1546.3 C899.8 1554.5 900.3 1562.7 900.9 1570.8 C901.5 1579.0 902.2 1588.0 903.0 1595.4 C903.8 1602.7 904.5 1609.5 905.5 1615.0 C906.4 1620.4 907.4 1624.8 908.7 1628.1 C910.1 1631.4 912.0 1633.3 913.6 1634.6 C915.3 1636.0 916.4 1636.1 918.5 1636.3 C920.7 1636.4 924.0 1635.3 926.7 1635.4 C929.5 1635.6 932.6 1636.7 934.9 1637.1 C937.2 1637.5 939.7 1637.8 940.6 1637.9" fill="none" stroke="#000" stroke-width="3.6" stroke-linejoin="round" stroke-dasharray="1.6 6.6" stroke-linecap="round"/>
<line x1="624.4" y1="1195.3" x2="663.3" y2="1195.3" stroke="#8b302c" stroke-width="4" stroke-linecap="round"/>
<line x1="624.4" y1="1258.9" x2="664" y2="1258.9" stroke="#000" stroke-width="4" stroke-linecap="round" stroke-dasharray="1.8 5.75"/>
<text x="675.08" y="1203.50" font-size="30" fill="#231f20" textLength="244.77" lengthAdjust="spacingAndGlyphs">after heating to 45</text>
<text x="919.43" y="1185.30" font-size="16" fill="#231f20" textLength="9.73" lengthAdjust="spacingAndGlyphs">o</text>
<text x="927.16" y="1203.50" font-size="30" fill="#231f20" textLength="25.20" lengthAdjust="spacingAndGlyphs">C</text>
<text x="675.88" y="1265.90" font-size="30" fill="#231f20" textLength="217.50" lengthAdjust="spacingAndGlyphs">after Li stripping</text>
<text x="987.91" y="467.70" font-size="38" fill="#231f20" font-weight="bold" textLength="24.54" lengthAdjust="spacingAndGlyphs">d</text>
<path d="M1068.2 517.3 V1655.5 H1952.0" fill="none" stroke="#000" stroke-width="3.3" stroke-linecap="square"/>
<line x1="1113.2" y1="1655.5" x2="1113.2" y2="1663.5" stroke="#000" stroke-width="3.3"/>
<line x1="1189.3" y1="1655.5" x2="1189.3" y2="1667.5" stroke="#000" stroke-width="3.3"/>
<line x1="1265.4" y1="1655.5" x2="1265.4" y2="1663.5" stroke="#000" stroke-width="3.3"/>
<line x1="1341.5" y1="1655.5" x2="1341.5" y2="1667.5" stroke="#000" stroke-width="3.3"/>
<line x1="1417.6" y1="1655.5" x2="1417.6" y2="1663.5" stroke="#000" stroke-width="3.3"/>
<line x1="1493.7" y1="1655.5" x2="1493.7" y2="1667.5" stroke="#000" stroke-width="3.3"/>
<line x1="1569.8" y1="1655.5" x2="1569.8" y2="1663.5" stroke="#000" stroke-width="3.3"/>
<line x1="1645.9" y1="1655.5" x2="1645.9" y2="1667.5" stroke="#000" stroke-width="3.3"/>
<line x1="1722.0" y1="1655.5" x2="1722.0" y2="1663.5" stroke="#000" stroke-width="3.3"/>
<line x1="1798.1" y1="1655.5" x2="1798.1" y2="1667.5" stroke="#000" stroke-width="3.3"/>
<line x1="1874.2" y1="1655.5" x2="1874.2" y2="1663.5" stroke="#000" stroke-width="3.3"/>
<line x1="1950.3" y1="1655.5" x2="1950.3" y2="1667.5" stroke="#000" stroke-width="3.3"/>
<line x1="1068.2" y1="620.9" x2="1062.2" y2="620.9" stroke="#000" stroke-width="3.3"/>
<line x1="1068.2" y1="823.6" x2="1057.2" y2="823.6" stroke="#000" stroke-width="3.3"/>
<line x1="1068.2" y1="1026.3" x2="1062.2" y2="1026.3" stroke="#000" stroke-width="3.3"/>
<line x1="1068.2" y1="1229.0" x2="1057.2" y2="1229.0" stroke="#000" stroke-width="3.3"/>
<line x1="1068.2" y1="1431.7" x2="1062.2" y2="1431.7" stroke="#000" stroke-width="3.3"/>
<line x1="1068.2" y1="1634.4" x2="1057.2" y2="1634.4" stroke="#000" stroke-width="3.3"/>
<text x="1163.90" y="1699.60" font-size="31" fill="#231f20">800</text>
<text x="1306.95" y="1699.60" font-size="31" fill="#231f20">1000</text>
<text x="1459.15" y="1699.60" font-size="31" fill="#231f20">1200</text>
<text x="1611.35" y="1699.60" font-size="31" fill="#231f20">1400</text>
<text x="1763.55" y="1699.60" font-size="31" fill="#231f20">1600</text>
<text x="1915.75" y="1699.60" font-size="31" fill="#231f20">1800</text>
<text x="1394.90" y="1732.20" font-size="30.5" fill="#231f20" textLength="238.52" lengthAdjust="spacingAndGlyphs">Wavenumber (cm</text>
<text x="1632.28" y="1719.10" font-size="13" fill="#231f20" textLength="13.80" lengthAdjust="spacingAndGlyphs">-1</text>
<text x="1650.11" y="1732.20" font-size="30.5" fill="#231f20" textLength="9.53" lengthAdjust="spacingAndGlyphs">)</text>
<text transform="translate(1034.80 1301.90) rotate(-90)" x="-2.01" y="0" font-size="30.3" fill="#231f20" textLength="451.09" lengthAdjust="spacingAndGlyphs">nano-FTIR absorption (arb. units)</text>
<path d="M1069.5 1188.9 L1071.5 1179.9 L1074.7 1180.8 L1078.0 1178.3 L1081.3 1183.2 L1083.7 1193.0 L1085.8 1205.3 L1087.8 1193.0 L1089.4 1186.5 L1091.1 1199.6 L1093.5 1209.4 L1095.2 1196.3 L1097.6 1191.4 L1100.1 1194.7 L1102.9 1193.8 L1106.6 1203.7 L1109.1 1196.3 L1112.3 1191.4 L1115.6 1195.5 L1118.9 1187.3 L1121.3 1193.0 L1123.0 1196.3 L1125.4 1189.8 L1128.7 1184.8 L1131.2 1191.4 L1133.6 1196.3 L1136.1 1189.8 L1138.5 1186.5 L1141.0 1183.2 L1142.6 1178.3 L1145.1 1174.2 L1147.5 1176.7 L1150.0 1183.2 L1152.4 1186.5 L1156.5 1189.8 L1159.0 1186.5 L1161.4 1184.8 L1164.7 1190.6 L1168.0 1185.7 L1171.2 1188.9 L1174.5 1189.8 L1177.8 1190.6 L1180.2 1186.5 L1182.7 1180.8 L1185.1 1183.2 L1187.6 1188.1 L1190.9 1192.2 L1194.1 1196.3 L1197.4 1200.4 L1200.7 1198.7 L1203.9 1197.1 L1208.0 1193.0 L1212.1 1193.0 L1215.4 1188.1 L1217.9 1191.4 L1220.3 1196.3 L1223.6 1192.2 L1226.8 1195.5 L1230.1 1197.9 L1233.4 1196.3 L1236.7 1197.9 L1239.9 1199.6 L1242.4 1198.7 L1244.8 1202.8 L1248.1 1200.4 L1253.0 1199.6 L1257.9 1198.7 L1262.8 1199.6 L1267.7 1199.6 L1271.0 1200.4 L1274.3 1202.0 L1279.2 1197.9 L1282.5 1199.6 L1285.7 1201.2 L1289.0 1197.1 L1292.3 1196.3 L1295.6 1190.6 L1298.8 1198.7 L1302.1 1200.4 L1305.4 1201.2 L1309.5 1199.6 L1313.5 1201.2 L1318.5 1194.7 L1321.7 1193.8 L1326.6 1193.8 L1331.5 1192.2 L1334.8 1193.8 L1338.1 1191.4 L1343.0 1190.6 L1347.9 1190.6 L1355.7 1186.0 L1359.4 1182.2 L1362.2 1183.2 L1365.1 1176.6 L1368.8 1174.7 L1372.6 1165.3 L1376.4 1155.9 L1379.2 1138.9 L1382.0 1121.9 L1384.9 1115.3 L1387.3 1116.3 L1389.6 1123.8 L1391.8 1138.9 L1394.3 1150.2 L1398.1 1157.7 L1400.9 1167.2 L1403.7 1170.0 L1406.5 1170.9 L1410.3 1173.8 L1414.1 1178.5 L1416.9 1181.3 L1420.7 1177.5 L1424.4 1178.5 L1427.3 1165.3 L1430.1 1148.3 L1432.9 1127.6 L1435.2 1116.3 L1437.2 1113.5 L1440.1 1116.3 L1443.3 1120.0 L1446.1 1127.6 L1448.9 1142.7 L1451.8 1151.1 L1454.6 1154.0 L1457.4 1161.5 L1461.2 1170.9 L1464.0 1176.6 L1466.5 1178.5 L1468.7 1170.9 L1472.1 1161.5 L1474.4 1146.4 L1476.6 1123.8 L1479.1 1101.2 L1481.9 1084.2 L1484.2 1076.7 L1486.6 1078.6 L1489.4 1093.7 L1492.3 1105.0 L1495.1 1118.2 L1497.9 1123.8 L1500.8 1135.1 L1503.6 1148.3 L1506.0 1156.8 L1509.8 1159.6 L1513.0 1163.4 L1515.8 1159.6 L1519.6 1155.9 L1523.0 1154.9 L1526.2 1159.6 L1529.0 1167.2 L1532.8 1174.7 L1536.6 1180.3 L1540.3 1183.2 L1545.0 1184.1 L1548.8 1186.9 L1551.6 1188.8 L1555.4 1187.9 L1559.2 1189.8 L1562.0 1186.0 L1565.8 1184.1 L1569.5 1174.7 L1574.2 1167.2 L1579.0 1154.0 L1582.7 1146.4 L1585.6 1143.6 L1588.4 1146.4 L1591.2 1150.2 L1595.0 1148.3 L1598.7 1145.5 L1602.1 1142.7 L1604.4 1146.4 L1607.2 1157.7 L1610.0 1167.2 L1613.8 1170.9 L1617.6 1176.6 L1621.4 1180.3 L1625.1 1183.2 L1628.9 1184.1 L1632.7 1186.0 L1636.4 1188.8 L1640.2 1188.8 L1650.5 1185.6 L1654.5 1189.4 L1659.5 1186.3 L1663.3 1189.4 L1668.0 1186.8 L1671.5 1189.2 L1676.4 1187.8 L1679.5 1189.9 L1682.9 1187.8 L1687.1 1191.6 L1691.2 1190.8 L1695.3 1196.6 L1699.8 1197.7 L1703.8 1202.8 L1707.0 1200.3 L1711.7 1202.2 L1716.6 1199.0 L1720.8 1200.6 L1723.9 1197.4 L1727.9 1199.1 L1731.2 1197.5 L1736.0 1200.4 L1739.7 1198.6 L1743.4 1202.2 L1747.3 1199.5 L1750.7 1201.0 L1755.2 1196.7 L1759.4 1197.1 L1762.6 1192.8 L1766.9 1193.1 L1770.0 1190.0 L1773.1 1190.5 L1777.3 1186.7 L1780.3 1189.2 L1783.8 1186.8 L1787.3 1189.1 L1791.2 1187.3 L1796.0 1188.5 L1800.3 1186.7 L1804.7 1188.9 L1808.3 1186.1 L1813.2 1189.1 L1817.3 1185.8 L1821.8 1188.4 L1825.2 1186.8 L1829.2 1189.4 L1833.2 1187.3 L1837.1 1190.8 L1840.8 1188.6 L1844.6 1193.2 L1848.4 1191.2 L1852.3 1192.6 L1857.2 1188.2 L1861.2 1190.9 L1864.3 1185.7 L1867.9 1189.2 L1872.3 1184.2 L1877.0 1188.4 L1881.8 1182.8 L1886.5 1186.3 L1891.2 1181.8 L1896.0 1188.6 L1900.7 1190.2 L1904.6 1199.3 L1908.2 1198.5 L1911.6 1203.9 L1915.1 1199.0 L1919.2 1204.8 L1924.1 1198.7 L1928.6 1199.0 L1933.0 1190.7 L1937.9 1197.4 L1942.7 1192.8 L1945.7 1200.7 L1949.3 1198.1" fill="none" stroke="#037a03" stroke-width="3.9" stroke-linejoin="round"/>
<path d="M1069.5 1112.9 L1071.1 1101.4 L1072.8 1096.5 L1074.7 1103.1 L1076.4 1109.6 L1078.8 1112.9 L1081.3 1116.1 L1084.5 1117.8 L1087.0 1117.8 L1089.1 1129.2 L1090.8 1135.0 L1092.7 1129.2 L1095.2 1122.7 L1097.3 1129.2 L1099.3 1132.5 L1101.7 1127.6 L1104.2 1124.3 L1107.4 1127.6 L1109.9 1126.0 L1113.2 1122.7 L1116.4 1125.1 L1118.9 1121.0 L1120.9 1116.1 L1123.0 1124.3 L1124.6 1126.8 L1127.1 1117.8 L1130.3 1117.0 L1132.8 1117.8 L1136.1 1116.1 L1138.5 1120.2 L1140.5 1109.6 L1143.1 1104.7 L1145.9 1108.0 L1149.1 1111.2 L1153.2 1113.7 L1156.5 1116.1 L1159.8 1111.2 L1163.1 1116.1 L1166.3 1114.5 L1168.8 1112.9 L1171.2 1117.8 L1174.5 1116.1 L1177.8 1116.1 L1180.2 1114.5 L1182.7 1108.0 L1185.1 1111.2 L1187.6 1116.1 L1190.9 1120.2 L1193.3 1124.3 L1195.8 1128.4 L1199.0 1125.1 L1201.5 1124.3 L1204.8 1129.2 L1207.2 1122.7 L1209.7 1121.9 L1212.9 1121.0 L1216.2 1119.4 L1219.5 1121.0 L1223.6 1121.0 L1226.8 1122.7 L1230.1 1126.8 L1233.4 1126.0 L1236.7 1126.8 L1240.8 1130.0 L1244.8 1127.6 L1248.1 1127.6 L1253.0 1126.8 L1257.9 1127.6 L1261.2 1126.0 L1266.1 1126.8 L1272.7 1130.0 L1279.2 1127.6 L1285.7 1129.2 L1289.0 1126.8 L1295.6 1126.0 L1302.1 1126.8 L1308.6 1128.4 L1313.5 1126.0 L1318.5 1124.3 L1325.0 1122.7 L1331.5 1121.9 L1336.4 1123.5 L1339.7 1119.4 L1346.3 1117.0 L1355.7 1118.2 L1359.4 1113.5 L1365.1 1109.7 L1368.8 1105.0 L1372.6 1097.4 L1376.4 1086.1 L1379.2 1072.9 L1381.7 1054.1 L1384.9 1046.6 L1387.7 1054.1 L1390.5 1065.4 L1394.3 1078.6 L1397.1 1088.0 L1399.9 1093.7 L1402.8 1101.2 L1406.5 1104.0 L1410.3 1104.0 L1414.1 1108.7 L1416.9 1110.6 L1420.7 1107.8 L1424.4 1108.7 L1428.2 1097.4 L1431.0 1088.0 L1433.9 1072.9 L1437.1 1060.7 L1439.5 1065.4 L1442.3 1067.3 L1445.2 1069.2 L1448.0 1076.7 L1450.8 1082.4 L1454.6 1084.2 L1457.4 1095.6 L1461.2 1103.1 L1464.9 1106.9 L1467.8 1105.0 L1470.6 1100.3 L1473.4 1093.7 L1476.3 1076.7 L1479.1 1048.4 L1481.9 1025.8 L1485.3 1013.6 L1488.5 1020.2 L1491.3 1033.4 L1494.2 1044.7 L1497.9 1052.2 L1500.8 1065.4 L1503.6 1080.5 L1506.4 1090.8 L1510.2 1091.8 L1513.9 1089.0 L1518.7 1085.2 L1521.9 1082.4 L1524.3 1088.0 L1528.1 1099.3 L1531.8 1108.7 L1536.6 1112.5 L1540.3 1113.5 L1545.0 1113.5 L1549.7 1115.3 L1554.5 1117.2 L1559.2 1117.2 L1564.8 1113.5 L1568.6 1108.7 L1573.3 1105.0 L1576.1 1093.7 L1579.9 1082.4 L1585.2 1076.7 L1588.4 1078.6 L1591.2 1081.4 L1595.0 1077.6 L1598.4 1071.1 L1600.6 1068.2 L1603.5 1072.9 L1606.3 1082.4 L1609.1 1091.8 L1612.9 1095.6 L1616.6 1101.2 L1619.5 1108.7 L1623.2 1110.6 L1628.0 1109.7 L1630.8 1115.3 L1634.5 1117.2 L1638.3 1116.3 L1650.5 1118.8 L1654.3 1121.7 L1658.2 1120.0 L1662.6 1122.7 L1666.0 1119.6 L1669.2 1121.8 L1673.1 1119.5 L1677.0 1122.4 L1681.2 1119.4 L1684.9 1121.4 L1689.8 1119.1 L1694.8 1123.1 L1699.1 1122.9 L1702.1 1126.9 L1707.1 1126.1 L1712.1 1131.7 L1716.6 1129.4 L1721.5 1131.1 L1726.5 1128.0 L1731.2 1131.5 L1734.8 1127.6 L1738.7 1131.6 L1743.6 1128.8 L1748.2 1131.6 L1752.3 1127.6 L1755.5 1128.8 L1758.9 1124.3 L1762.8 1124.3 L1766.3 1120.9 L1770.3 1121.4 L1773.7 1117.7 L1777.7 1119.7 L1781.5 1117.2 L1784.7 1119.5 L1789.2 1116.4 L1793.5 1118.1 L1797.7 1114.5 L1801.9 1117.2 L1805.3 1114.7 L1808.5 1117.0 L1811.7 1114.8 L1816.4 1116.7 L1820.6 1113.9 L1824.4 1116.4 L1829.0 1113.1 L1833.0 1115.2 L1836.5 1114.0 L1840.0 1117.7 L1843.4 1116.6 L1847.1 1119.8 L1851.8 1117.9 L1855.7 1120.3 L1859.8 1118.5 L1864.4 1122.9 L1867.6 1118.6 L1872.4 1121.5 L1876.5 1116.8 L1880.3 1119.3 L1884.3 1112.4 L1888.4 1116.9 L1891.7 1113.5 L1894.7 1122.6 L1898.2 1121.4 L1901.4 1129.1 L1904.5 1125.5 L1908.6 1132.1 L1913.4 1128.7 L1917.5 1135.1 L1922.5 1131.1 L1926.0 1135.3 L1930.2 1127.3 L1935.0 1132.9 L1939.5 1124.4 L1943.0 1129.0 L1947.6 1126.2 L1950.7 1136.4" fill="none" stroke="#037a03" stroke-width="3.9" stroke-linejoin="round"/>
<path d="M1069.5 1049.1 L1071.5 1040.9 L1074.7 1032.7 L1078.0 1036.0 L1080.4 1045.8 L1082.1 1058.9 L1083.7 1065.4 L1085.8 1060.5 L1087.5 1055.6 L1089.4 1058.9 L1091.1 1063.0 L1093.5 1054.0 L1096.0 1045.8 L1098.4 1049.1 L1100.9 1052.3 L1103.3 1054.0 L1106.6 1061.3 L1109.1 1055.6 L1111.5 1051.5 L1114.8 1055.6 L1117.3 1049.1 L1118.9 1044.2 L1121.3 1049.9 L1123.0 1052.3 L1125.4 1049.1 L1127.9 1048.3 L1131.2 1051.5 L1134.4 1049.9 L1139.3 1049.1 L1141.8 1042.5 L1145.1 1032.7 L1147.5 1037.6 L1149.6 1048.3 L1152.4 1048.3 L1154.9 1047.4 L1157.3 1051.5 L1160.6 1044.2 L1163.1 1048.3 L1165.5 1049.1 L1168.0 1044.2 L1170.4 1047.4 L1172.9 1051.5 L1176.1 1048.3 L1179.4 1047.4 L1181.9 1042.5 L1183.5 1040.1 L1186.0 1044.2 L1188.4 1050.7 L1190.9 1056.4 L1194.1 1058.1 L1197.4 1057.3 L1200.7 1056.4 L1203.9 1058.9 L1207.2 1054.0 L1210.5 1053.2 L1213.8 1049.9 L1217.0 1049.1 L1220.3 1053.2 L1223.6 1052.3 L1226.0 1049.9 L1228.5 1057.3 L1231.8 1057.3 L1235.0 1058.1 L1238.3 1061.3 L1241.6 1060.5 L1245.7 1057.3 L1249.8 1060.5 L1253.0 1056.4 L1256.3 1059.7 L1261.2 1058.1 L1266.1 1060.5 L1271.0 1060.5 L1274.3 1061.3 L1279.2 1058.1 L1282.5 1059.7 L1285.7 1061.3 L1289.0 1059.7 L1293.9 1058.1 L1297.2 1058.1 L1300.5 1054.8 L1303.7 1060.5 L1307.0 1058.9 L1311.9 1058.1 L1316.8 1058.1 L1321.7 1057.3 L1326.6 1056.4 L1331.5 1052.3 L1336.4 1054.8 L1339.7 1052.3 L1344.6 1050.7 L1355.7 1046.6 L1360.4 1041.8 L1364.1 1040.9 L1367.9 1034.3 L1371.7 1033.4 L1374.5 1023.9 L1377.3 1007.0 L1380.2 991.9 L1383.0 983.4 L1385.8 981.5 L1388.6 986.3 L1391.5 995.7 L1394.3 1008.9 L1397.1 1020.2 L1399.9 1025.8 L1403.7 1029.6 L1406.5 1033.4 L1410.3 1031.5 L1414.1 1038.1 L1417.8 1038.1 L1421.6 1040.0 L1425.0 1037.1 L1428.2 1025.8 L1431.0 1016.4 L1433.9 1003.2 L1437.1 990.0 L1440.1 995.7 L1443.3 998.5 L1446.1 1003.2 L1449.9 1007.9 L1453.6 1011.7 L1456.5 1016.4 L1459.3 1025.8 L1462.1 1030.5 L1465.3 1035.3 L1467.8 1031.5 L1470.6 1023.9 L1472.9 1010.8 L1475.3 991.9 L1478.1 969.3 L1481.9 954.2 L1485.7 946.7 L1488.5 952.3 L1491.3 965.5 L1494.2 973.1 L1497.9 984.4 L1500.8 995.7 L1503.6 1010.8 L1506.4 1019.2 L1510.2 1022.1 L1513.9 1020.2 L1517.7 1017.3 L1521.5 1018.3 L1525.3 1022.1 L1528.1 1029.6 L1530.9 1037.1 L1534.7 1042.8 L1538.4 1043.7 L1542.2 1045.6 L1546.9 1045.6 L1550.7 1048.4 L1555.4 1049.4 L1559.2 1048.4 L1563.9 1045.6 L1568.6 1039.0 L1573.3 1034.3 L1576.1 1023.9 L1579.9 1014.5 L1584.6 1010.8 L1588.4 1013.6 L1592.1 1008.9 L1595.0 1009.8 L1597.8 1005.1 L1601.0 998.5 L1603.5 1003.2 L1606.3 1014.5 L1610.0 1025.8 L1613.8 1029.6 L1617.6 1033.4 L1621.4 1040.9 L1625.1 1043.7 L1628.9 1048.4 L1632.7 1047.5 L1636.4 1049.4 L1640.2 1048.4 L1650.5 1046.4 L1653.9 1049.1 L1657.4 1046.9 L1661.0 1048.9 L1665.5 1046.5 L1669.7 1049.1 L1673.1 1047.3 L1677.7 1050.6 L1680.9 1049.4 L1685.6 1054.2 L1688.7 1052.5 L1692.3 1056.6 L1695.6 1054.6 L1699.7 1059.3 L1704.4 1057.6 L1708.8 1060.3 L1712.9 1056.7 L1716.7 1059.2 L1719.7 1054.9 L1724.3 1056.7 L1727.4 1054.3 L1731.3 1057.0 L1735.1 1054.4 L1739.3 1058.3 L1743.7 1055.9 L1747.1 1058.9 L1751.7 1055.9 L1755.9 1057.8 L1759.1 1054.4 L1763.1 1055.3 L1767.1 1050.9 L1771.1 1051.1 L1774.9 1048.6 L1779.8 1050.8 L1783.0 1047.4 L1787.2 1049.2 L1791.3 1045.7 L1795.3 1048.3 L1798.8 1044.9 L1803.7 1047.5 L1808.2 1044.2 L1812.3 1045.9 L1815.4 1043.0 L1819.7 1045.2 L1824.6 1041.5 L1828.4 1043.6 L1832.3 1042.3 L1836.0 1045.1 L1840.3 1044.2 L1844.4 1048.1 L1848.3 1046.0 L1853.2 1050.0 L1857.1 1048.7 L1860.5 1052.5 L1864.9 1050.9 L1868.8 1053.0 L1873.1 1049.1 L1876.8 1051.3 L1880.8 1045.3 L1885.6 1049.1 L1888.6 1042.4 L1892.9 1048.4 L1897.4 1049.4 L1901.7 1055.6 L1905.0 1052.7 L1908.8 1060.9 L1912.7 1056.8 L1917.6 1064.1 L1921.8 1056.3 L1926.8 1060.8 L1929.9 1053.3 L1934.2 1060.7 L1939.0 1053.5 L1942.9 1058.8 L1946.5 1046.1 L1950.9 1058.5" fill="none" stroke="#037a03" stroke-width="3.9" stroke-linejoin="round"/>
<path d="M1069.5 953.2 L1072.3 948.3 L1074.7 950.7 L1077.2 960.5 L1079.6 956.4 L1081.6 957.3 L1083.7 972.0 L1085.8 986.7 L1089.4 984.2 L1092.7 975.2 L1095.2 971.2 L1098.4 975.2 L1103.3 980.2 L1105.8 970.3 L1108.3 963.0 L1110.7 970.3 L1114.0 967.1 L1116.4 968.7 L1118.9 973.6 L1121.3 967.1 L1123.8 961.3 L1127.1 964.6 L1130.3 963.0 L1133.6 963.8 L1136.9 960.5 L1139.8 963.8 L1141.8 954.0 L1144.2 950.7 L1148.3 952.3 L1150.8 958.9 L1152.7 965.4 L1154.9 960.5 L1156.8 958.9 L1159.8 963.8 L1164.7 963.8 L1169.6 965.4 L1174.5 964.6 L1177.8 963.8 L1181.0 962.2 L1184.3 959.7 L1186.8 963.8 L1189.2 973.6 L1191.7 976.1 L1195.8 974.4 L1199.9 975.2 L1204.8 976.9 L1208.9 972.0 L1212.1 969.5 L1215.4 971.2 L1219.5 970.3 L1221.9 974.4 L1225.2 968.7 L1227.7 973.6 L1230.1 980.2 L1232.6 975.2 L1235.0 978.5 L1237.5 982.6 L1239.9 980.2 L1243.2 981.0 L1247.3 978.5 L1251.4 979.3 L1256.3 981.8 L1262.8 985.1 L1266.1 981.8 L1269.4 985.1 L1272.7 982.6 L1275.9 983.4 L1280.0 981.0 L1283.3 985.1 L1285.7 981.8 L1289.0 982.6 L1292.3 981.0 L1295.6 986.7 L1298.8 978.5 L1301.3 980.2 L1303.7 986.7 L1307.0 982.6 L1311.9 982.6 L1316.8 985.1 L1321.7 982.6 L1326.6 981.8 L1331.5 980.2 L1336.4 978.5 L1341.4 978.5 L1346.3 979.3 L1355.7 974.0 L1359.4 973.1 L1364.1 971.2 L1368.8 965.5 L1373.6 961.8 L1377.3 952.3 L1380.2 937.3 L1383.0 926.0 L1386.7 919.4 L1389.6 924.1 L1392.4 935.4 L1395.2 946.7 L1399.0 953.3 L1402.8 961.8 L1406.5 964.6 L1410.3 966.5 L1414.1 971.2 L1417.8 974.9 L1421.6 974.0 L1425.4 975.9 L1429.1 967.4 L1432.9 956.1 L1435.2 946.7 L1437.6 936.3 L1440.5 941.0 L1444.2 940.1 L1448.0 942.9 L1451.8 946.7 L1454.6 951.4 L1458.4 950.5 L1461.2 961.8 L1464.0 971.2 L1467.8 975.9 L1470.6 971.2 L1473.4 963.6 L1476.3 944.8 L1479.1 931.6 L1481.9 916.5 L1485.3 895.8 L1488.5 882.6 L1492.3 886.4 L1495.1 899.6 L1497.9 910.9 L1500.8 924.1 L1503.6 933.5 L1507.3 941.0 L1511.1 947.6 L1514.9 942.9 L1518.7 941.0 L1522.4 942.9 L1526.2 948.6 L1530.0 956.1 L1533.7 965.5 L1536.6 971.2 L1540.3 973.1 L1545.0 973.1 L1549.7 973.1 L1554.5 975.9 L1559.2 975.9 L1564.8 974.0 L1568.6 971.2 L1573.3 966.5 L1576.1 958.0 L1579.9 946.7 L1584.2 935.4 L1587.8 938.2 L1591.2 936.3 L1594.6 937.3 L1597.8 929.7 L1601.2 924.1 L1604.4 927.8 L1607.2 935.4 L1611.0 948.6 L1614.8 950.5 L1617.6 956.1 L1621.4 963.6 L1627.0 965.5 L1631.7 969.3 L1634.5 971.2 L1639.3 968.4 L1643.0 972.1 L1650.5 969.8 L1654.9 976.0 L1659.4 974.5 L1663.7 977.4 L1668.4 975.2 L1672.4 977.7 L1676.6 976.6 L1680.9 979.6 L1685.1 976.0 L1689.4 979.2 L1693.0 977.3 L1697.3 981.0 L1701.6 979.3 L1705.5 982.8 L1709.3 981.5 L1713.3 983.8 L1718.1 983.6 L1721.7 985.8 L1725.9 983.5 L1729.5 984.8 L1732.9 981.5 L1736.8 983.1 L1741.5 980.4 L1746.3 980.5 L1751.0 978.3 L1754.2 980.2 L1758.3 976.3 L1762.0 977.8 L1765.1 974.4 L1768.5 977.3 L1772.3 973.1 L1776.2 974.9 L1779.4 972.3 L1784.3 973.0 L1788.7 969.9 L1792.4 971.8 L1795.8 968.3 L1800.1 970.9 L1803.9 968.9 L1808.2 971.7 L1811.9 970.1 L1815.8 973.6 L1819.5 971.4 L1822.7 973.4 L1827.4 971.2 L1831.1 974.4 L1834.2 972.3 L1837.3 975.5 L1841.2 972.3 L1845.1 975.4 L1848.7 973.1 L1852.3 976.7 L1856.2 974.3 L1860.7 977.1 L1863.9 974.7 L1868.1 978.5 L1871.2 974.0 L1875.9 976.0 L1880.4 970.9 L1884.5 975.1 L1889.4 969.1 L1893.2 974.0 L1897.3 968.1 L1901.2 975.3 L1905.4 973.9 L1909.1 981.4 L1912.2 979.0 L1916.3 984.3 L1919.7 981.0 L1922.7 987.0 L1927.6 981.7 L1931.9 985.3 L1936.6 975.2 L1941.2 985.1 L1945.0 979.4 L1949.3 986.9" fill="none" stroke="#037a03" stroke-width="3.9" stroke-linejoin="round"/>
<path d="M1069.8 1612.0 L1073.1 1591.9 L1076.4 1566.8 L1079.3 1552.6 L1081.3 1566.8 L1083.2 1600.3 L1085.4 1618.8 L1088.6 1620.5 L1092.7 1625.4 L1095.2 1635.2 L1097.3 1638.5 L1100.9 1631.9 L1105.8 1633.5 L1109.1 1630.3 L1113.2 1636.8 L1116.4 1630.3 L1121.3 1627.0 L1125.4 1623.7 L1130.3 1620.5 L1135.2 1618.8 L1140.2 1620.5 L1143.4 1609.0 L1147.5 1595.9 L1150.8 1609.0 L1154.1 1620.5 L1158.1 1617.2 L1163.1 1619.6 L1168.0 1620.5 L1171.2 1625.4 L1174.5 1620.5 L1177.8 1622.1 L1181.0 1615.6 L1184.6 1618.8 L1186.8 1605.7 L1188.7 1591.0 L1190.9 1605.7 L1192.8 1625.4 L1195.8 1628.6 L1200.7 1631.1 L1207.2 1630.3 L1213.8 1627.8 L1220.3 1627.0 L1226.8 1628.6 L1230.1 1632.7 L1236.7 1633.5 L1243.2 1635.2 L1249.8 1633.5 L1256.3 1633.5 L1262.8 1634.4 L1267.7 1630.3 L1272.7 1633.5 L1279.2 1632.7 L1285.7 1632.7 L1292.3 1632.7 L1296.4 1631.9 L1299.6 1623.7 L1303.7 1634.4 L1308.6 1631.1 L1315.2 1630.3 L1321.7 1626.2 L1328.3 1623.7 L1331.5 1619.6 L1338.1 1624.5 L1344.6 1624.5 L1349.5 1625.4 L1365.8 1612.5 L1373.7 1608.5 L1377.6 1590.1 L1381.0 1569.1 L1385.5 1563.8 L1388.7 1558.6 L1391.5 1577.0 L1394.2 1598.0 L1397.3 1603.3 L1402.6 1609.8 L1407.8 1605.9 L1413.1 1609.8 L1417.0 1613.8 L1420.5 1603.3 L1424.1 1603.3 L1426.8 1577.0 L1429.4 1524.4 L1432.0 1471.8 L1434.7 1437.6 L1437.3 1435.0 L1440.7 1445.5 L1444.1 1471.8 L1447.3 1524.4 L1450.4 1563.8 L1453.9 1577.0 L1457.3 1566.5 L1459.9 1563.8 L1463.1 1582.2 L1467.0 1594.1 L1470.9 1584.9 L1474.9 1563.8 L1478.8 1537.5 L1482.3 1498.1 L1485.4 1471.8 L1487.5 1466.5 L1490.7 1492.8 L1494.1 1532.3 L1497.2 1540.2 L1500.4 1532.3 L1502.5 1529.7 L1505.1 1550.7 L1509.1 1558.6 L1513.0 1561.2 L1517.0 1579.6 L1522.2 1582.2 L1527.5 1587.5 L1532.7 1598.0 L1536.7 1600.6 L1541.9 1595.4 L1545.9 1598.0 L1549.8 1611.2 L1553.8 1613.8 L1557.7 1613.8 L1563.0 1608.5 L1566.9 1590.1 L1570.3 1584.9 L1574.8 1582.2 L1578.7 1561.2 L1581.4 1548.1 L1584.0 1542.8 L1586.6 1548.1 L1590.6 1561.2 L1594.5 1574.4 L1599.8 1582.2 L1605.0 1598.0 L1610.3 1605.9 L1615.6 1613.8 L1620.8 1621.7 L1627.4 1619.0 L1634.0 1623.0 L1639.2 1624.3 L1645.4 1621.4 L1648.9 1625.0 L1652.5 1617.0 L1657.0 1617.9 L1661.4 1614.3 L1666.8 1616.1 L1671.2 1615.2 L1675.7 1619.6 L1681.1 1621.4 L1686.4 1625.0 L1691.8 1626.8 L1697.1 1628.6 L1702.5 1625.0 L1707.9 1628.6 L1713.2 1633.0 L1716.8 1634.8 L1720.4 1630.4 L1724.8 1635.7 L1731.1 1631.2 L1736.4 1633.0 L1741.8 1630.4 L1747.1 1632.1 L1750.7 1636.6 L1755.2 1628.6 L1759.6 1632.1 L1765.0 1633.9 L1770.4 1630.4 L1777.5 1628.6 L1782.0 1623.2 L1786.4 1630.4 L1791.8 1627.7 L1797.1 1628.6 L1804.3 1628.6 L1810.5 1626.8 L1814.1 1620.5 L1818.6 1626.8 L1823.9 1624.1 L1827.5 1622.3 L1832.0 1627.7 L1836.4 1625.9 L1845.4 1625.9 L1852.5 1627.7 L1857.0 1625.0 L1861.4 1631.2 L1867.7 1620.5 L1872.1 1623.2 L1878.4 1630.4 L1883.8 1623.2 L1888.2 1625.0 L1893.6 1620.5 L1898.9 1625.0 L1904.3 1628.6 L1907.9 1628.6 L1911.4 1635.7 L1916.8 1632.1 L1922.1 1636.6 L1926.6 1626.8 L1931.1 1646.4 L1935.5 1628.6 L1940.0 1642.0 L1944.5 1633.9 L1948.0 1635.7 L1951.1 1626.8" fill="none" stroke="#ff8205" stroke-width="3.9" stroke-linejoin="round"/>
<path d="M1069.8 1524.1 L1073.1 1507.7 L1076.4 1487.1 L1079.3 1475.0 L1081.3 1487.0 L1083.2 1513.4 L1085.4 1531.2 L1088.6 1530.4 L1092.7 1535.1 L1095.2 1544.8 L1097.3 1550.2 L1100.9 1541.5 L1105.8 1543.8 L1109.1 1541.7 L1113.2 1549.6 L1116.4 1542.4 L1121.3 1535.9 L1125.4 1532.2 L1130.3 1529.6 L1135.2 1529.1 L1140.2 1532.1 L1143.4 1519.6 L1147.5 1506.0 L1150.8 1518.6 L1154.1 1531.2 L1158.1 1526.2 L1163.1 1528.9 L1168.0 1529.3 L1171.2 1536.1 L1174.5 1531.1 L1177.8 1532.7 L1181.0 1524.8 L1184.6 1528.5 L1186.8 1513.6 L1188.7 1500.1 L1190.9 1515.0 L1192.8 1537.0 L1195.8 1540.9 L1200.7 1541.2 L1207.2 1539.6 L1213.8 1537.6 L1220.3 1539.5 L1226.8 1540.8 L1230.1 1543.5 L1236.7 1546.0 L1243.2 1545.9 L1249.8 1546.4 L1256.3 1543.0 L1262.8 1546.8 L1267.7 1543.4 L1272.7 1544.5 L1279.2 1543.8 L1285.7 1542.3 L1292.3 1542.9 L1296.4 1541.9 L1299.6 1533.3 L1303.7 1543.8 L1308.6 1541.3 L1315.2 1539.5 L1321.7 1536.9 L1328.3 1533.8 L1331.5 1528.5 L1338.1 1537.0 L1344.6 1534.2 L1349.5 1536.1 L1365.8 1523.8 L1373.7 1519.3 L1377.6 1501.8 L1381.0 1479.3 L1385.5 1475.1 L1388.7 1466.5 L1391.5 1487.5 L1394.2 1506.8 L1397.3 1512.0 L1402.6 1520.3 L1407.8 1516.0 L1413.1 1518.4 L1417.0 1522.8 L1420.5 1511.0 L1424.1 1513.9 L1426.8 1484.0 L1429.4 1425.5 L1432.0 1369.8 L1434.7 1330.7 L1437.3 1328.8 L1440.7 1341.2 L1444.1 1371.7 L1447.3 1428.2 L1450.4 1469.5 L1453.9 1484.7 L1457.3 1471.1 L1459.9 1470.2 L1463.1 1491.4 L1467.0 1500.5 L1470.9 1494.0 L1474.9 1472.4 L1478.8 1444.7 L1482.3 1408.3 L1485.4 1383.1 L1487.5 1374.5 L1490.7 1401.0 L1494.1 1439.6 L1497.2 1447.5 L1500.4 1435.9 L1502.5 1434.4 L1505.1 1456.0 L1509.1 1465.2 L1513.0 1467.5 L1517.0 1488.0 L1522.2 1489.7 L1527.5 1495.1 L1532.7 1506.2 L1536.7 1508.8 L1541.9 1503.3 L1545.9 1506.3 L1549.8 1520.1 L1553.8 1521.8 L1557.7 1523.0 L1563.0 1519.7 L1566.9 1496.9 L1570.3 1494.2 L1574.8 1490.7 L1578.7 1466.2 L1581.4 1450.9 L1584.0 1448.1 L1586.6 1454.1 L1590.6 1465.6 L1594.5 1481.4 L1599.8 1490.3 L1605.0 1506.9 L1610.3 1513.2 L1615.6 1522.2 L1620.8 1532.9 L1627.4 1529.7 L1634.0 1534.1 L1639.2 1533.8 L1645.4 1533.4 L1648.9 1536.8 L1652.5 1526.8 L1657.0 1529.4 L1661.4 1523.1 L1666.8 1526.0 L1671.2 1525.0 L1675.7 1531.8 L1681.1 1533.6 L1686.4 1534.9 L1691.8 1538.7 L1697.1 1538.5 L1702.5 1537.2 L1707.9 1541.1 L1713.2 1545.1 L1716.8 1544.1 L1720.4 1540.5 L1724.8 1545.7 L1731.1 1542.3 L1736.4 1542.2 L1741.8 1539.4 L1747.1 1541.5 L1750.7 1549.7 L1755.2 1539.9 L1759.6 1544.9 L1765.0 1547.2 L1770.4 1541.7 L1777.5 1540.9 L1782.0 1533.3 L1786.4 1541.8 L1791.8 1537.0 L1797.1 1539.2 L1804.3 1537.6 L1810.5 1537.3 L1814.1 1533.0 L1818.6 1540.1 L1823.9 1535.9 L1827.5 1530.1 L1832.0 1541.3 L1836.4 1536.7 L1845.4 1537.6 L1852.5 1537.8 L1857.0 1537.4 L1861.4 1541.0 L1867.7 1527.8 L1872.1 1533.3 L1878.4 1538.9 L1883.8 1531.4 L1888.2 1533.0 L1893.6 1532.4 L1898.9 1537.1 L1904.3 1536.9 L1907.9 1541.1 L1911.4 1542.8 L1916.8 1547.5 L1922.1 1545.5 L1926.6 1537.6 L1931.1 1557.4 L1935.5 1543.1 L1940.0 1553.3 L1944.5 1541.6 L1948.0 1551.1 L1951.1 1538.4" fill="none" stroke="#ff8205" stroke-width="3.9" stroke-linejoin="round"/>
<path d="M1069.8 1440.0 L1073.1 1416.1 L1076.4 1383.6 L1079.3 1369.8 L1081.3 1384.1 L1083.2 1427.1 L1085.4 1451.7 L1088.6 1451.5 L1092.7 1459.1 L1095.2 1468.2 L1097.3 1470.7 L1100.9 1464.3 L1105.8 1465.8 L1109.1 1461.5 L1113.2 1471.0 L1116.4 1461.7 L1121.3 1460.9 L1125.4 1456.9 L1130.3 1449.9 L1135.2 1449.3 L1140.2 1451.9 L1143.4 1441.6 L1147.5 1425.4 L1150.8 1440.8 L1154.1 1451.4 L1158.1 1449.9 L1163.1 1453.1 L1168.0 1453.2 L1171.2 1455.7 L1174.5 1453.2 L1177.8 1453.4 L1181.0 1448.5 L1184.6 1450.2 L1186.8 1438.7 L1188.7 1423.9 L1190.9 1438.3 L1192.8 1458.5 L1195.8 1461.8 L1200.7 1463.3 L1207.2 1460.7 L1213.8 1461.7 L1220.3 1458.6 L1226.8 1458.3 L1230.1 1464.3 L1236.7 1465.1 L1243.2 1465.8 L1249.8 1467.5 L1256.3 1463.8 L1262.8 1468.1 L1267.7 1462.3 L1272.7 1464.0 L1279.2 1464.0 L1285.7 1464.4 L1292.3 1462.9 L1296.4 1464.9 L1299.6 1456.0 L1303.7 1468.4 L1308.6 1464.4 L1315.2 1463.4 L1321.7 1460.1 L1328.3 1457.3 L1331.5 1451.8 L1338.1 1456.4 L1344.6 1456.3 L1349.5 1458.4 L1365.8 1445.8 L1373.7 1442.0 L1377.6 1426.2 L1381.0 1404.8 L1385.5 1401.5 L1388.7 1395.6 L1391.5 1413.4 L1394.2 1431.5 L1397.3 1435.9 L1402.6 1442.6 L1407.8 1436.2 L1413.1 1442.1 L1417.0 1445.5 L1420.5 1433.1 L1424.1 1436.5 L1426.8 1405.4 L1429.4 1353.2 L1432.0 1299.5 L1434.7 1264.7 L1437.3 1263.7 L1440.7 1272.6 L1444.1 1301.1 L1447.3 1352.5 L1450.4 1393.8 L1453.9 1405.8 L1457.3 1397.2 L1459.9 1393.5 L1463.1 1414.0 L1467.0 1423.2 L1470.9 1415.3 L1474.9 1396.7 L1478.8 1369.1 L1482.3 1335.5 L1485.4 1311.0 L1487.5 1306.2 L1490.7 1329.5 L1494.1 1365.3 L1497.2 1373.9 L1500.4 1362.2 L1502.5 1360.6 L1505.1 1381.2 L1509.1 1389.5 L1513.0 1391.1 L1517.0 1407.9 L1522.2 1414.0 L1527.5 1417.2 L1532.7 1430.2 L1536.7 1433.8 L1541.9 1427.5 L1545.9 1428.5 L1549.8 1444.0 L1553.8 1444.7 L1557.7 1444.4 L1563.0 1440.1 L1566.9 1421.9 L1570.3 1417.1 L1574.8 1414.3 L1578.7 1393.0 L1581.4 1381.4 L1584.0 1374.5 L1586.6 1380.8 L1590.6 1391.2 L1594.5 1404.6 L1599.8 1414.9 L1605.0 1427.8 L1610.3 1436.7 L1615.6 1443.2 L1620.8 1454.4 L1627.4 1449.8 L1634.0 1452.6 L1639.2 1455.0 L1645.4 1454.9 L1648.9 1457.8 L1652.5 1446.2 L1657.0 1451.3 L1661.4 1443.8 L1666.8 1447.4 L1671.2 1446.7 L1675.7 1452.4 L1681.1 1451.4 L1686.4 1458.1 L1691.8 1457.5 L1697.1 1461.4 L1702.5 1458.6 L1707.9 1460.7 L1713.2 1462.7 L1716.8 1467.5 L1720.4 1461.9 L1724.8 1468.7 L1731.1 1464.4 L1736.4 1463.2 L1741.8 1462.5 L1747.1 1464.7 L1750.7 1470.5 L1755.2 1460.9 L1759.6 1464.5 L1765.0 1467.0 L1770.4 1460.7 L1777.5 1461.9 L1782.0 1455.2 L1786.4 1462.8 L1791.8 1457.9 L1797.1 1460.5 L1804.3 1459.9 L1810.5 1457.1 L1814.1 1454.3 L1818.6 1460.3 L1823.9 1455.5 L1827.5 1451.5 L1832.0 1462.2 L1836.4 1455.3 L1845.4 1457.6 L1852.5 1459.9 L1857.0 1459.1 L1861.4 1464.2 L1867.7 1452.9 L1872.1 1454.9 L1878.4 1465.9 L1883.8 1457.4 L1888.2 1455.5 L1893.6 1454.6 L1898.9 1460.6 L1904.3 1460.2 L1907.9 1456.6 L1911.4 1463.7 L1916.8 1468.5 L1922.1 1465.7 L1926.6 1461.6 L1931.1 1475.6 L1935.5 1457.5 L1940.0 1470.5 L1944.5 1469.2 L1948.0 1463.2 L1951.1 1458.2" fill="none" stroke="#ff8205" stroke-width="3.9" stroke-linejoin="round"/>
<path d="M1069.8 1358.8 L1073.1 1333.6 L1076.4 1300.3 L1079.3 1282.8 L1081.3 1297.2 L1083.2 1342.7 L1085.4 1365.8 L1088.6 1367.3 L1092.7 1375.8 L1095.2 1385.1 L1097.3 1391.8 L1100.9 1381.4 L1105.8 1384.2 L1109.1 1381.2 L1113.2 1389.0 L1116.4 1378.0 L1121.3 1377.2 L1125.4 1370.5 L1130.3 1367.7 L1135.2 1364.7 L1140.2 1368.9 L1143.4 1353.5 L1147.5 1337.9 L1150.8 1354.9 L1154.1 1368.1 L1158.1 1364.7 L1163.1 1367.5 L1168.0 1369.3 L1171.2 1376.0 L1174.5 1370.5 L1177.8 1370.7 L1181.0 1363.1 L1184.6 1366.9 L1186.8 1350.3 L1188.7 1334.7 L1190.9 1349.3 L1192.8 1376.2 L1195.8 1378.0 L1200.7 1382.1 L1207.2 1380.9 L1213.8 1375.3 L1220.3 1375.8 L1226.8 1377.6 L1230.1 1381.3 L1236.7 1385.0 L1243.2 1385.5 L1249.8 1384.6 L1256.3 1381.9 L1262.8 1386.8 L1267.7 1379.7 L1272.7 1385.4 L1279.2 1384.1 L1285.7 1381.2 L1292.3 1384.1 L1296.4 1382.9 L1299.6 1373.6 L1303.7 1386.1 L1308.6 1380.0 L1315.2 1380.4 L1321.7 1377.3 L1328.3 1371.1 L1331.5 1366.9 L1338.1 1373.1 L1344.6 1373.5 L1349.5 1375.4 L1365.8 1358.8 L1373.7 1356.8 L1377.6 1342.7 L1381.0 1322.9 L1385.5 1319.9 L1388.7 1314.1 L1391.5 1331.2 L1394.2 1347.4 L1397.3 1350.5 L1402.6 1357.3 L1407.8 1350.9 L1413.1 1355.2 L1417.0 1362.1 L1420.5 1348.8 L1424.1 1349.3 L1426.8 1314.9 L1429.4 1253.5 L1432.0 1193.4 L1434.7 1153.6 L1437.3 1147.8 L1440.7 1160.0 L1444.1 1192.5 L1447.3 1254.1 L1450.4 1301.4 L1453.9 1317.9 L1457.3 1306.0 L1459.9 1299.5 L1463.1 1322.0 L1467.0 1336.8 L1470.9 1324.6 L1474.9 1307.8 L1478.8 1294.4 L1482.3 1274.4 L1485.4 1257.0 L1487.5 1253.6 L1490.7 1266.5 L1494.1 1286.4 L1497.2 1287.6 L1500.4 1274.7 L1502.5 1267.9 L1505.1 1285.5 L1509.1 1295.8 L1513.0 1300.2 L1517.0 1318.9 L1522.2 1324.2 L1527.5 1327.2 L1532.7 1340.7 L1536.7 1343.8 L1541.9 1337.9 L1545.9 1344.0 L1549.8 1355.6 L1553.8 1358.4 L1557.7 1361.3 L1563.0 1354.4 L1566.9 1334.6 L1570.3 1330.0 L1574.8 1327.4 L1578.7 1308.4 L1581.4 1295.5 L1584.0 1290.4 L1586.6 1293.1 L1590.6 1308.0 L1594.5 1321.4 L1599.8 1323.9 L1605.0 1342.5 L1610.3 1351.1 L1615.6 1359.8 L1620.8 1369.1 L1627.4 1367.7 L1634.0 1370.0 L1639.2 1373.5 L1645.4 1368.0 L1648.9 1374.9 L1652.5 1363.9 L1657.0 1363.4 L1661.4 1360.9 L1666.8 1362.4 L1671.2 1361.9 L1675.7 1369.3 L1681.1 1368.0 L1686.4 1372.3 L1691.8 1378.0 L1697.1 1379.0 L1702.5 1374.2 L1707.9 1377.2 L1713.2 1382.8 L1716.8 1387.5 L1720.4 1380.7 L1724.8 1388.2 L1731.1 1380.3 L1736.4 1384.8 L1741.8 1382.2 L1747.1 1381.5 L1750.7 1385.7 L1755.2 1378.2 L1759.6 1381.0 L1765.0 1383.2 L1770.4 1380.2 L1777.5 1376.8 L1782.0 1369.7 L1786.4 1381.6 L1791.8 1377.6 L1797.1 1375.9 L1804.3 1376.5 L1810.5 1376.6 L1814.1 1368.6 L1818.6 1373.5 L1823.9 1373.8 L1827.5 1368.5 L1832.0 1378.2 L1836.4 1374.2 L1845.4 1377.4 L1852.5 1377.1 L1857.0 1373.4 L1861.4 1383.3 L1867.7 1368.5 L1872.1 1373.1 L1878.4 1380.0 L1883.8 1372.2 L1888.2 1377.6 L1893.6 1369.4 L1898.9 1372.2 L1904.3 1381.2 L1907.9 1377.8 L1911.4 1384.8 L1916.8 1383.2 L1922.1 1391.1 L1926.6 1374.4 L1931.1 1403.3 L1935.5 1379.4 L1940.0 1392.6 L1944.5 1383.1 L1948.0 1383.5 L1951.1 1370.7" fill="none" stroke="#ff8205" stroke-width="3.9" stroke-linejoin="round"/>
<path d="M1069.8 888.0 L1073.1 855.1 L1076.4 822.4 L1079.3 806.7 L1081.3 826.2 L1083.2 870.0 L1085.4 895.4 L1088.6 899.2 L1092.7 905.3 L1095.2 915.7 L1097.3 919.0 L1100.9 910.5 L1105.8 911.4 L1109.1 909.3 L1113.2 917.6 L1116.4 909.8 L1121.3 906.5 L1125.4 902.8 L1130.3 897.5 L1135.2 896.8 L1140.2 898.2 L1143.4 886.0 L1147.5 869.9 L1150.8 884.1 L1154.1 897.2 L1158.1 895.8 L1163.1 896.1 L1168.0 897.2 L1171.2 905.4 L1174.5 897.5 L1177.8 900.4 L1181.0 893.0 L1184.6 894.6 L1186.8 882.0 L1188.7 865.9 L1190.9 882.4 L1192.8 903.0 L1195.8 907.4 L1200.7 908.0 L1207.2 910.2 L1213.8 904.5 L1220.3 905.4 L1226.8 907.9 L1230.1 911.5 L1236.7 914.3 L1243.2 912.3 L1249.8 913.1 L1256.3 912.0 L1262.8 912.8 L1267.7 908.6 L1272.7 914.0 L1279.2 909.5 L1285.7 911.0 L1292.3 911.2 L1296.4 909.3 L1299.6 903.0 L1303.7 913.9 L1308.6 908.5 L1315.2 908.7 L1321.7 905.1 L1328.3 899.8 L1331.5 896.2 L1338.1 902.8 L1344.6 903.6 L1349.5 901.6 L1365.8 887.5 L1373.7 886.2 L1377.6 874.0 L1381.0 859.5 L1385.5 854.4 L1388.7 851.8 L1391.5 863.0 L1394.2 878.0 L1397.3 880.9 L1402.6 886.4 L1407.8 882.7 L1413.1 885.1 L1417.0 890.5 L1420.5 879.5 L1424.1 877.1 L1426.8 850.9 L1429.4 790.5 L1432.0 735.6 L1434.7 695.7 L1437.3 694.0 L1440.7 707.2 L1444.1 737.1 L1447.3 791.4 L1450.4 837.8 L1453.9 851.7 L1457.3 840.3 L1459.9 834.6 L1463.1 856.7 L1467.0 866.7 L1470.9 859.8 L1474.9 836.9 L1478.8 818.0 L1482.3 788.1 L1485.4 765.3 L1487.5 760.2 L1490.7 780.1 L1494.1 811.3 L1497.2 817.3 L1500.4 804.4 L1502.5 801.7 L1505.1 822.1 L1509.1 828.9 L1513.0 831.1 L1517.0 853.8 L1522.2 855.5 L1527.5 863.1 L1532.7 871.1 L1536.7 875.5 L1541.9 870.8 L1545.9 873.7 L1549.8 887.2 L1553.8 891.4 L1557.7 891.4 L1563.0 885.9 L1566.9 867.0 L1570.3 861.7 L1574.8 861.7 L1578.7 841.5 L1581.4 832.0 L1584.0 825.8 L1586.6 829.4 L1590.6 843.6 L1594.5 854.3 L1599.8 858.9 L1605.0 872.3 L1610.3 882.0 L1615.6 891.2 L1620.8 897.7 L1627.4 894.9 L1634.0 900.7 L1639.2 899.9 L1645.4 898.7 L1648.9 904.5 L1652.5 893.9 L1657.0 894.8 L1661.4 890.6 L1666.8 892.9 L1671.2 890.6 L1675.7 894.8 L1681.1 899.8 L1686.4 903.4 L1691.8 905.7 L1697.1 908.3 L1702.5 901.7 L1707.9 907.3 L1713.2 911.7 L1716.8 914.3 L1720.4 907.8 L1724.8 916.6 L1731.1 911.7 L1736.4 909.8 L1741.8 907.5 L1747.1 909.7 L1750.7 913.7 L1755.2 905.4 L1759.6 910.7 L1765.0 914.1 L1770.4 909.8 L1777.5 908.2 L1782.0 902.2 L1786.4 909.8 L1791.8 907.1 L1797.1 907.2 L1804.3 907.7 L1810.5 906.0 L1814.1 895.7 L1818.6 903.8 L1823.9 903.9 L1827.5 902.5 L1832.0 903.1 L1836.4 902.7 L1845.4 901.8 L1852.5 907.3 L1857.0 903.7 L1861.4 911.1 L1867.7 897.6 L1872.1 904.6 L1878.4 906.1 L1883.8 897.0 L1888.2 903.3 L1893.6 902.2 L1898.9 900.7 L1904.3 909.3 L1907.9 904.5 L1911.4 918.2 L1916.8 915.4 L1922.1 916.0 L1926.6 901.2 L1931.1 922.4 L1935.5 911.5 L1940.0 924.9 L1944.5 909.5 L1948.0 911.6 L1951.1 907.9" fill="none" stroke="#ff8205" stroke-width="3.9" stroke-linejoin="round"/>
<path d="M1069.8 796.9 L1073.1 771.2 L1076.4 737.5 L1079.3 718.0 L1081.3 735.9 L1083.2 779.3 L1085.4 802.6 L1088.6 808.1 L1092.7 810.0 L1095.2 824.6 L1097.3 825.4 L1100.9 819.2 L1105.8 821.1 L1109.1 817.8 L1113.2 822.4 L1116.4 818.9 L1121.3 813.7 L1125.4 809.0 L1130.3 806.7 L1135.2 803.6 L1140.2 805.4 L1143.4 792.3 L1147.5 780.0 L1150.8 792.3 L1154.1 806.7 L1158.1 803.5 L1163.1 806.3 L1168.0 806.2 L1171.2 810.1 L1174.5 807.0 L1177.8 806.5 L1181.0 801.1 L1184.6 803.2 L1186.8 790.2 L1188.7 777.1 L1190.9 789.1 L1192.8 813.0 L1195.8 814.3 L1200.7 817.5 L1207.2 817.6 L1213.8 813.2 L1220.3 813.2 L1226.8 815.2 L1230.1 818.6 L1236.7 822.8 L1243.2 821.8 L1249.8 821.0 L1256.3 821.4 L1262.8 823.1 L1267.7 817.7 L1272.7 818.8 L1279.2 822.0 L1285.7 822.0 L1292.3 821.1 L1296.4 817.3 L1299.6 811.3 L1303.7 820.2 L1308.6 820.4 L1315.2 815.6 L1321.7 812.0 L1328.3 810.5 L1331.5 804.3 L1338.1 811.7 L1344.6 809.2 L1349.5 811.4 L1365.8 799.2 L1373.7 794.6 L1377.6 782.0 L1381.0 767.8 L1385.5 764.6 L1388.7 758.0 L1391.5 772.5 L1394.2 788.6 L1397.3 790.0 L1402.6 795.3 L1407.8 793.3 L1413.1 794.3 L1417.0 800.4 L1420.5 788.8 L1424.1 786.7 L1426.8 758.1 L1429.4 701.2 L1432.0 647.6 L1434.7 609.9 L1437.3 605.3 L1440.7 615.6 L1444.1 647.1 L1447.3 703.0 L1450.4 745.2 L1453.9 758.5 L1457.3 746.2 L1459.9 745.6 L1463.1 767.3 L1467.0 776.2 L1470.9 767.3 L1474.9 748.0 L1478.8 724.7 L1482.3 689.0 L1485.4 665.7 L1487.5 659.7 L1490.7 682.3 L1494.1 717.2 L1497.2 725.4 L1500.4 712.5 L1502.5 708.3 L1505.1 732.9 L1509.1 738.7 L1513.0 743.0 L1517.0 761.2 L1522.2 763.8 L1527.5 771.4 L1532.7 780.7 L1536.7 785.2 L1541.9 777.6 L1545.9 780.7 L1549.8 795.3 L1553.8 799.1 L1557.7 800.3 L1563.0 793.7 L1566.9 774.6 L1570.3 772.6 L1574.8 769.5 L1578.7 748.7 L1581.4 736.5 L1584.0 730.2 L1586.6 737.6 L1590.6 749.2 L1594.5 760.3 L1599.8 766.7 L1605.0 780.6 L1610.3 792.1 L1615.6 801.2 L1620.8 807.6 L1627.4 803.2 L1634.0 809.4 L1639.2 812.3 L1645.4 807.9 L1648.9 813.4 L1652.5 803.6 L1657.0 802.5 L1661.4 800.6 L1666.8 803.0 L1671.2 799.5 L1675.7 807.7 L1681.1 806.7 L1686.4 812.0 L1691.8 813.0 L1697.1 816.1 L1702.5 813.6 L1707.9 814.3 L1713.2 821.3 L1716.8 824.1 L1720.4 819.3 L1724.8 822.6 L1731.1 817.6 L1736.4 820.0 L1741.8 817.6 L1747.1 818.0 L1750.7 826.2 L1755.2 816.7 L1759.6 821.2 L1765.0 821.6 L1770.4 818.2 L1777.5 815.8 L1782.0 811.3 L1786.4 817.8 L1791.8 813.7 L1797.1 814.6 L1804.3 816.8 L1810.5 813.4 L1814.1 805.9 L1818.6 814.4 L1823.9 810.9 L1827.5 807.7 L1832.0 815.7 L1836.4 811.4 L1845.4 815.5 L1852.5 814.3 L1857.0 809.0 L1861.4 816.3 L1867.7 807.6 L1872.1 808.7 L1878.4 821.0 L1883.8 807.2 L1888.2 808.4 L1893.6 806.4 L1898.9 810.1 L1904.3 812.0 L1907.9 818.9 L1911.4 822.6 L1916.8 821.0 L1922.1 823.2 L1926.6 817.9 L1931.1 835.8 L1935.5 820.5 L1940.0 826.3 L1944.5 817.4 L1948.0 818.6 L1951.1 815.5" fill="none" stroke="#ff8205" stroke-width="3.9" stroke-linejoin="round"/>
<path d="M1069.8 708.0 L1073.1 682.2 L1076.4 650.6 L1079.3 632.2 L1081.3 647.6 L1083.2 693.7 L1085.4 715.9 L1088.6 720.6 L1092.7 727.3 L1095.2 737.3 L1097.3 738.4 L1100.9 732.3 L1105.8 733.1 L1109.1 729.9 L1113.2 736.9 L1116.4 732.2 L1121.3 728.0 L1125.4 724.0 L1130.3 719.4 L1135.2 719.7 L1140.2 721.5 L1143.4 707.5 L1147.5 692.1 L1150.8 706.3 L1154.1 720.0 L1158.1 714.4 L1163.1 720.2 L1168.0 720.2 L1171.2 726.1 L1174.5 721.6 L1177.8 721.4 L1181.0 714.4 L1184.6 719.8 L1186.8 702.5 L1188.7 687.0 L1190.9 702.1 L1192.8 723.3 L1195.8 727.2 L1200.7 732.5 L1207.2 732.5 L1213.8 728.0 L1220.3 725.2 L1226.8 727.9 L1230.1 733.1 L1236.7 735.8 L1243.2 737.1 L1249.8 735.8 L1256.3 732.9 L1262.8 737.2 L1267.7 729.6 L1272.7 734.6 L1279.2 735.4 L1285.7 734.5 L1292.3 733.3 L1296.4 730.5 L1299.6 724.8 L1303.7 736.2 L1308.6 731.2 L1315.2 732.2 L1321.7 726.4 L1328.3 722.1 L1331.5 718.1 L1338.1 722.5 L1344.6 722.2 L1349.5 725.5 L1365.8 709.1 L1373.7 707.9 L1377.6 690.3 L1381.0 671.8 L1385.5 668.4 L1388.7 663.8 L1391.5 679.6 L1394.2 697.6 L1397.3 703.4 L1402.6 707.1 L1407.8 703.9 L1413.1 706.9 L1417.0 713.8 L1420.5 701.2 L1424.1 698.7 L1426.8 672.7 L1429.4 610.5 L1432.0 551.7 L1434.7 515.3 L1437.3 509.0 L1440.7 522.8 L1444.1 554.5 L1447.3 609.9 L1450.4 657.4 L1453.9 669.8 L1457.3 657.7 L1459.9 654.6 L1463.1 678.8 L1467.0 691.2 L1470.9 677.6 L1474.9 656.4 L1478.8 631.8 L1482.3 596.9 L1485.4 571.3 L1487.5 563.3 L1490.7 587.6 L1494.1 627.1 L1497.2 633.1 L1500.4 623.6 L1502.5 621.0 L1505.1 639.4 L1509.1 652.0 L1513.0 652.4 L1517.0 672.7 L1522.2 678.5 L1527.5 680.9 L1532.7 696.2 L1536.7 699.5 L1541.9 689.7 L1545.9 694.2 L1549.8 710.4 L1553.8 713.4 L1557.7 712.8 L1563.0 704.2 L1566.9 685.6 L1570.3 681.7 L1574.8 678.9 L1578.7 654.4 L1581.4 638.1 L1584.0 635.6 L1586.6 640.1 L1590.6 654.1 L1594.5 667.6 L1599.8 676.3 L1605.0 692.6 L1610.3 702.8 L1615.6 713.3 L1620.8 722.9 L1627.4 719.2 L1634.0 721.1 L1639.2 725.3 L1645.4 721.4 L1648.9 722.5 L1652.5 714.1 L1657.0 716.5 L1661.4 712.0 L1666.8 716.4 L1671.2 714.3 L1675.7 716.6 L1681.1 718.8 L1686.4 725.8 L1691.8 727.1 L1697.1 728.1 L1702.5 725.0 L1707.9 730.1 L1713.2 733.1 L1716.8 735.6 L1720.4 732.0 L1724.8 735.4 L1731.1 732.9 L1736.4 735.9 L1741.8 730.3 L1747.1 730.6 L1750.7 737.6 L1755.2 729.7 L1759.6 732.5 L1765.0 735.0 L1770.4 730.8 L1777.5 730.7 L1782.0 724.7 L1786.4 730.6 L1791.8 728.7 L1797.1 730.8 L1804.3 727.5 L1810.5 728.8 L1814.1 718.9 L1818.6 725.1 L1823.9 724.9 L1827.5 720.7 L1832.0 729.6 L1836.4 725.6 L1845.4 728.0 L1852.5 725.3 L1857.0 727.1 L1861.4 729.3 L1867.7 721.9 L1872.1 721.3 L1878.4 727.7 L1883.8 719.5 L1888.2 728.3 L1893.6 721.6 L1898.9 722.5 L1904.3 730.2 L1907.9 728.8 L1911.4 740.8 L1916.8 728.6 L1922.1 734.3 L1926.6 730.3 L1931.1 751.9 L1935.5 732.4 L1940.0 739.0 L1944.5 735.5 L1948.0 733.8 L1951.1 723.2" fill="none" stroke="#ff8205" stroke-width="3.9" stroke-linejoin="round"/>
<path d="M1069.8 629.8 L1073.1 599.8 L1076.4 568.3 L1079.3 546.3 L1081.3 567.7 L1083.2 613.1 L1085.4 640.4 L1088.6 640.3 L1092.7 649.5 L1095.2 656.5 L1097.3 660.1 L1100.9 655.5 L1105.8 658.6 L1109.1 654.5 L1113.2 661.6 L1116.4 651.4 L1121.3 647.9 L1125.4 644.7 L1130.3 640.8 L1135.2 638.7 L1140.2 641.1 L1143.4 628.7 L1147.5 614.0 L1150.8 630.6 L1154.1 643.5 L1158.1 636.8 L1163.1 641.2 L1168.0 643.0 L1171.2 645.4 L1174.5 643.9 L1177.8 644.1 L1181.0 636.3 L1184.6 639.8 L1186.8 627.4 L1188.7 609.4 L1190.9 625.4 L1192.8 649.4 L1195.8 649.7 L1200.7 653.6 L1207.2 654.8 L1213.8 651.7 L1220.3 650.5 L1226.8 652.6 L1230.1 654.1 L1236.7 657.3 L1243.2 658.4 L1249.8 658.7 L1256.3 658.6 L1262.8 657.0 L1267.7 654.2 L1272.7 655.9 L1279.2 655.2 L1285.7 656.6 L1292.3 657.3 L1296.4 655.9 L1299.6 644.3 L1303.7 655.5 L1308.6 655.7 L1315.2 653.1 L1321.7 648.7 L1328.3 646.5 L1331.5 643.0 L1338.1 647.5 L1344.6 647.0 L1349.5 647.2 L1365.8 634.1 L1373.7 630.9 L1377.6 614.3 L1381.0 597.2 L1385.5 590.3 L1388.7 587.4 L1391.5 603.8 L1394.2 621.2 L1397.3 624.5 L1402.6 630.4 L1407.8 625.7 L1413.1 631.5 L1417.0 635.7 L1420.5 621.5 L1424.1 622.4 L1426.8 594.9 L1429.4 533.9 L1432.0 478.1 L1434.7 439.3 L1437.3 434.7 L1440.7 447.2 L1444.1 478.7 L1447.3 533.6 L1450.4 579.0 L1453.9 595.9 L1457.3 581.1 L1459.9 580.4 L1463.1 599.2 L1467.0 614.6 L1470.9 604.4 L1474.9 581.2 L1478.8 552.8 L1482.3 515.9 L1485.4 486.7 L1487.5 483.0 L1490.7 508.8 L1494.1 548.3 L1497.2 554.8 L1500.4 546.8 L1502.5 544.2 L1505.1 566.2 L1509.1 574.8 L1513.0 575.2 L1517.0 595.5 L1522.2 600.6 L1527.5 605.2 L1532.7 618.8 L1536.7 620.0 L1541.9 616.2 L1545.9 614.9 L1549.8 633.6 L1553.8 633.7 L1557.7 635.7 L1563.0 629.2 L1566.9 609.3 L1570.3 603.0 L1574.8 601.8 L1578.7 579.7 L1581.4 563.4 L1584.0 559.3 L1586.6 564.1 L1590.6 578.8 L1594.5 592.2 L1599.8 600.9 L1605.0 615.7 L1610.3 625.4 L1615.6 636.1 L1620.8 641.9 L1627.4 641.4 L1634.0 644.6 L1639.2 646.2 L1645.4 642.0 L1648.9 648.0 L1652.5 636.6 L1657.0 638.4 L1661.4 633.4 L1666.8 636.9 L1671.2 634.2 L1675.7 641.2 L1681.1 643.1 L1686.4 645.4 L1691.8 647.2 L1697.1 650.5 L1702.5 648.9 L1707.9 651.0 L1713.2 656.4 L1716.8 656.6 L1720.4 654.2 L1724.8 657.1 L1731.1 656.1 L1736.4 656.4 L1741.8 652.6 L1747.1 656.6 L1750.7 658.6 L1755.2 650.4 L1759.6 656.3 L1765.0 658.6 L1770.4 652.1 L1777.5 649.6 L1782.0 645.9 L1786.4 652.8 L1791.8 651.8 L1797.1 653.1 L1804.3 653.3 L1810.5 649.8 L1814.1 644.5 L1818.6 650.2 L1823.9 644.6 L1827.5 646.6 L1832.0 647.4 L1836.4 648.3 L1845.4 646.4 L1852.5 651.1 L1857.0 647.3 L1861.4 654.6 L1867.7 644.4 L1872.1 644.2 L1878.4 652.9 L1883.8 648.3 L1888.2 646.0 L1893.6 639.4 L1898.9 647.1 L1904.3 650.6 L1907.9 651.3 L1911.4 659.4 L1916.8 653.6 L1922.1 659.1 L1926.6 653.1 L1931.1 672.1 L1935.5 654.4 L1940.0 661.7 L1944.5 658.0 L1948.0 654.9 L1951.1 645.7" fill="none" stroke="#ff8205" stroke-width="3.9" stroke-linejoin="round"/>
<text x="1959.15" y="665.50" font-size="34" fill="#231f20">12</text>
<text x="1960.35" y="743.00" font-size="34" fill="#231f20">11</text>
<text x="1958.95" y="835.70" font-size="34" fill="#231f20">10</text>
<text x="1968.05" y="924.60" font-size="34" fill="#231f20">9</text>
<text x="1968.05" y="996.70" font-size="34" fill="#231f20">8</text>
<text x="1968.05" y="1063.80" font-size="34" fill="#231f20">7</text>
<text x="1967.95" y="1139.00" font-size="34" fill="#231f20">6</text>
<text x="1968.05" y="1210.00" font-size="34" fill="#231f20">5</text>
<text x="1968.15" y="1385.70" font-size="34" fill="#231f20">4</text>
<text x="1968.15" y="1479.50" font-size="34" fill="#231f20">3</text>
<text x="1968.05" y="1568.40" font-size="34" fill="#231f20">2</text>
<text x="1967.55" y="1651.90" font-size="34" fill="#231f20">1</text>
<text x="2.36" y="1804.20" font-size="38" fill="#231f20" font-weight="bold" textLength="21.71" lengthAdjust="spacingAndGlyphs">e</text>
<defs><clipPath id="gclip"><ellipse cx="1195.8" cy="2003.2" rx="554.2" ry="174.7"/></clipPath></defs>
<ellipse cx="815" cy="2003.2" rx="556" ry="174.7" fill="#fd8a4f"/>
<ellipse cx="1195.8" cy="2003.2" rx="554.2" ry="174.7" fill="#135e0b"/>
<ellipse cx="815" cy="2003.2" rx="556" ry="174.7" fill="#87722e" clip-path="url(#gclip)"/>
<text x="643.0" y="1883.4" font-size="30.2" fill="#231f20"><tspan>LiH</tspan></text>
<text x="497.0" y="1917.8" font-size="30.2" fill="#231f20"><tspan>LiO</tspan><tspan font-size="19" dy="8">2</tspan></text>
<text x="279.0" y="2006.1" font-size="30.2" fill="#231f20"><tspan>TFSI</tspan><tspan font-size="19" dy="-11">-</tspan><tspan dy="11"> enriched</tspan></text>
<text x="522.0" y="2001.2" font-size="30.2" fill="#231f20"><tspan>(LiH)</tspan><tspan font-size="19" dy="8">x</tspan></text>
<text x="427.0" y="2093.5" font-size="30.2" fill="#231f20"><tspan>LiSO</tspan><tspan font-size="19" dy="8">2</tspan><tspan dy="-8">CF</tspan><tspan font-size="19" dy="8">3</tspan></text>
<text x="611.5" y="2143.5" font-size="30.2" fill="#231f20"><tspan>Li</tspan><tspan font-size="19" dy="8">2</tspan><tspan dy="-8">CO</tspan><tspan font-size="19" dy="8">3</tspan></text>
<text x="346.5" y="2187.7" font-size="30.2" fill="#231f20"><tspan>SEI Region I</tspan></text>
<text x="1526.0" y="2187.7" font-size="30.2" fill="#231f20"><tspan>SEI Region II</tspan></text>
<text x="1018.4" y="1920.2" font-size="30.2" fill="#fff" text-anchor="middle">Amorphous PEO</text>
<text x="1018.6" y="1974.2" font-size="30.2" fill="#fff" text-anchor="middle">Reduced interfacial electronic transitions</text>
<text x="1018.1" y="2027.2" font-size="30.2" fill="#fff" text-anchor="middle">C=O reduced compared to plated</text>
<text x="1019.1" y="2080.7" font-size="30.2" fill="#fff" text-anchor="middle">Many peaks from SPE persist</text>
<text x="1309.0" y="1883.4" font-size="30.2" fill="#fff"><tspan>LiF</tspan></text>
<text x="1430.0" y="1918.8" font-size="30.2" fill="#fff"><tspan>(LiF)</tspan><tspan font-size="19" dy="8">y</tspan></text>
<text x="1422.0" y="2001.2" font-size="30.2" fill="#fff"><tspan>Li</tspan><tspan font-size="19" dy="8">2</tspan><tspan dy="-8">O</tspan></text>
<text x="1594.0" y="2001.2" font-size="30.2" fill="#fff"><tspan>Li</tspan><tspan font-size="19" dy="8">2</tspan><tspan dy="-8">O</tspan><tspan font-size="19" dy="8">2</tspan></text>
<text x="1454.0" y="2093.5" font-size="30.2" fill="#fff"><tspan>Li</tspan><tspan font-size="19" dy="8">2</tspan><tspan dy="-8">SO</tspan><tspan font-size="19" dy="8">3</tspan></text>
<text x="1309.0" y="2137.6" font-size="30.2" fill="#fff"><tspan>Li</tspan><tspan font-size="19" dy="8">2</tspan><tspan dy="-8">S</tspan></text>
</svg>
</body></html>
